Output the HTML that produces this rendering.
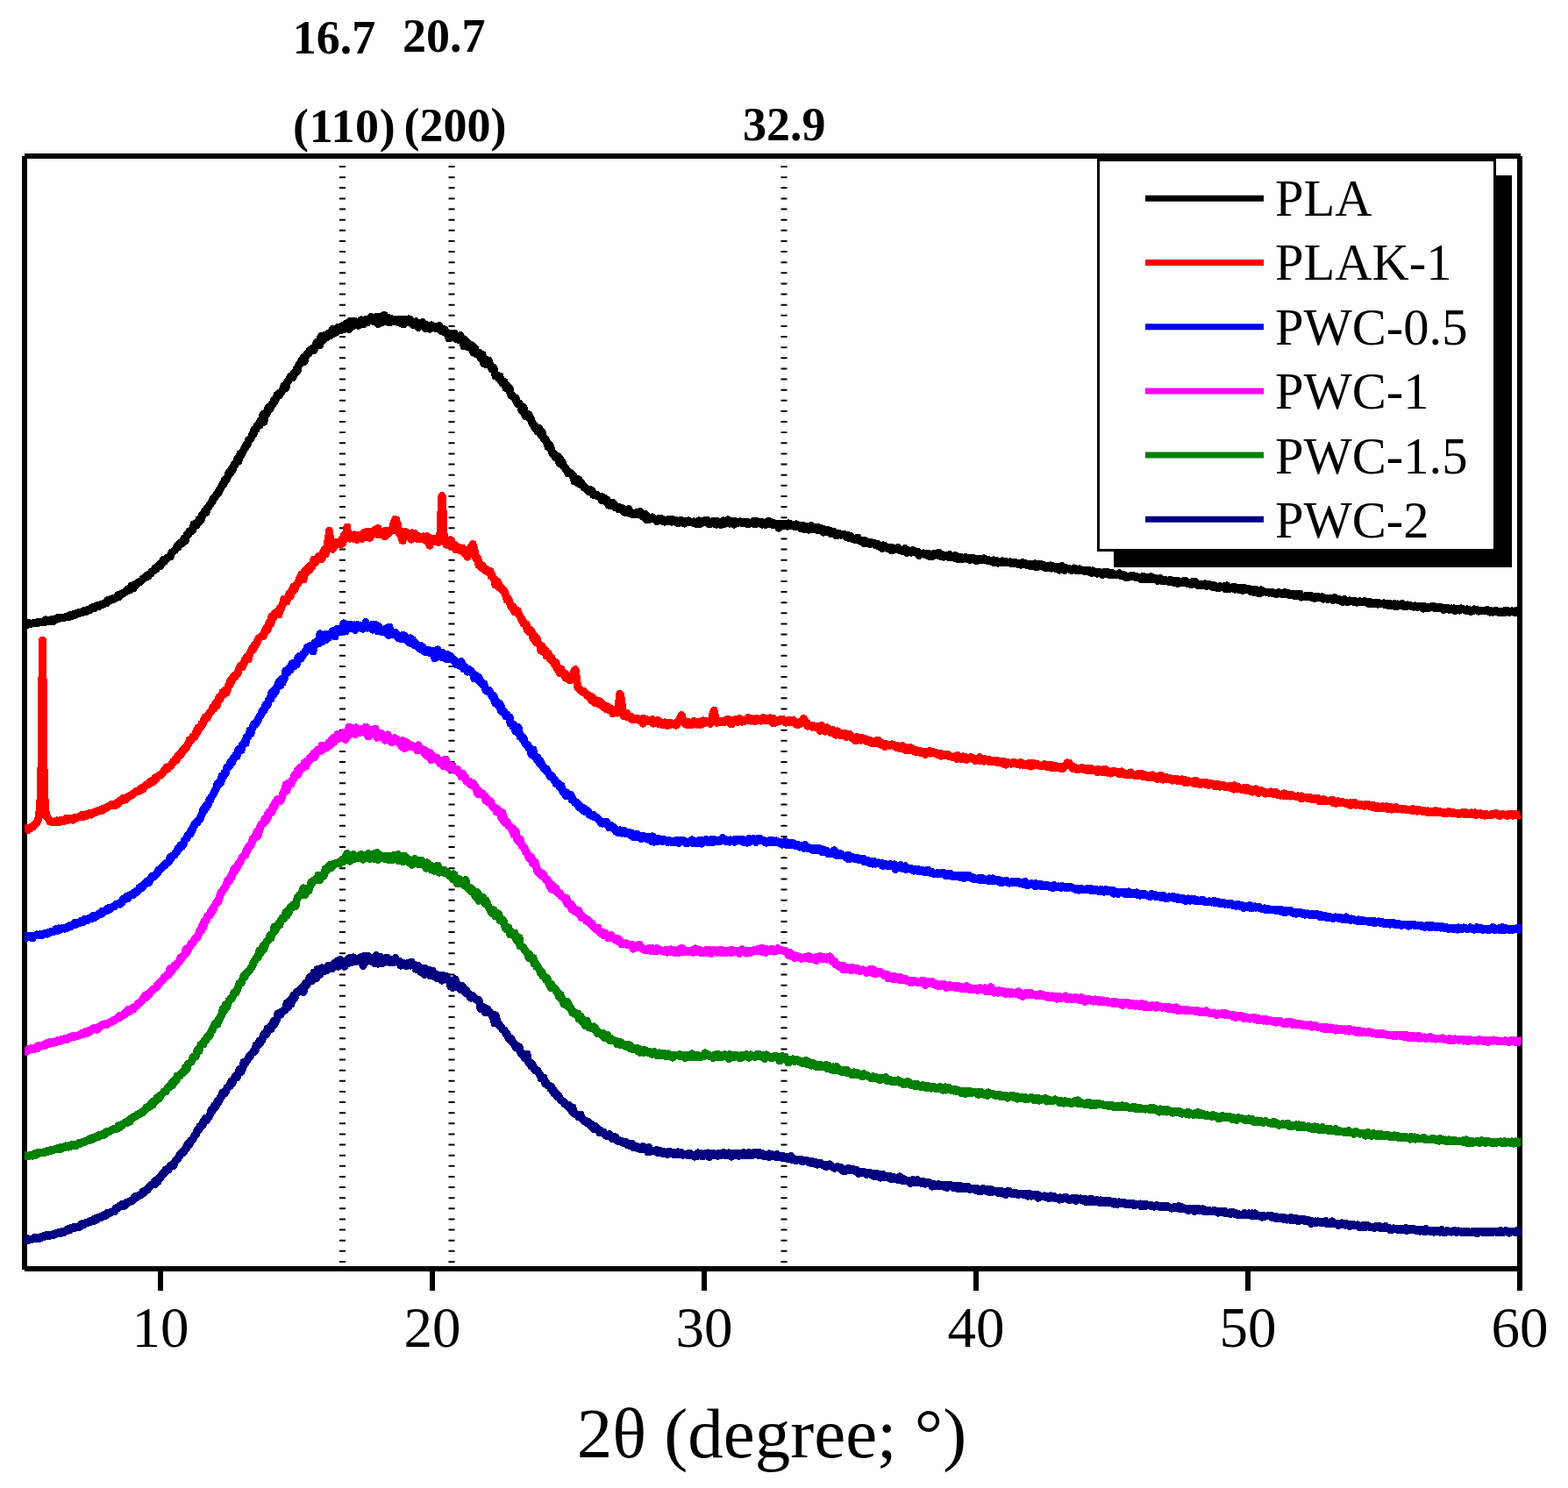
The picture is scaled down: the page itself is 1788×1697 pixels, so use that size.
<!DOCTYPE html>
<html><head><meta charset="utf-8"><title>XRD</title>
<style>
html,body{margin:0;padding:0;background:#fff;}
body{width:1788px;height:1697px;overflow:hidden;}
svg{display:block;}
.lg{font-family:'Liberation Serif','Times New Roman',serif;font-size:58.5px;fill:#000;}
.tk{font-family:'Liberation Serif','Times New Roman',serif;font-size:65px;fill:#000;}
.bd{font-family:'Liberation Serif','Times New Roman',serif;font-size:54px;font-weight:bold;fill:#000;}
.ax{font-family:'Liberation Serif','Times New Roman',serif;font-size:81px;fill:#000;}
</style></head>
<body>
<svg width="1788" height="1697" viewBox="0 0 1788 1697">
<rect x="0" y="0" width="1788" height="1697" fill="#fff"/>
<g><line x1="390.5" y1="189" x2="390.5" y2="1440" stroke="#000" stroke-width="7" stroke-dasharray="2 10.125"/><line x1="515.0" y1="189" x2="515.0" y2="1440" stroke="#000" stroke-width="7" stroke-dasharray="2 10.125"/><line x1="894.0" y1="189" x2="894.0" y2="1440" stroke="#000" stroke-width="7" stroke-dasharray="2 10.125"/></g>
<g fill="#000" shape-rendering="crispEdges">
<rect x="28" y="175" width="1706" height="6"/>
<rect x="25" y="178" width="6" height="1270"/>
<rect x="28" y="1444" width="1705" height="6"/>
<rect x="1730" y="178" width="6" height="1294"/>
<rect x="180.0" y="1448" width="6" height="24"/><text x="183.0" y="1536" class="tk" text-anchor="middle">10</text><rect x="490.0" y="1448" width="6" height="24"/><text x="493.0" y="1536" class="tk" text-anchor="middle">20</text><rect x="800.0" y="1448" width="6" height="24"/><text x="803.0" y="1536" class="tk" text-anchor="middle">30</text><rect x="1110.0" y="1448" width="6" height="24"/><text x="1113.0" y="1536" class="tk" text-anchor="middle">40</text><rect x="1420.0" y="1448" width="6" height="24"/><text x="1423.0" y="1536" class="tk" text-anchor="middle">50</text><text x="1733.0" y="1536" class="tk" text-anchor="middle">60</text>
</g>
<defs><clipPath id="pc"><rect x="28" y="0" width="1706.6" height="1697"/></clipPath></defs>
<g fill="none" stroke-width="9" stroke-linejoin="round" stroke-linecap="butt" shape-rendering="crispEdges" clip-path="url(#pc)">
<path d="M28.0 712.2L29.0 712.4L30.0 711.9L31.0 710.7L32.0 712.1L33.0 711.6L34.0 710.9L35.0 711.5L36.0 711.2L37.0 711.0L38.0 710.7L39.0 710.9L40.0 710.0L41.0 710.2L42.0 709.8L43.0 710.4L44.0 709.9L45.0 709.5L46.0 709.1L47.0 709.2L48.0 709.3L49.0 708.9L50.0 709.8L51.0 709.4L52.0 706.8L53.0 707.2L54.0 708.1L55.0 707.8L56.0 708.0L57.0 707.8L58.0 708.9L59.0 706.6L60.0 706.9L61.0 708.3L62.0 707.1L63.0 706.9L64.0 705.9L65.0 704.9L66.0 706.0L67.0 705.7L68.0 704.6L69.0 704.7L70.0 704.9L71.0 704.1L72.0 704.4L73.0 704.3L74.0 704.0L75.0 703.4L76.0 703.9L77.0 703.8L78.0 703.1L79.0 702.1L80.0 702.9L81.0 701.8L82.0 702.4L83.0 700.8L84.0 701.9L85.0 700.9L86.0 699.8L87.0 700.1L88.0 700.1L89.0 699.9L90.0 698.7L91.0 698.3L92.0 698.9L93.0 698.1L94.0 698.2L95.0 698.3L96.0 696.2L97.0 697.2L98.0 697.6L99.0 696.1L100.0 695.4L101.0 696.1L102.0 695.4L103.0 695.5L104.0 694.2L105.0 692.9L106.0 693.6L107.0 692.9L108.0 693.4L109.0 692.5L110.0 690.8L111.0 690.7L112.0 691.8L113.0 691.2L114.0 689.8L115.0 689.8L116.0 689.7L117.0 689.2L118.0 689.1L119.0 688.1L120.0 687.4L121.0 686.8L122.0 687.3L123.0 684.2L124.0 685.4L125.0 685.0L126.0 683.4L127.0 684.2L128.0 682.9L129.0 683.6L130.0 682.3L131.0 682.3L132.0 682.2L133.0 681.0L134.0 679.4L135.0 678.3L136.0 680.4L137.0 678.3L138.0 677.2L139.0 677.3L140.0 676.5L141.0 676.7L142.0 675.4L143.0 674.8L144.0 673.5L145.0 673.9L146.0 672.0L147.0 672.8L148.0 672.8L149.0 669.6L150.0 668.1L151.0 670.0L152.0 671.0L153.0 667.3L154.0 666.3L155.0 667.2L156.0 665.3L157.0 664.8L158.0 664.2L159.0 664.3L160.0 662.7L161.0 662.5L162.0 661.4L163.0 660.0L164.0 659.7L165.0 658.3L166.0 658.4L167.0 656.6L168.0 655.8L169.0 657.3L170.0 655.1L171.0 654.3L172.0 654.0L173.0 652.2L174.0 651.5L175.0 651.3L176.0 650.3L177.0 648.0L178.0 649.1L179.0 646.8L180.0 645.4L181.0 644.6L182.0 644.2L183.0 645.3L184.0 641.6L185.0 641.9L186.0 638.7L187.0 639.9L188.0 639.8L189.0 637.7L190.0 636.3L191.0 636.1L192.0 635.6L193.0 634.6L194.0 634.9L195.0 632.0L196.0 630.1L197.0 629.6L198.0 628.6L199.0 627.7L200.0 626.4L201.0 625.6L202.0 622.5L203.0 624.1L204.0 621.4L205.0 619.6L206.0 620.5L207.0 620.1L208.0 618.0L209.0 616.5L210.0 614.1L211.0 617.2L212.0 613.7L213.0 610.2L214.0 609.4L215.0 609.2L216.0 606.0L217.0 606.8L218.0 604.8L219.0 605.5L220.0 603.9L221.0 598.2L222.0 600.3L223.0 596.9L224.0 598.9L225.0 596.5L226.0 595.6L227.0 592.2L228.0 594.5L229.0 593.4L230.0 588.1L231.0 588.5L232.0 585.8L233.0 585.2L234.0 582.2L235.0 584.8L236.0 579.7L237.0 579.1L238.0 578.7L239.0 575.7L240.0 574.8L241.0 572.8L242.0 571.9L243.0 569.0L244.0 568.4L245.0 567.2L246.0 565.5L247.0 564.4L248.0 562.4L249.0 562.3L250.0 559.2L251.0 557.8L252.0 555.5L253.0 554.0L254.0 551.4L255.0 552.3L256.0 548.2L257.0 547.2L258.0 547.2L259.0 545.6L260.0 542.7L261.0 538.6L262.0 540.6L263.0 538.7L264.0 534.5L265.0 536.2L266.0 532.2L267.0 529.8L268.0 530.1L269.0 527.9L270.0 526.9L271.0 522.3L272.0 526.1L273.0 520.5L274.0 517.3L275.0 519.1L276.0 515.8L277.0 515.2L278.0 512.4L279.0 511.2L280.0 510.0L281.0 506.7L282.0 507.4L283.0 503.8L284.0 501.4L285.0 501.4L286.0 500.4L287.0 497.5L288.0 494.8L289.0 495.7L290.0 489.9L291.0 489.5L292.0 489.8L293.0 485.7L294.0 486.5L295.0 484.8L296.0 484.9L297.0 480.0L298.0 479.0L299.0 479.1L300.0 472.4L301.0 481.1L302.0 472.6L303.0 471.0L304.0 472.4L305.0 469.2L306.0 464.4L307.0 467.4L308.0 466.4L309.0 462.4L310.0 461.3L311.0 461.3L312.0 457.1L313.0 458.2L314.0 456.3L315.0 453.2L316.0 450.3L317.0 451.2L318.0 448.4L319.0 450.7L320.0 447.6L321.0 447.4L322.0 444.7L323.0 443.5L324.0 440.0L325.0 441.5L326.0 442.4L327.0 436.7L328.0 434.7L329.0 434.2L330.0 432.1L331.0 430.2L332.0 430.5L333.0 428.2L334.0 430.4L335.0 426.0L336.0 425.3L337.0 425.2L338.0 421.2L339.0 423.4L340.0 417.7L341.0 415.9L342.0 415.5L343.0 414.7L344.0 410.6L345.0 412.2L346.0 407.3L347.0 412.7L348.0 408.2L349.0 405.7L350.0 403.9L351.0 403.8L352.0 402.9L353.0 399.9L354.0 399.0L355.0 399.5L356.0 397.6L357.0 399.8L358.0 399.2L359.0 395.6L360.0 395.6L361.0 390.5L362.0 394.0L363.0 391.5L364.0 391.8L365.0 393.4L366.0 383.7L367.0 388.6L368.0 384.7L369.0 387.7L370.0 382.6L371.0 383.7L372.0 384.5L373.0 384.7L374.0 382.8L375.0 380.1L376.0 379.9L377.0 382.6L378.0 379.9L379.0 375.4L380.0 380.7L381.0 379.1L382.0 379.6L383.0 376.2L384.0 378.4L385.0 373.5L386.0 376.8L387.0 373.8L388.0 376.1L389.0 376.4L390.0 371.9L391.0 373.1L392.0 372.9L393.0 375.2L394.0 373.7L395.0 368.8L396.0 372.4L397.0 372.7L398.0 375.6L399.0 366.3L400.0 368.7L401.0 372.9L402.0 366.2L403.0 366.3L404.0 370.1L405.0 371.0L406.0 366.8L407.0 369.4L408.0 368.2L409.0 371.3L410.0 367.5L411.0 369.6L412.0 364.9L413.0 366.5L414.0 366.5L415.0 369.3L416.0 367.8L417.0 364.4L418.0 367.7L419.0 367.8L420.0 365.6L421.0 365.1L422.0 365.1L423.0 361.4L424.0 365.9L425.0 365.9L426.0 363.2L427.0 366.9L428.0 361.8L429.0 363.7L430.0 363.8L431.0 369.7L432.0 361.0L433.0 366.2L434.0 367.1L435.0 365.7L436.0 367.6L437.0 362.4L438.0 359.3L439.0 366.6L440.0 361.9L441.0 364.0L442.0 362.0L443.0 367.3L444.0 366.9L445.0 363.1L446.0 367.1L447.0 365.2L448.0 364.7L449.0 365.2L450.0 364.6L451.0 366.6L452.0 366.0L453.0 364.4L454.0 367.8L455.0 364.0L456.0 366.2L457.0 366.6L458.0 369.2L459.0 364.6L460.0 370.0L461.0 366.4L462.0 365.6L463.0 364.6L464.0 367.7L465.0 366.5L466.0 363.9L467.0 364.0L468.0 365.5L469.0 365.3L470.0 369.7L471.0 370.5L472.0 369.5L473.0 368.4L474.0 366.7L475.0 368.0L476.0 370.2L477.0 373.3L478.0 370.6L479.0 368.0L480.0 369.0L481.0 367.9L482.0 367.4L483.0 369.1L484.0 370.2L485.0 374.4L486.0 370.4L487.0 373.7L488.0 375.0L489.0 371.2L490.0 375.1L491.0 373.3L492.0 370.9L493.0 372.9L494.0 372.6L495.0 372.3L496.0 372.7L497.0 373.9L498.0 374.9L499.0 372.2L500.0 374.6L501.0 371.4L502.0 376.0L503.0 377.2L504.0 376.6L505.0 377.3L506.0 378.4L507.0 375.9L508.0 377.4L509.0 379.6L510.0 381.2L511.0 380.2L512.0 385.8L513.0 380.1L514.0 383.2L515.0 384.3L516.0 381.6L517.0 380.5L518.0 380.3L519.0 383.9L520.0 386.7L521.0 385.4L522.0 385.8L523.0 385.1L524.0 387.9L525.0 382.4L526.0 388.4L527.0 388.6L528.0 386.1L529.0 394.9L530.0 387.5L531.0 388.9L532.0 389.4L533.0 395.4L534.0 391.6L535.0 395.9L536.0 396.5L537.0 396.6L538.0 393.9L539.0 396.3L540.0 402.2L541.0 396.5L542.0 398.4L543.0 400.8L544.0 403.8L545.0 403.5L546.0 405.5L547.0 402.5L548.0 407.9L549.0 408.0L550.0 404.3L551.0 412.2L552.0 414.8L553.0 409.2L554.0 412.1L555.0 416.0L556.0 410.9L557.0 411.0L558.0 413.6L559.0 416.3L560.0 417.4L561.0 421.1L562.0 421.6L563.0 419.6L564.0 424.6L565.0 428.6L566.0 428.4L567.0 429.2L568.0 428.5L569.0 431.7L570.0 429.0L571.0 433.8L572.0 433.4L573.0 437.2L574.0 437.2L575.0 435.3L576.0 439.1L577.0 442.7L578.0 439.3L579.0 441.8L580.0 442.8L581.0 442.7L582.0 448.9L583.0 451.0L584.0 451.4L585.0 451.6L586.0 452.5L587.0 454.4L588.0 453.9L589.0 458.5L590.0 460.1L591.0 461.3L592.0 459.9L593.0 462.5L594.0 463.4L595.0 468.5L596.0 466.9L597.0 464.4L598.0 470.1L599.0 474.3L600.0 473.4L601.0 475.2L602.0 475.0L603.0 472.8L604.0 474.5L605.0 476.9L606.0 480.4L607.0 482.6L608.0 484.7L609.0 484.3L610.0 488.0L611.0 487.2L612.0 487.9L613.0 492.0L614.0 490.3L615.0 488.6L616.0 492.9L617.0 496.4L618.0 492.3L619.0 498.4L620.0 499.9L621.0 499.4L622.0 500.7L623.0 503.9L624.0 505.2L625.0 509.6L626.0 509.5L627.0 507.6L628.0 510.2L629.0 514.2L630.0 517.5L631.0 516.4L632.0 517.6L633.0 521.5L634.0 519.8L635.0 520.6L636.0 520.2L637.0 523.0L638.0 528.5L639.0 524.1L640.0 527.6L641.0 526.7L642.0 530.3L643.0 532.7L644.0 532.2L645.0 534.9L646.0 536.0L647.0 536.8L648.0 539.9L649.0 539.6L650.0 539.0L651.0 539.5L652.0 540.4L653.0 543.4L654.0 543.3L655.0 548.8L656.0 548.5L657.0 546.4L658.0 547.2L659.0 551.2L660.0 546.9L661.0 549.9L662.0 552.8L663.0 551.0L664.0 552.5L665.0 553.6L666.0 555.9L667.0 556.0L668.0 557.2L669.0 558.2L670.0 558.2L671.0 560.5L672.0 558.7L673.0 558.5L674.0 558.7L675.0 559.7L676.0 561.9L677.0 564.8L678.0 564.3L679.0 563.9L680.0 563.9L681.0 565.4L682.0 566.2L683.0 566.6L684.0 566.0L685.0 568.0L686.0 570.6L687.0 566.9L688.0 570.1L689.0 568.1L690.0 571.8L691.0 571.1L692.0 569.9L693.0 573.4L694.0 576.2L695.0 574.5L696.0 576.4L697.0 575.3L698.0 573.0L699.0 577.0L700.0 576.3L701.0 575.4L702.0 578.8L703.0 578.6L704.0 578.0L705.0 580.3L706.0 578.5L707.0 580.9L708.0 579.2L709.0 581.6L710.0 579.9L711.0 583.6L712.0 582.4L713.0 584.3L714.0 581.8L715.0 582.6L716.0 584.7L717.0 580.4L718.0 582.9L719.0 586.0L720.0 585.6L721.0 586.6L722.0 585.3L723.0 586.7L724.0 585.4L725.0 584.8L726.0 584.7L727.0 586.5L728.0 586.8L729.0 587.0L730.0 583.5L731.0 585.8L732.0 587.9L733.0 589.2L734.0 588.3L735.0 588.2L736.0 586.6L737.0 592.4L738.0 588.6L739.0 592.4L740.0 592.4L741.0 591.0L742.0 590.2L743.0 591.3L744.0 589.8L745.0 591.8L746.0 591.7L747.0 592.5L748.0 593.2L749.0 594.4L750.0 591.9L751.0 593.8L752.0 591.7L753.0 591.7L754.0 592.2L755.0 591.9L756.0 594.5L757.0 594.5L758.0 595.1L759.0 593.6L760.0 594.1L761.0 593.2L762.0 592.6L763.0 594.7L764.0 594.6L765.0 592.9L766.0 595.1L767.0 592.4L768.0 594.4L769.0 593.9L770.0 594.1L771.0 593.5L772.0 596.1L773.0 595.7L774.0 596.6L775.0 595.3L776.0 593.6L777.0 594.8L778.0 593.9L779.0 596.0L780.0 596.9L781.0 595.9L782.0 594.8L783.0 595.1L784.0 595.9L785.0 593.9L786.0 595.9L787.0 596.0L788.0 595.1L789.0 595.3L790.0 596.1L791.0 594.9L792.0 594.9L793.0 596.9L794.0 596.2L795.0 598.0L796.0 594.8L797.0 593.8L798.0 597.2L799.0 597.2L800.0 595.1L801.0 594.2L802.0 596.0L803.0 593.9L804.0 595.6L805.0 593.4L806.0 595.8L807.0 593.5L808.0 595.8L809.0 598.0L810.0 595.8L811.0 597.0L812.0 595.3L813.0 595.0L814.0 594.2L815.0 597.4L816.0 596.0L817.0 598.1L818.0 594.6L819.0 595.8L820.0 596.2L821.0 597.8L822.0 598.3L823.0 595.3L824.0 594.7L825.0 593.9L826.0 597.7L827.0 595.9L828.0 595.3L829.0 596.0L830.0 592.9L831.0 593.9L832.0 597.2L833.0 596.5L834.0 596.2L835.0 594.8L836.0 596.8L837.0 598.2L838.0 594.5L839.0 596.1L840.0 595.5L841.0 596.5L842.0 596.1L843.0 595.9L844.0 595.0L845.0 596.0L846.0 595.3L847.0 595.9L848.0 596.0L849.0 596.9L850.0 595.4L851.0 595.7L852.0 597.4L853.0 595.9L854.0 595.8L855.0 597.2L856.0 596.5L857.0 596.3L858.0 596.5L859.0 594.7L860.0 596.8L861.0 597.9L862.0 597.0L863.0 594.4L864.0 596.7L865.0 595.3L866.0 596.1L867.0 596.6L868.0 595.0L869.0 598.2L870.0 596.5L871.0 597.6L872.0 597.4L873.0 598.3L874.0 598.2L875.0 594.9L876.0 596.9L877.0 594.2L878.0 596.4L879.0 597.8L880.0 598.1L881.0 598.6L882.0 596.7L883.0 597.6L884.0 597.4L885.0 598.9L886.0 599.3L887.0 597.0L888.0 602.2L889.0 597.6L890.0 597.2L891.0 598.5L892.0 598.7L893.0 598.6L894.0 597.2L895.0 599.9L896.0 598.2L897.0 600.1L898.0 600.1L899.0 596.9L900.0 597.4L901.0 597.4L902.0 599.1L903.0 598.9L904.0 599.3L905.0 598.1L906.0 599.7L907.0 601.0L908.0 597.8L909.0 599.3L910.0 600.0L911.0 599.7L912.0 599.7L913.0 602.3L914.0 601.8L915.0 601.4L916.0 599.6L917.0 603.4L918.0 601.3L919.0 600.3L920.0 600.8L921.0 600.8L922.0 604.1L923.0 601.9L924.0 601.9L925.0 599.5L926.0 603.1L927.0 601.1L928.0 601.2L929.0 603.5L930.0 602.0L931.0 604.2L932.0 604.7L933.0 601.5L934.0 603.7L935.0 602.2L936.0 604.2L937.0 605.6L938.0 603.1L939.0 607.1L940.0 604.8L941.0 604.0L942.0 605.5L943.0 606.8L944.0 604.5L945.0 606.4L946.0 605.0L947.0 608.3L948.0 607.3L949.0 606.9L950.0 608.9L951.0 606.4L952.0 607.7L953.0 610.6L954.0 608.6L955.0 610.6L956.0 609.5L957.0 608.7L958.0 609.5L959.0 610.2L960.0 609.9L961.0 609.7L962.0 610.0L963.0 609.5L964.0 611.6L965.0 612.2L966.0 612.9L967.0 610.2L968.0 613.5L969.0 612.9L970.0 611.5L971.0 613.6L972.0 614.7L973.0 614.6L974.0 615.1L975.0 615.7L976.0 615.9L977.0 615.1L978.0 613.1L979.0 614.9L980.0 616.4L981.0 615.8L982.0 617.4L983.0 617.8L984.0 617.2L985.0 619.6L986.0 616.6L987.0 619.1L988.0 617.8L989.0 617.7L990.0 619.5L991.0 618.4L992.0 620.3L993.0 618.4L994.0 620.0L995.0 619.3L996.0 620.2L997.0 620.3L998.0 619.7L999.0 622.0L1000.0 620.1L1001.0 620.7L1002.0 623.0L1003.0 623.3L1004.0 623.2L1005.0 623.1L1006.0 625.5L1007.0 621.9L1008.0 622.7L1009.0 622.6L1010.0 624.9L1011.0 624.5L1012.0 625.6L1013.0 625.7L1014.0 624.6L1015.0 624.2L1016.0 624.2L1017.0 627.9L1018.0 626.7L1019.0 626.5L1020.0 625.7L1021.0 626.1L1022.0 626.1L1023.0 626.3L1024.0 624.3L1025.0 627.0L1026.0 626.8L1027.0 627.7L1028.0 627.8L1029.0 628.7L1030.0 627.9L1031.0 629.0L1032.0 625.6L1033.0 627.3L1034.0 630.5L1035.0 627.5L1036.0 628.7L1037.0 629.9L1038.0 628.4L1039.0 630.2L1040.0 628.1L1041.0 627.7L1042.0 628.5L1043.0 628.3L1044.0 630.2L1045.0 630.0L1046.0 630.9L1047.0 629.6L1048.0 633.5L1049.0 630.8L1050.0 631.0L1051.0 631.7L1052.0 631.1L1053.0 630.8L1054.0 631.7L1055.0 632.7L1056.0 632.6L1057.0 633.0L1058.0 631.5L1059.0 631.4L1060.0 634.5L1061.0 632.2L1062.0 633.1L1063.0 633.5L1064.0 634.3L1065.0 631.5L1066.0 632.6L1067.0 632.7L1068.0 633.0L1069.0 630.9L1070.0 633.4L1071.0 630.6L1072.0 634.1L1073.0 634.4L1074.0 634.6L1075.0 632.8L1076.0 635.2L1077.0 633.4L1078.0 633.1L1079.0 633.5L1080.0 633.7L1081.0 634.9L1082.0 635.6L1083.0 632.7L1084.0 634.4L1085.0 636.0L1086.0 635.4L1087.0 635.8L1088.0 633.8L1089.0 636.5L1090.0 633.9L1091.0 635.9L1092.0 637.2L1093.0 637.8L1094.0 636.5L1095.0 637.0L1096.0 635.5L1097.0 635.7L1098.0 637.5L1099.0 636.4L1100.0 636.4L1101.0 635.2L1102.0 636.9L1103.0 637.5L1104.0 636.1L1105.0 636.5L1106.0 638.7L1107.0 637.4L1108.0 637.0L1109.0 636.2L1110.0 636.8L1111.0 637.3L1112.0 639.1L1113.0 637.1L1114.0 639.7L1115.0 637.0L1116.0 637.7L1117.0 639.0L1118.0 638.0L1119.0 637.5L1120.0 638.3L1121.0 639.0L1122.0 636.9L1123.0 638.5L1124.0 638.7L1125.0 638.5L1126.0 639.8L1127.0 638.5L1128.0 638.8L1129.0 639.3L1130.0 640.1L1131.0 639.3L1132.0 641.1L1133.0 638.8L1134.0 641.1L1135.0 639.0L1136.0 639.8L1137.0 640.5L1138.0 642.3L1139.0 641.2L1140.0 640.0L1141.0 641.8L1142.0 640.4L1143.0 639.9L1144.0 641.3L1145.0 641.0L1146.0 642.0L1147.0 640.6L1148.0 641.6L1149.0 642.0L1150.0 641.7L1151.0 641.5L1152.0 640.9L1153.0 642.6L1154.0 642.0L1155.0 642.4L1156.0 641.7L1157.0 642.2L1158.0 641.2L1159.0 642.4L1160.0 643.2L1161.0 642.7L1162.0 643.5L1163.0 643.1L1164.0 644.2L1165.0 642.8L1166.0 641.5L1167.0 643.6L1168.0 643.1L1169.0 642.4L1170.0 644.2L1171.0 643.9L1172.0 644.2L1173.0 643.5L1174.0 644.1L1175.0 644.3L1176.0 645.9L1177.0 643.6L1178.0 644.4L1179.0 644.8L1180.0 642.9L1181.0 643.1L1182.0 647.0L1183.0 643.2L1184.0 645.6L1185.0 644.3L1186.0 644.5L1187.0 643.4L1188.0 644.6L1189.0 646.3L1190.0 644.3L1191.0 646.4L1192.0 646.2L1193.0 648.0L1194.0 645.7L1195.0 647.5L1196.0 647.2L1197.0 646.2L1198.0 644.9L1199.0 648.1L1200.0 645.4L1201.0 646.4L1202.0 647.9L1203.0 648.2L1204.0 646.4L1205.0 647.3L1206.0 647.2L1207.0 648.7L1208.0 650.1L1209.0 646.0L1210.0 648.8L1211.0 645.2L1212.0 648.1L1213.0 647.2L1214.0 650.3L1215.0 648.6L1216.0 647.9L1217.0 648.2L1218.0 648.2L1219.0 649.1L1220.0 648.9L1221.0 649.8L1222.0 650.7L1223.0 650.0L1224.0 648.3L1225.0 648.0L1226.0 649.0L1227.0 650.8L1228.0 649.6L1229.0 649.4L1230.0 650.3L1231.0 648.9L1232.0 649.3L1233.0 651.0L1234.0 650.3L1235.0 650.3L1236.0 651.1L1237.0 650.4L1238.0 650.4L1239.0 650.8L1240.0 651.9L1241.0 651.5L1242.0 650.4L1243.0 651.4L1244.0 652.4L1245.0 653.7L1246.0 650.9L1247.0 652.4L1248.0 652.0L1249.0 653.1L1250.0 652.9L1251.0 654.0L1252.0 653.2L1253.0 652.3L1254.0 652.4L1255.0 653.4L1256.0 653.5L1257.0 655.5L1258.0 655.0L1259.0 652.4L1260.0 654.0L1261.0 652.5L1262.0 652.3L1263.0 654.7L1264.0 654.6L1265.0 653.2L1266.0 655.9L1267.0 653.5L1268.0 653.5L1269.0 655.3L1270.0 655.0L1271.0 654.8L1272.0 655.0L1273.0 655.4L1274.0 655.1L1275.0 655.2L1276.0 653.7L1277.0 654.4L1278.0 656.3L1279.0 655.2L1280.0 656.5L1281.0 657.2L1282.0 655.9L1283.0 656.6L1284.0 658.4L1285.0 657.2L1286.0 658.4L1287.0 658.2L1288.0 657.6L1289.0 656.9L1290.0 656.4L1291.0 656.2L1292.0 657.8L1293.0 657.9L1294.0 657.5L1295.0 658.5L1296.0 657.3L1297.0 659.0L1298.0 658.1L1299.0 658.2L1300.0 658.3L1301.0 658.4L1302.0 660.9L1303.0 657.2L1304.0 659.0L1305.0 660.1L1306.0 659.7L1307.0 658.9L1308.0 660.9L1309.0 658.4L1310.0 658.3L1311.0 660.2L1312.0 658.4L1313.0 657.7L1314.0 660.8L1315.0 660.8L1316.0 660.9L1317.0 659.9L1318.0 660.6L1319.0 659.7L1320.0 662.3L1321.0 661.5L1322.0 661.6L1323.0 659.3L1324.0 661.9L1325.0 662.7L1326.0 662.5L1327.0 662.3L1328.0 661.7L1329.0 661.5L1330.0 662.4L1331.0 662.4L1332.0 662.3L1333.0 662.0L1334.0 663.9L1335.0 661.4L1336.0 662.6L1337.0 662.2L1338.0 663.8L1339.0 664.3L1340.0 664.2L1341.0 663.9L1342.0 662.1L1343.0 665.3L1344.0 664.0L1345.0 663.6L1346.0 663.8L1347.0 663.6L1348.0 664.4L1349.0 664.4L1350.0 664.0L1351.0 662.1L1352.0 664.5L1353.0 665.1L1354.0 665.2L1355.0 664.7L1356.0 665.4L1357.0 666.0L1358.0 664.8L1359.0 666.6L1360.0 663.7L1361.0 664.5L1362.0 664.9L1363.0 663.7L1364.0 665.1L1365.0 667.2L1366.0 667.3L1367.0 666.4L1368.0 667.9L1369.0 666.7L1370.0 666.2L1371.0 667.0L1372.0 666.8L1373.0 667.6L1374.0 665.8L1375.0 668.1L1376.0 666.9L1377.0 668.2L1378.0 666.2L1379.0 667.3L1380.0 667.9L1381.0 668.7L1382.0 667.0L1383.0 669.6L1384.0 668.7L1385.0 667.9L1386.0 669.6L1387.0 668.7L1388.0 669.8L1389.0 670.9L1390.0 669.7L1391.0 668.6L1392.0 668.9L1393.0 669.8L1394.0 669.7L1395.0 668.9L1396.0 669.1L1397.0 670.4L1398.0 671.9L1399.0 667.8L1400.0 670.8L1401.0 670.1L1402.0 671.1L1403.0 671.2L1404.0 670.7L1405.0 669.9L1406.0 669.7L1407.0 669.4L1408.0 672.1L1409.0 671.0L1410.0 670.8L1411.0 671.2L1412.0 670.4L1413.0 671.9L1414.0 672.9L1415.0 672.9L1416.0 670.7L1417.0 673.3L1418.0 671.6L1419.0 670.7L1420.0 671.4L1421.0 671.8L1422.0 672.7L1423.0 671.9L1424.0 671.6L1425.0 672.8L1426.0 674.8L1427.0 672.7L1428.0 673.8L1429.0 673.6L1430.0 675.8L1431.0 672.1L1432.0 674.7L1433.0 672.9L1434.0 673.6L1435.0 674.1L1436.0 677.0L1437.0 673.8L1438.0 672.9L1439.0 675.7L1440.0 674.0L1441.0 674.6L1442.0 674.9L1443.0 675.1L1444.0 675.0L1445.0 675.5L1446.0 675.7L1447.0 676.2L1448.0 675.3L1449.0 675.1L1450.0 675.0L1451.0 676.4L1452.0 676.0L1453.0 676.6L1454.0 676.7L1455.0 677.8L1456.0 676.7L1457.0 677.2L1458.0 675.7L1459.0 675.9L1460.0 676.7L1461.0 676.1L1462.0 677.7L1463.0 676.2L1464.0 677.4L1465.0 675.5L1466.0 676.7L1467.0 677.4L1468.0 677.6L1469.0 676.5L1470.0 678.1L1471.0 678.9L1472.0 678.8L1473.0 677.8L1474.0 678.0L1475.0 677.6L1476.0 679.2L1477.0 680.0L1478.0 678.5L1479.0 677.6L1480.0 679.3L1481.0 679.8L1482.0 677.1L1483.0 679.5L1484.0 681.3L1485.0 680.3L1486.0 680.2L1487.0 680.2L1488.0 680.8L1489.0 679.3L1490.0 679.5L1491.0 680.6L1492.0 679.8L1493.0 680.7L1494.0 679.0L1495.0 681.3L1496.0 681.5L1497.0 680.9L1498.0 681.1L1499.0 682.4L1500.0 680.3L1501.0 680.6L1502.0 680.5L1503.0 681.2L1504.0 680.8L1505.0 681.8L1506.0 681.3L1507.0 680.8L1508.0 680.8L1509.0 683.1L1510.0 682.2L1511.0 682.2L1512.0 682.5L1513.0 682.5L1514.0 683.3L1515.0 683.2L1516.0 682.4L1517.0 682.3L1518.0 682.2L1519.0 682.2L1520.0 684.4L1521.0 682.6L1522.0 681.8L1523.0 682.9L1524.0 683.0L1525.0 684.0L1526.0 683.1L1527.0 684.4L1528.0 684.3L1529.0 685.1L1530.0 685.9L1531.0 686.6L1532.0 685.5L1533.0 683.6L1534.0 684.3L1535.0 684.9L1536.0 686.4L1537.0 685.4L1538.0 686.0L1539.0 685.0L1540.0 685.7L1541.0 685.9L1542.0 685.0L1543.0 686.1L1544.0 686.4L1545.0 685.6L1546.0 686.6L1547.0 687.2L1548.0 686.0L1549.0 686.1L1550.0 685.9L1551.0 685.8L1552.0 686.5L1553.0 686.1L1554.0 686.3L1555.0 686.0L1556.0 685.5L1557.0 686.1L1558.0 687.1L1559.0 686.1L1560.0 686.6L1561.0 688.4L1562.0 688.1L1563.0 686.8L1564.0 687.9L1565.0 687.0L1566.0 688.9L1567.0 687.2L1568.0 687.9L1569.0 688.9L1570.0 687.3L1571.0 689.1L1572.0 687.5L1573.0 688.4L1574.0 688.1L1575.0 688.3L1576.0 688.6L1577.0 688.5L1578.0 687.9L1579.0 689.4L1580.0 689.4L1581.0 689.9L1582.0 690.1L1583.0 688.1L1584.0 690.2L1585.0 690.3L1586.0 688.9L1587.0 690.2L1588.0 690.6L1589.0 689.2L1590.0 688.6L1591.0 689.5L1592.0 692.0L1593.0 690.1L1594.0 689.1L1595.0 689.9L1596.0 689.4L1597.0 690.0L1598.0 690.4L1599.0 688.5L1600.0 690.8L1601.0 691.7L1602.0 690.5L1603.0 690.5L1604.0 691.7L1605.0 689.9L1606.0 690.0L1607.0 690.0L1608.0 691.0L1609.0 691.5L1610.0 691.2L1611.0 691.8L1612.0 692.1L1613.0 691.9L1614.0 691.0L1615.0 691.5L1616.0 692.7L1617.0 691.0L1618.0 691.7L1619.0 691.7L1620.0 691.9L1621.0 691.3L1622.0 691.2L1623.0 694.2L1624.0 693.1L1625.0 691.9L1626.0 692.5L1627.0 693.1L1628.0 692.4L1629.0 693.2L1630.0 692.3L1631.0 692.6L1632.0 692.9L1633.0 692.7L1634.0 691.2L1635.0 693.2L1636.0 693.4L1637.0 693.6L1638.0 692.6L1639.0 693.7L1640.0 693.7L1641.0 692.2L1642.0 692.0L1643.0 694.0L1644.0 693.1L1645.0 694.6L1646.0 695.5L1647.0 693.5L1648.0 693.5L1649.0 694.1L1650.0 694.7L1651.0 693.4L1652.0 695.2L1653.0 695.1L1654.0 694.9L1655.0 694.1L1656.0 695.2L1657.0 695.2L1658.0 693.8L1659.0 696.3L1660.0 694.6L1661.0 695.1L1662.0 694.5L1663.0 695.3L1664.0 695.9L1665.0 694.5L1666.0 693.9L1667.0 694.9L1668.0 694.3L1669.0 694.8L1670.0 695.3L1671.0 695.4L1672.0 696.5L1673.0 694.8L1674.0 695.9L1675.0 695.3L1676.0 696.7L1677.0 697.6L1678.0 696.1L1679.0 697.1L1680.0 695.6L1681.0 694.8L1682.0 695.1L1683.0 695.0L1684.0 695.5L1685.0 696.1L1686.0 697.1L1687.0 696.8L1688.0 696.7L1689.0 696.1L1690.0 696.0L1691.0 696.6L1692.0 696.7L1693.0 696.8L1694.0 697.0L1695.0 696.7L1696.0 695.4L1697.0 696.0L1698.0 696.3L1699.0 698.2L1700.0 696.7L1701.0 697.5L1702.0 698.1L1703.0 697.4L1704.0 696.9L1705.0 697.0L1706.0 696.5L1707.0 697.5L1708.0 698.2L1709.0 697.8L1710.0 698.0L1711.0 698.0L1712.0 699.0L1713.0 697.1L1714.0 697.7L1715.0 698.2L1716.0 698.6L1717.0 696.0L1718.0 697.4L1719.0 697.7L1720.0 697.1L1721.0 698.5L1722.0 698.1L1723.0 697.7L1724.0 696.8L1725.0 697.1L1726.0 697.4L1727.0 698.4L1728.0 697.3L1729.0 696.7L1730.0 697.2L1731.0 697.8L1732.0 699.5L1733.0 700.1L1734.0 698.0" stroke="#000000"/>
<path d="M28.0 946.9L29.0 946.1L30.0 945.7L31.0 944.0L32.0 946.3L33.0 945.5L34.0 944.0L35.0 944.3L36.0 943.5L37.0 942.4L38.0 942.8L39.0 941.2L40.0 940.3L41.0 938.9L42.0 938.3L43.0 935.8L44.0 932.8L45.0 925.7L46.0 912.8L47.0 876.0L48.0 773.1L48.5 730.3L49.0 772.5L50.0 876.2L51.0 910.8L52.0 924.9L53.0 931.6L54.0 932.0L55.0 933.6L56.0 934.7L57.0 936.9L58.0 936.7L59.0 937.6L60.0 937.4L61.0 937.1L62.0 937.1L63.0 936.7L64.0 937.4L65.0 935.9L66.0 936.2L67.0 936.6L68.0 937.5L69.0 935.6L70.0 935.2L71.0 935.4L72.0 936.3L73.0 935.2L74.0 936.2L75.0 933.7L76.0 935.6L77.0 935.4L78.0 933.4L79.0 934.3L80.0 934.9L81.0 933.9L82.0 934.3L83.0 935.1L84.0 933.4L85.0 932.7L86.0 932.2L87.0 933.0L88.0 932.1L89.0 931.9L90.0 931.7L91.0 932.0L92.0 930.5L93.0 929.9L94.0 929.0L95.0 931.4L96.0 930.3L97.0 931.0L98.0 929.6L99.0 928.8L100.0 929.4L101.0 928.7L102.0 927.5L103.0 927.5L104.0 929.1L105.0 927.8L106.0 927.5L107.0 926.6L108.0 926.0L109.0 926.8L110.0 925.7L111.0 924.8L112.0 924.9L113.0 924.0L114.0 924.4L115.0 924.8L116.0 922.9L117.0 924.2L118.0 922.2L119.0 922.4L120.0 921.2L121.0 921.3L122.0 921.1L123.0 920.2L124.0 919.6L125.0 919.2L126.0 918.6L127.0 917.5L128.0 918.1L129.0 918.2L130.0 918.1L131.0 917.4L132.0 918.4L133.0 916.1L134.0 915.0L135.0 916.4L136.0 913.5L137.0 914.6L138.0 912.5L139.0 913.1L140.0 910.6L141.0 912.5L142.0 911.0L143.0 909.8L144.0 911.5L145.0 910.1L146.0 908.9L147.0 907.7L148.0 907.7L149.0 907.0L150.0 907.2L151.0 906.7L152.0 904.8L153.0 904.3L154.0 903.7L155.0 902.3L156.0 902.4L157.0 902.2L158.0 902.2L159.0 902.1L160.0 899.6L161.0 900.1L162.0 898.6L163.0 900.2L164.0 897.6L165.0 897.4L166.0 895.4L167.0 894.8L168.0 895.1L169.0 893.8L170.0 893.8L171.0 891.3L172.0 892.7L173.0 890.5L174.0 892.2L175.0 889.5L176.0 890.1L177.0 887.0L178.0 887.9L179.0 885.9L180.0 885.5L181.0 885.1L182.0 884.0L183.0 883.7L184.0 883.3L185.0 882.4L186.0 880.8L187.0 878.6L188.0 878.3L189.0 878.0L190.0 875.1L191.0 877.0L192.0 875.1L193.0 874.1L194.0 874.3L195.0 873.0L196.0 871.5L197.0 869.2L198.0 869.5L199.0 868.5L200.0 866.0L201.0 867.0L202.0 865.3L203.0 861.4L204.0 862.5L205.0 859.8L206.0 861.2L207.0 859.5L208.0 856.1L209.0 855.1L210.0 854.9L211.0 853.2L212.0 853.8L213.0 851.6L214.0 849.0L215.0 848.6L216.0 844.2L217.0 845.5L218.0 844.7L219.0 842.1L220.0 840.0L221.0 840.1L222.0 840.3L223.0 836.7L224.0 833.7L225.0 835.4L226.0 829.8L227.0 831.3L228.0 828.4L229.0 828.9L230.0 825.2L231.0 826.5L232.0 823.7L233.0 819.7L234.0 817.9L235.0 818.6L236.0 819.3L237.0 816.3L238.0 814.8L239.0 813.0L240.0 812.8L241.0 810.9L242.0 809.4L243.0 806.2L244.0 807.8L245.0 806.6L246.0 801.5L247.0 805.1L248.0 801.5L249.0 798.3L250.0 794.9L251.0 797.1L252.0 795.5L253.0 792.4L254.0 789.3L255.0 792.1L256.0 788.1L257.0 786.9L258.0 790.3L259.0 787.8L260.0 784.7L261.0 781.1L262.0 781.3L263.0 775.4L264.0 777.5L265.0 774.7L266.0 772.5L267.0 770.5L268.0 772.3L269.0 770.1L270.0 768.8L271.0 768.3L272.0 764.2L273.0 762.1L274.0 759.7L275.0 760.5L276.0 760.8L277.0 757.8L278.0 757.6L279.0 753.1L280.0 752.7L281.0 750.7L282.0 748.4L283.0 752.0L284.0 748.9L285.0 744.6L286.0 743.1L287.0 742.8L288.0 738.9L289.0 740.6L290.0 736.0L291.0 736.1L292.0 733.4L293.0 732.9L294.0 729.8L295.0 727.9L296.0 727.4L297.0 726.4L298.0 725.6L299.0 724.7L300.0 725.8L301.0 723.0L302.0 719.5L303.0 719.8L304.0 715.7L305.0 718.1L306.0 714.9L307.0 709.9L308.0 712.3L309.0 710.9L310.0 702.8L311.0 704.9L312.0 703.9L313.0 699.6L314.0 699.8L315.0 698.5L316.0 699.8L317.0 697.9L318.0 701.0L319.0 693.6L320.0 695.1L321.0 691.5L322.0 690.4L323.0 686.1L324.0 683.1L325.0 683.9L326.0 685.5L327.0 685.7L328.0 682.3L329.0 680.7L330.0 676.5L331.0 679.9L332.0 678.1L333.0 672.8L334.0 672.4L335.0 669.0L336.0 672.7L337.0 669.1L338.0 666.7L339.0 666.4L340.0 665.1L341.0 662.0L342.0 658.9L343.0 657.4L344.0 655.1L345.0 658.5L346.0 661.0L347.0 651.3L348.0 654.0L349.0 653.4L350.0 649.1L351.0 650.5L352.0 646.4L353.0 650.3L354.0 645.2L355.0 645.6L356.0 645.7L357.0 642.2L358.0 638.0L359.0 639.8L360.0 641.6L361.0 638.7L362.0 638.4L363.0 634.4L364.0 636.2L365.0 636.6L366.0 634.1L367.0 637.4L368.0 631.7L369.0 628.9L370.0 626.7L371.0 632.2L372.0 627.9L373.0 626.2L374.0 616.2L374.8 611.8L375.0 610.0L375.3 605.4L375.8 608.0L376.0 611.0L377.0 613.7L378.0 625.5L379.0 626.2L380.0 625.3L381.0 622.0L382.0 622.5L383.0 618.6L384.0 620.8L385.0 618.7L386.0 619.8L387.0 617.9L388.0 619.2L389.0 620.8L390.0 614.5L391.0 619.2L392.0 611.5L393.0 609.3L394.0 610.6L395.0 606.7L395.3 606.8L395.8 601.1L396.0 604.9L396.3 605.7L397.0 610.3L398.0 610.6L399.0 614.1L400.0 611.0L401.0 612.7L402.0 611.8L403.0 614.2L404.0 609.9L405.0 610.0L406.0 613.1L407.0 615.7L408.0 612.1L409.0 611.7L410.0 610.0L411.0 613.2L412.0 611.7L413.0 614.3L414.0 610.8L415.0 607.6L416.0 608.3L417.0 607.2L418.0 606.4L419.0 612.3L420.0 611.1L421.0 606.1L422.0 613.3L423.0 609.5L424.0 606.5L425.0 609.7L426.0 608.5L427.0 606.8L428.0 603.9L429.0 608.6L430.0 609.2L431.0 602.3L432.0 609.8L433.0 610.0L434.0 607.4L435.0 608.8L436.0 607.8L437.0 606.5L438.0 607.7L439.0 611.8L440.0 605.2L441.0 609.3L442.0 609.2L443.0 607.0L444.0 607.5L445.0 604.8L446.0 605.0L447.0 605.0L448.0 602.5L449.0 595.9L450.0 602.2L450.6 592.4L451.0 593.8L451.1 592.9L451.6 592.9L452.0 597.7L453.0 596.5L454.0 604.8L455.0 607.9L456.0 605.2L457.0 611.6L458.0 608.3L459.0 616.8L460.0 609.5L461.0 608.4L462.0 606.2L463.0 607.8L464.0 609.6L465.0 608.8L466.0 608.4L467.0 609.8L468.0 611.1L469.0 615.2L470.0 607.8L471.0 610.7L472.0 609.9L473.0 608.7L474.0 609.4L475.0 610.4L476.0 614.5L477.0 612.4L478.0 611.8L479.0 614.6L480.0 614.0L481.0 613.0L482.0 614.6L483.0 611.8L484.0 615.5L485.0 615.2L486.0 613.3L487.0 611.6L488.0 618.2L489.0 615.0L490.0 622.2L491.0 613.7L492.0 617.4L493.0 614.6L494.0 616.4L495.0 618.0L496.0 614.3L497.0 616.2L498.0 617.0L499.0 617.2L500.0 618.3L501.0 617.6L502.0 607.1L503.0 583.2L503.5 571.4L504.0 565.5L504.5 570.7L505.0 581.9L506.0 607.9L507.0 616.0L508.0 616.2L509.0 621.1L510.0 618.1L511.0 618.5L512.0 620.1L513.0 622.1L514.0 615.7L515.0 619.1L516.0 622.5L517.0 621.7L518.0 620.9L519.0 622.1L520.0 627.0L521.0 623.2L522.0 626.4L523.0 627.1L524.0 624.7L525.0 627.3L526.0 625.7L527.0 625.9L528.0 625.3L529.0 630.5L530.0 628.2L531.0 628.4L532.0 627.8L533.0 635.1L534.0 633.0L535.0 630.8L536.0 628.2L537.0 623.9L538.0 625.3L538.7 624.3L539.0 620.4L539.2 626.3L539.7 626.2L540.0 623.0L541.0 627.9L542.0 632.5L543.0 637.2L544.0 638.7L545.0 636.8L546.0 644.8L547.0 643.2L548.0 646.3L549.0 647.3L550.0 645.1L551.0 647.3L552.0 649.2L553.0 650.4L554.0 649.4L555.0 649.5L556.0 652.1L557.0 651.4L558.0 653.1L559.0 651.2L560.0 656.9L561.0 655.8L562.0 658.0L563.0 660.4L564.0 662.4L565.0 667.1L566.0 664.8L567.0 662.8L568.0 667.4L569.0 667.2L570.0 670.7L571.0 669.8L572.0 671.2L573.0 673.1L574.0 674.3L575.0 673.3L576.0 677.1L577.0 679.9L578.0 683.9L579.0 682.3L580.0 683.7L581.0 687.1L582.0 688.5L583.0 692.1L584.0 691.6L585.0 691.9L586.0 696.1L587.0 698.0L588.0 695.6L589.0 698.3L590.0 696.2L591.0 700.3L592.0 700.8L593.0 703.6L594.0 704.5L595.0 706.6L596.0 708.2L597.0 710.8L598.0 711.8L599.0 711.7L600.0 711.8L601.0 717.9L602.0 719.7L603.0 717.7L604.0 720.9L605.0 718.6L606.0 719.9L607.0 723.6L608.0 728.1L609.0 725.0L610.0 726.7L611.0 732.4L612.0 727.6L613.0 733.4L614.0 734.5L615.0 734.6L616.0 736.6L617.0 742.1L618.0 736.9L619.0 739.6L620.0 741.0L621.0 741.5L622.0 741.7L623.0 747.9L624.0 746.8L625.0 744.8L626.0 747.8L627.0 750.8L628.0 752.0L629.0 750.2L630.0 753.6L631.0 755.4L632.0 756.8L633.0 757.9L634.0 755.5L635.0 762.6L636.0 761.1L637.0 764.7L638.0 767.5L639.0 763.8L640.0 763.2L641.0 767.6L642.0 767.0L643.0 767.7L644.0 767.8L645.0 773.1L646.0 770.8L647.0 770.3L648.0 772.8L649.0 772.7L650.0 775.7L651.0 775.6L652.0 774.7L653.0 774.8L654.0 767.5L655.0 764.4L655.5 764.7L656.0 763.6L657.0 770.2L658.0 778.8L659.0 784.1L660.0 784.6L661.0 785.8L662.0 786.5L663.0 787.8L664.0 789.1L665.0 788.0L666.0 789.1L667.0 790.7L668.0 790.4L669.0 792.4L670.0 793.7L671.0 793.6L672.0 793.5L673.0 794.0L674.0 798.4L675.0 797.8L676.0 795.7L677.0 796.7L678.0 801.3L679.0 801.4L680.0 800.1L681.0 802.2L682.0 799.1L683.0 801.8L684.0 803.5L685.0 800.5L686.0 802.6L687.0 805.3L688.0 806.4L689.0 804.6L690.0 806.3L691.0 808.7L692.0 806.5L693.0 805.7L694.0 808.0L695.0 808.0L696.0 810.8L697.0 809.8L698.0 808.9L699.0 813.8L700.0 810.3L701.0 812.1L702.0 812.7L703.0 813.0L704.0 811.0L705.0 807.1L706.0 798.4L706.8 791.2L707.0 792.1L707.3 791.8L707.8 793.2L708.0 794.8L709.0 802.3L710.0 812.5L711.0 816.5L712.0 812.8L713.0 816.2L714.0 815.6L715.0 813.4L716.0 817.8L717.0 816.7L718.0 817.4L719.0 817.3L720.0 819.9L721.0 820.4L722.0 819.4L723.0 820.2L724.0 819.4L725.0 820.0L726.0 819.1L727.0 820.4L728.0 819.7L729.0 821.3L730.0 822.1L731.0 821.7L732.0 823.0L733.0 825.2L734.0 819.2L735.0 822.1L736.0 821.5L737.0 821.9L738.0 820.9L739.0 822.9L740.0 822.6L741.0 822.3L742.0 823.0L743.0 822.7L744.0 820.6L745.0 825.1L746.0 823.5L747.0 822.7L748.0 824.5L749.0 823.4L750.0 821.5L751.0 825.6L752.0 822.4L753.0 824.3L754.0 824.9L755.0 826.5L756.0 826.4L757.0 825.1L758.0 824.0L759.0 824.5L760.0 826.5L761.0 827.5L762.0 825.9L763.0 824.5L764.0 826.6L765.0 824.9L766.0 824.9L767.0 825.1L768.0 826.2L769.0 825.8L770.0 826.8L771.0 827.2L772.0 826.1L773.0 822.3L774.0 822.0L775.0 821.6L776.0 817.4L776.5 818.8L777.0 815.5L777.5 815.9L778.0 818.7L779.0 822.8L780.0 823.8L781.0 825.8L782.0 824.0L783.0 824.2L784.0 827.0L785.0 823.6L786.0 826.5L787.0 826.2L788.0 826.2L789.0 826.4L790.0 825.9L791.0 822.4L792.0 823.8L793.0 824.3L794.0 826.2L795.0 823.5L796.0 824.0L797.0 824.4L798.0 826.5L799.0 822.9L800.0 822.9L801.0 825.4L802.0 821.8L803.0 824.9L804.0 823.8L805.0 822.3L806.0 823.7L807.0 822.9L808.0 824.3L809.0 824.4L810.0 825.4L811.0 821.9L812.0 818.6L813.0 813.4L813.3 813.3L813.8 814.0L814.0 810.3L814.3 814.1L815.0 814.9L816.0 819.8L817.0 822.7L818.0 824.2L819.0 823.6L820.0 822.7L821.0 823.5L822.0 823.1L823.0 822.7L824.0 823.1L825.0 823.9L826.0 822.9L827.0 822.9L828.0 820.9L829.0 822.3L830.0 820.0L831.0 823.3L832.0 821.1L833.0 823.9L834.0 826.0L835.0 821.5L836.0 823.7L837.0 822.4L838.0 821.1L839.0 820.7L840.0 822.5L841.0 823.5L842.0 822.1L843.0 819.6L844.0 820.1L845.0 821.1L846.0 823.1L847.0 821.7L848.0 821.7L849.0 822.8L850.0 820.9L851.0 821.0L852.0 820.8L853.0 818.7L854.0 821.6L855.0 821.5L856.0 822.2L857.0 819.4L858.0 819.8L859.0 822.1L860.0 821.3L861.0 822.6L862.0 819.7L863.0 821.0L864.0 819.9L865.0 821.2L866.0 820.1L867.0 821.5L868.0 822.2L869.0 821.7L870.0 818.4L871.0 822.0L872.0 821.4L873.0 819.5L874.0 819.7L875.0 820.9L876.0 821.7L877.0 820.4L878.0 818.9L879.0 821.4L880.0 821.3L881.0 824.3L882.0 819.5L883.0 824.6L884.0 823.6L885.0 821.8L886.0 823.7L887.0 821.7L888.0 822.9L889.0 820.8L890.0 822.0L891.0 820.6L892.0 820.0L893.0 821.8L894.0 821.4L895.0 823.2L896.0 824.2L897.0 822.5L898.0 822.9L899.0 823.2L900.0 821.0L901.0 823.6L902.0 823.5L903.0 823.5L904.0 822.4L905.0 821.4L906.0 823.8L907.0 824.7L908.0 826.2L909.0 826.0L910.0 826.5L911.0 825.0L912.0 825.5L913.0 823.0L914.0 823.1L915.0 822.6L915.7 824.6L916.0 821.4L916.2 819.5L916.7 823.1L917.0 820.5L918.0 822.6L919.0 823.7L920.0 824.2L921.0 828.1L922.0 827.9L923.0 826.8L924.0 828.0L925.0 827.6L926.0 829.2L927.0 828.1L928.0 827.9L929.0 828.3L930.0 828.8L931.0 830.0L932.0 828.7L933.0 830.0L934.0 830.9L935.0 833.6L936.0 832.0L937.0 827.4L938.0 830.8L939.0 831.2L940.0 832.3L941.0 834.2L942.0 833.4L943.0 829.9L944.0 833.4L945.0 833.4L946.0 834.0L947.0 835.5L948.0 832.7L949.0 835.7L950.0 832.6L951.0 834.9L952.0 835.6L953.0 838.2L954.0 834.8L955.0 833.9L956.0 837.0L957.0 835.6L958.0 838.6L959.0 836.1L960.0 836.2L961.0 839.0L962.0 837.9L963.0 839.2L964.0 836.5L965.0 840.5L966.0 838.1L967.0 840.0L968.0 838.1L969.0 837.7L970.0 839.5L971.0 840.3L972.0 842.2L973.0 841.0L974.0 841.7L975.0 841.9L976.0 845.0L977.0 840.6L978.0 843.3L979.0 841.9L980.0 842.6L981.0 841.9L982.0 844.2L983.0 841.5L984.0 841.7L985.0 843.3L986.0 842.4L987.0 844.8L988.0 845.3L989.0 843.6L990.0 845.6L991.0 844.2L992.0 845.1L993.0 845.4L994.0 847.8L995.0 845.9L996.0 845.0L997.0 845.2L998.0 848.0L999.0 844.8L1000.0 846.5L1001.0 846.8L1002.0 844.6L1003.0 847.1L1004.0 849.1L1005.0 848.4L1006.0 847.3L1007.0 849.4L1008.0 849.4L1009.0 851.3L1010.0 848.3L1011.0 849.0L1012.0 849.7L1013.0 849.7L1014.0 850.2L1015.0 850.1L1016.0 849.7L1017.0 848.8L1018.0 850.2L1019.0 849.5L1020.0 850.1L1021.0 850.9L1022.0 852.3L1023.0 852.9L1024.0 850.9L1025.0 852.6L1026.0 853.4L1027.0 852.6L1028.0 851.0L1029.0 850.6L1030.0 854.2L1031.0 854.5L1032.0 854.0L1033.0 852.7L1034.0 855.7L1035.0 855.6L1036.0 854.4L1037.0 854.4L1038.0 852.6L1039.0 855.8L1040.0 853.3L1041.0 856.1L1042.0 856.3L1043.0 855.8L1044.0 857.7L1045.0 855.7L1046.0 856.9L1047.0 857.3L1048.0 856.9L1049.0 856.3L1050.0 858.3L1051.0 857.6L1052.0 857.1L1053.0 857.3L1054.0 857.8L1055.0 860.4L1056.0 858.1L1057.0 857.9L1058.0 857.1L1059.0 857.1L1060.0 856.6L1061.0 859.1L1062.0 859.0L1063.0 858.0L1064.0 857.7L1065.0 859.1L1066.0 859.1L1067.0 858.3L1068.0 860.3L1069.0 860.3L1070.0 860.2L1071.0 861.3L1072.0 859.9L1073.0 862.2L1074.0 859.8L1075.0 861.6L1076.0 861.9L1077.0 861.1L1078.0 861.9L1079.0 860.2L1080.0 860.1L1081.0 861.7L1082.0 861.3L1083.0 862.9L1084.0 862.4L1085.0 863.2L1086.0 863.0L1087.0 863.0L1088.0 863.0L1089.0 862.7L1090.0 862.7L1091.0 865.6L1092.0 861.6L1093.0 863.4L1094.0 864.9L1095.0 864.4L1096.0 865.6L1097.0 864.8L1098.0 862.9L1099.0 864.1L1100.0 863.1L1101.0 865.8L1102.0 866.4L1103.0 864.5L1104.0 865.7L1105.0 864.8L1106.0 863.8L1107.0 865.0L1108.0 863.9L1109.0 865.1L1110.0 866.1L1111.0 866.7L1112.0 867.5L1113.0 865.8L1114.0 866.6L1115.0 866.9L1116.0 867.1L1117.0 863.6L1118.0 866.0L1119.0 867.8L1120.0 865.8L1121.0 867.4L1122.0 868.1L1123.0 865.3L1124.0 867.3L1125.0 867.8L1126.0 867.7L1127.0 866.2L1128.0 868.3L1129.0 867.4L1130.0 869.0L1131.0 868.7L1132.0 867.8L1133.0 868.6L1134.0 867.8L1135.0 867.9L1136.0 867.1L1137.0 868.6L1138.0 869.8L1139.0 869.2L1140.0 869.1L1141.0 868.6L1142.0 868.8L1143.0 870.2L1144.0 868.0L1145.0 871.8L1146.0 869.7L1147.0 872.1L1148.0 871.1L1149.0 869.6L1150.0 870.9L1151.0 870.5L1152.0 870.8L1153.0 871.2L1154.0 869.9L1155.0 869.9L1156.0 870.2L1157.0 869.3L1158.0 870.5L1159.0 871.1L1160.0 871.3L1161.0 871.3L1162.0 870.8L1163.0 872.1L1164.0 869.2L1165.0 871.0L1166.0 871.2L1167.0 872.5L1168.0 872.4L1169.0 872.6L1170.0 871.9L1171.0 872.9L1172.0 871.0L1173.0 872.2L1174.0 870.0L1175.0 874.0L1176.0 874.0L1177.0 871.8L1178.0 871.6L1179.0 870.4L1180.0 871.1L1181.0 872.9L1182.0 872.7L1183.0 871.4L1184.0 872.5L1185.0 872.4L1186.0 873.7L1187.0 874.0L1188.0 873.1L1189.0 873.5L1190.0 873.5L1191.0 871.4L1192.0 873.8L1193.0 873.7L1194.0 874.6L1195.0 872.0L1196.0 874.8L1197.0 873.4L1198.0 874.4L1199.0 875.5L1200.0 872.8L1201.0 873.0L1202.0 875.5L1203.0 873.4L1204.0 873.6L1205.0 875.3L1206.0 874.6L1207.0 875.7L1208.0 875.2L1209.0 874.9L1210.0 875.9L1211.0 877.0L1212.0 874.4L1213.0 875.4L1214.0 874.3L1215.0 872.3L1216.0 871.8L1217.0 869.9L1217.2 870.2L1217.7 871.0L1218.0 870.8L1218.2 872.2L1219.0 870.0L1220.0 871.9L1221.0 872.6L1222.0 874.2L1223.0 876.3L1224.0 874.5L1225.0 877.0L1226.0 875.7L1227.0 876.2L1228.0 877.6L1229.0 876.4L1230.0 877.5L1231.0 877.0L1232.0 876.8L1233.0 876.7L1234.0 875.4L1235.0 876.5L1236.0 877.5L1237.0 877.6L1238.0 876.0L1239.0 878.6L1240.0 878.2L1241.0 876.4L1242.0 876.8L1243.0 878.5L1244.0 876.3L1245.0 877.4L1246.0 878.2L1247.0 878.2L1248.0 878.4L1249.0 878.9L1250.0 877.8L1251.0 878.2L1252.0 880.9L1253.0 877.5L1254.0 878.5L1255.0 879.2L1256.0 878.5L1257.0 880.5L1258.0 879.5L1259.0 880.2L1260.0 877.0L1261.0 880.9L1262.0 880.9L1263.0 879.1L1264.0 881.3L1265.0 880.4L1266.0 881.1L1267.0 882.1L1268.0 880.5L1269.0 879.5L1270.0 880.6L1271.0 879.5L1272.0 880.0L1273.0 880.2L1274.0 880.3L1275.0 882.3L1276.0 882.1L1277.0 880.5L1278.0 882.6L1279.0 879.9L1280.0 881.1L1281.0 881.7L1282.0 883.1L1283.0 882.8L1284.0 882.6L1285.0 883.5L1286.0 883.1L1287.0 883.8L1288.0 881.8L1289.0 881.1L1290.0 882.4L1291.0 883.8L1292.0 883.3L1293.0 884.1L1294.0 884.0L1295.0 883.9L1296.0 884.3L1297.0 882.9L1298.0 884.8L1299.0 882.9L1300.0 883.9L1301.0 882.7L1302.0 884.7L1303.0 882.8L1304.0 885.9L1305.0 883.3L1306.0 885.0L1307.0 884.7L1308.0 884.1L1309.0 886.3L1310.0 884.8L1311.0 886.8L1312.0 884.5L1313.0 884.8L1314.0 883.8L1315.0 886.4L1316.0 886.8L1317.0 886.3L1318.0 886.0L1319.0 885.4L1320.0 888.7L1321.0 887.3L1322.0 884.9L1323.0 886.5L1324.0 884.4L1325.0 888.6L1326.0 889.1L1327.0 888.7L1328.0 887.4L1329.0 887.0L1330.0 886.4L1331.0 888.4L1332.0 887.3L1333.0 887.8L1334.0 887.6L1335.0 888.1L1336.0 889.4L1337.0 890.2L1338.0 888.9L1339.0 888.9L1340.0 888.0L1341.0 888.0L1342.0 888.3L1343.0 890.3L1344.0 889.8L1345.0 890.6L1346.0 890.2L1347.0 889.6L1348.0 888.9L1349.0 889.9L1350.0 889.0L1351.0 892.4L1352.0 890.9L1353.0 890.4L1354.0 892.8L1355.0 890.7L1356.0 891.7L1357.0 891.2L1358.0 891.8L1359.0 891.2L1360.0 892.2L1361.0 893.2L1362.0 890.8L1363.0 890.0L1364.0 893.5L1365.0 892.6L1366.0 893.4L1367.0 892.4L1368.0 894.3L1369.0 894.7L1370.0 892.0L1371.0 893.9L1372.0 892.8L1373.0 892.0L1374.0 893.4L1375.0 894.3L1376.0 892.6L1377.0 892.9L1378.0 895.3L1379.0 894.4L1380.0 894.8L1381.0 893.5L1382.0 894.1L1383.0 895.0L1384.0 895.2L1385.0 895.3L1386.0 896.8L1387.0 895.6L1388.0 894.1L1389.0 894.9L1390.0 895.8L1391.0 897.2L1392.0 895.5L1393.0 895.9L1394.0 896.4L1395.0 895.9L1396.0 895.9L1397.0 896.6L1398.0 897.9L1399.0 897.5L1400.0 897.0L1401.0 897.7L1402.0 896.3L1403.0 898.6L1404.0 898.5L1405.0 898.2L1406.0 896.6L1407.0 900.1L1408.0 895.7L1409.0 897.6L1410.0 897.8L1411.0 899.4L1412.0 897.6L1413.0 899.3L1414.0 899.1L1415.0 899.1L1416.0 900.3L1417.0 900.9L1418.0 900.1L1419.0 899.7L1420.0 898.0L1421.0 901.5L1422.0 900.1L1423.0 898.8L1424.0 900.8L1425.0 902.1L1426.0 900.8L1427.0 900.0L1428.0 903.2L1429.0 901.9L1430.0 901.8L1431.0 902.6L1432.0 899.9L1433.0 901.9L1434.0 901.9L1435.0 904.3L1436.0 901.9L1437.0 902.0L1438.0 901.4L1439.0 902.1L1440.0 902.8L1441.0 903.3L1442.0 903.1L1443.0 905.2L1444.0 904.0L1445.0 904.2L1446.0 905.0L1447.0 904.5L1448.0 903.6L1449.0 902.9L1450.0 904.7L1451.0 903.8L1452.0 905.8L1453.0 904.1L1454.0 903.0L1455.0 905.1L1456.0 906.2L1457.0 905.2L1458.0 905.7L1459.0 905.8L1460.0 907.3L1461.0 906.2L1462.0 906.0L1463.0 905.7L1464.0 904.9L1465.0 907.7L1466.0 907.6L1467.0 905.9L1468.0 907.4L1469.0 907.3L1470.0 906.9L1471.0 907.1L1472.0 908.1L1473.0 906.6L1474.0 907.3L1475.0 907.8L1476.0 908.0L1477.0 908.0L1478.0 908.5L1479.0 908.9L1480.0 907.8L1481.0 908.8L1482.0 908.4L1483.0 910.3L1484.0 907.9L1485.0 909.1L1486.0 910.0L1487.0 909.3L1488.0 909.4L1489.0 909.3L1490.0 910.2L1491.0 909.1L1492.0 910.1L1493.0 910.3L1494.0 909.2L1495.0 910.9L1496.0 910.4L1497.0 911.2L1498.0 911.8L1499.0 911.5L1500.0 910.3L1501.0 911.7L1502.0 910.2L1503.0 911.1L1504.0 913.3L1505.0 912.0L1506.0 913.4L1507.0 912.1L1508.0 912.4L1509.0 911.6L1510.0 913.4L1511.0 912.6L1512.0 913.4L1513.0 913.4L1514.0 913.6L1515.0 913.6L1516.0 913.4L1517.0 913.6L1518.0 913.1L1519.0 912.1L1520.0 914.4L1521.0 915.8L1522.0 915.1L1523.0 916.3L1524.0 914.9L1525.0 913.8L1526.0 913.9L1527.0 915.5L1528.0 915.3L1529.0 915.0L1530.0 915.9L1531.0 914.6L1532.0 915.9L1533.0 915.4L1534.0 915.9L1535.0 916.8L1536.0 915.9L1537.0 917.3L1538.0 917.3L1539.0 915.7L1540.0 918.4L1541.0 915.6L1542.0 916.7L1543.0 917.5L1544.0 915.1L1545.0 917.9L1546.0 918.1L1547.0 917.2L1548.0 917.7L1549.0 917.7L1550.0 917.5L1551.0 918.7L1552.0 917.6L1553.0 918.0L1554.0 918.5L1555.0 919.0L1556.0 919.3L1557.0 917.3L1558.0 917.0L1559.0 918.6L1560.0 918.8L1561.0 918.1L1562.0 919.3L1563.0 919.7L1564.0 919.6L1565.0 920.7L1566.0 918.7L1567.0 919.6L1568.0 921.3L1569.0 920.4L1570.0 919.1L1571.0 920.2L1572.0 921.1L1573.0 921.9L1574.0 920.9L1575.0 921.4L1576.0 919.7L1577.0 920.5L1578.0 921.8L1579.0 920.1L1580.0 921.0L1581.0 919.6L1582.0 922.4L1583.0 921.2L1584.0 921.9L1585.0 920.3L1586.0 920.6L1587.0 923.2L1588.0 921.6L1589.0 921.5L1590.0 922.4L1591.0 922.6L1592.0 920.7L1593.0 921.5L1594.0 922.5L1595.0 922.5L1596.0 922.9L1597.0 922.4L1598.0 922.6L1599.0 923.1L1600.0 922.4L1601.0 922.4L1602.0 922.7L1603.0 923.3L1604.0 923.2L1605.0 923.1L1606.0 923.3L1607.0 923.6L1608.0 924.0L1609.0 924.1L1610.0 922.9L1611.0 924.7L1612.0 922.8L1613.0 924.6L1614.0 923.7L1615.0 924.8L1616.0 925.2L1617.0 923.0L1618.0 925.0L1619.0 924.9L1620.0 924.4L1621.0 925.1L1622.0 924.5L1623.0 925.1L1624.0 924.2L1625.0 925.7L1626.0 925.7L1627.0 925.9L1628.0 924.9L1629.0 926.9L1630.0 927.0L1631.0 925.5L1632.0 925.3L1633.0 925.4L1634.0 926.3L1635.0 926.7L1636.0 925.4L1637.0 924.5L1638.0 926.4L1639.0 926.1L1640.0 926.4L1641.0 926.7L1642.0 925.5L1643.0 926.5L1644.0 926.3L1645.0 926.8L1646.0 927.6L1647.0 926.7L1648.0 926.1L1649.0 927.8L1650.0 927.4L1651.0 926.8L1652.0 925.6L1653.0 926.4L1654.0 927.2L1655.0 927.6L1656.0 926.8L1657.0 927.6L1658.0 926.8L1659.0 927.1L1660.0 927.8L1661.0 927.3L1662.0 927.6L1663.0 928.3L1664.0 928.5L1665.0 927.2L1666.0 927.6L1667.0 926.8L1668.0 926.9L1669.0 928.1L1670.0 927.5L1671.0 926.6L1672.0 928.4L1673.0 927.4L1674.0 927.9L1675.0 928.5L1676.0 928.5L1677.0 928.2L1678.0 926.8L1679.0 928.7L1680.0 927.9L1681.0 927.3L1682.0 926.8L1683.0 929.5L1684.0 928.6L1685.0 928.6L1686.0 929.0L1687.0 928.5L1688.0 927.5L1689.0 929.2L1690.0 929.4L1691.0 929.1L1692.0 929.9L1693.0 930.2L1694.0 928.2L1695.0 928.5L1696.0 929.5L1697.0 929.0L1698.0 929.1L1699.0 929.6L1700.0 929.5L1701.0 928.6L1702.0 929.1L1703.0 928.5L1704.0 928.9L1705.0 928.2L1706.0 927.6L1707.0 928.7L1708.0 928.7L1709.0 929.8L1710.0 930.3L1711.0 929.2L1712.0 929.5L1713.0 928.7L1714.0 928.5L1715.0 929.0L1716.0 929.0L1717.0 929.4L1718.0 929.3L1719.0 930.4L1720.0 929.0L1721.0 928.0L1722.0 929.3L1723.0 928.7L1724.0 929.4L1725.0 930.1L1726.0 928.7L1727.0 929.2L1728.0 929.6L1729.0 928.5L1730.0 929.4L1731.0 929.6L1732.0 929.8L1733.0 930.0L1734.0 929.6" stroke="#ff0000"/>
<path d="M28.0 1070.8L29.0 1067.6L30.0 1069.4L31.0 1068.5L32.0 1068.4L33.0 1068.4L34.0 1067.0L35.0 1067.9L36.0 1067.3L37.0 1069.9L38.0 1067.6L39.0 1067.0L40.0 1066.9L41.0 1066.4L42.0 1065.9L43.0 1066.1L44.0 1066.5L45.0 1065.8L46.0 1066.3L47.0 1065.3L48.0 1065.3L49.0 1066.0L50.0 1065.1L51.0 1064.2L52.0 1064.2L53.0 1064.4L54.0 1065.1L55.0 1063.3L56.0 1063.1L57.0 1063.7L58.0 1062.2L59.0 1062.3L60.0 1062.8L61.0 1062.4L62.0 1061.7L63.0 1061.9L64.0 1059.2L65.0 1061.5L66.0 1059.9L67.0 1059.1L68.0 1060.2L69.0 1060.2L70.0 1059.1L71.0 1058.3L72.0 1058.8L73.0 1058.4L74.0 1059.1L75.0 1058.4L76.0 1057.6L77.0 1058.0L78.0 1056.7L79.0 1055.9L80.0 1056.6L81.0 1056.3L82.0 1055.3L83.0 1054.6L84.0 1055.0L85.0 1052.6L86.0 1054.6L87.0 1054.1L88.0 1052.1L89.0 1053.0L90.0 1051.9L91.0 1052.8L92.0 1050.3L93.0 1050.7L94.0 1051.5L95.0 1051.5L96.0 1048.6L97.0 1049.4L98.0 1049.6L99.0 1048.5L100.0 1049.7L101.0 1047.2L102.0 1047.9L103.0 1046.4L104.0 1047.9L105.0 1046.3L106.0 1045.6L107.0 1044.1L108.0 1046.3L109.0 1045.1L110.0 1044.6L111.0 1044.4L112.0 1043.3L113.0 1042.1L114.0 1041.4L115.0 1040.9L116.0 1042.1L117.0 1039.4L118.0 1039.6L119.0 1039.3L120.0 1039.2L121.0 1038.9L122.0 1036.9L123.0 1036.0L124.0 1036.8L125.0 1037.2L126.0 1036.3L127.0 1035.3L128.0 1034.3L129.0 1034.2L130.0 1033.2L131.0 1033.5L132.0 1031.5L133.0 1031.7L134.0 1030.9L135.0 1030.8L136.0 1029.9L137.0 1031.2L138.0 1029.7L139.0 1029.1L140.0 1025.4L141.0 1026.2L142.0 1025.3L143.0 1025.6L144.0 1022.5L145.0 1024.8L146.0 1024.0L147.0 1021.2L148.0 1020.8L149.0 1020.3L150.0 1020.3L151.0 1020.1L152.0 1020.6L153.0 1017.9L154.0 1018.0L155.0 1016.7L156.0 1017.4L157.0 1015.7L158.0 1015.5L159.0 1012.4L160.0 1012.4L161.0 1011.1L162.0 1012.4L163.0 1010.8L164.0 1009.0L165.0 1008.1L166.0 1008.1L167.0 1006.1L168.0 1005.0L169.0 1005.5L170.0 1006.5L171.0 1003.0L172.0 1001.8L173.0 1000.2L174.0 999.2L175.0 1000.1L176.0 999.4L177.0 997.6L178.0 997.0L179.0 995.8L180.0 994.8L181.0 992.1L182.0 992.2L183.0 991.7L184.0 989.8L185.0 989.0L186.0 987.6L187.0 987.1L188.0 987.2L189.0 984.8L190.0 983.9L191.0 983.9L192.0 982.6L193.0 982.6L194.0 977.3L195.0 979.3L196.0 976.7L197.0 976.2L198.0 975.7L199.0 974.8L200.0 973.5L201.0 971.3L202.0 971.7L203.0 968.2L204.0 967.1L205.0 966.9L206.0 964.0L207.0 965.8L208.0 963.2L209.0 963.2L210.0 959.2L211.0 957.4L212.0 956.6L213.0 955.9L214.0 952.9L215.0 952.6L216.0 950.7L217.0 951.2L218.0 946.9L219.0 947.5L220.0 943.9L221.0 941.9L222.0 940.7L223.0 938.5L224.0 938.6L225.0 938.2L226.0 935.4L227.0 934.4L228.0 934.1L229.0 930.6L230.0 928.8L231.0 926.5L232.0 923.0L233.0 924.5L234.0 919.3L235.0 920.9L236.0 918.2L237.0 918.1L238.0 914.7L239.0 911.8L240.0 911.8L241.0 908.7L242.0 907.4L243.0 906.0L244.0 904.0L245.0 902.1L246.0 899.4L247.0 898.5L248.0 893.8L249.0 895.0L250.0 891.7L251.0 893.4L252.0 891.9L253.0 885.2L254.0 886.7L255.0 884.5L256.0 881.3L257.0 882.1L258.0 878.8L259.0 875.0L260.0 875.7L261.0 874.2L262.0 872.9L263.0 869.1L264.0 870.5L265.0 869.0L266.0 864.3L267.0 863.5L268.0 862.9L269.0 860.5L270.0 862.8L271.0 858.6L272.0 855.0L273.0 853.8L274.0 853.4L275.0 855.9L276.0 850.0L277.0 849.0L278.0 848.0L279.0 845.4L280.0 847.8L281.0 841.2L282.0 841.8L283.0 839.1L284.0 838.2L285.0 833.2L286.0 836.8L287.0 831.6L288.0 830.2L289.0 826.7L290.0 825.3L291.0 825.9L292.0 825.0L293.0 822.8L294.0 822.0L295.0 819.3L296.0 816.3L297.0 816.1L298.0 814.0L299.0 810.9L300.0 810.8L301.0 810.2L302.0 806.5L303.0 803.7L304.0 804.2L305.0 804.8L306.0 799.0L307.0 797.6L308.0 795.9L309.0 797.1L310.0 789.3L311.0 792.2L312.0 792.3L313.0 786.7L314.0 789.8L315.0 786.4L316.0 782.6L317.0 782.7L318.0 777.6L319.0 778.2L320.0 781.7L321.0 774.6L322.0 778.9L323.0 773.5L324.0 774.4L325.0 771.0L326.0 764.8L327.0 767.0L328.0 767.3L329.0 763.2L330.0 761.5L331.0 763.9L332.0 760.5L333.0 756.9L334.0 757.9L335.0 760.1L336.0 756.0L337.0 757.9L338.0 758.1L339.0 753.7L340.0 750.0L341.0 748.5L342.0 750.3L343.0 751.2L344.0 748.8L345.0 748.4L346.0 745.2L347.0 745.8L348.0 743.1L349.0 742.5L350.0 739.3L351.0 737.8L352.0 739.3L353.0 737.0L354.0 736.5L355.0 739.3L356.0 736.7L357.0 742.8L358.0 737.4L359.0 733.0L360.0 735.5L361.0 733.8L362.0 730.6L363.0 734.0L364.0 728.9L365.0 722.9L366.0 731.2L367.0 727.2L368.0 731.5L369.0 725.9L370.0 724.0L371.0 729.8L372.0 723.0L373.0 725.5L374.0 727.8L375.0 724.1L376.0 723.2L377.0 723.1L378.0 724.3L379.0 719.9L380.0 722.8L381.0 722.3L382.0 726.0L383.0 719.3L384.0 717.5L385.0 721.0L386.0 717.9L387.0 719.2L388.0 718.5L389.0 720.6L390.0 715.9L391.0 717.0L392.0 710.8L393.0 714.5L394.0 720.0L395.0 714.5L396.0 714.2L397.0 712.7L398.0 716.8L399.0 715.6L400.0 712.2L401.0 716.5L402.0 715.3L403.0 716.4L404.0 712.9L405.0 718.5L406.0 715.2L407.0 713.9L408.0 712.8L409.0 713.4L410.0 716.0L411.0 713.3L412.0 716.5L413.0 715.3L414.0 717.2L415.0 715.9L416.0 713.8L417.0 709.5L418.0 714.8L419.0 716.1L420.0 714.7L421.0 715.7L422.0 713.3L423.0 713.7L424.0 712.5L425.0 718.1L426.0 715.4L427.0 714.0L428.0 712.2L429.0 715.2L430.0 719.3L431.0 717.2L432.0 714.6L433.0 719.9L434.0 720.2L435.0 719.4L436.0 719.2L437.0 720.4L438.0 719.2L439.0 720.1L440.0 716.8L441.0 722.5L442.0 719.9L443.0 724.5L444.0 715.2L445.0 722.1L446.0 723.2L447.0 720.4L448.0 722.7L449.0 723.9L450.0 723.9L451.0 721.7L452.0 723.2L453.0 726.4L454.0 727.4L455.0 725.2L456.0 725.6L457.0 726.4L458.0 728.9L459.0 724.5L460.0 724.4L461.0 728.3L462.0 726.0L463.0 727.8L464.0 729.9L465.0 731.3L466.0 728.3L467.0 733.2L468.0 727.8L469.0 733.7L470.0 729.3L471.0 730.6L472.0 735.5L473.0 733.6L474.0 733.3L475.0 734.6L476.0 737.3L477.0 736.6L478.0 737.2L479.0 740.2L480.0 736.6L481.0 737.7L482.0 738.1L483.0 742.4L484.0 742.5L485.0 743.6L486.0 741.1L487.0 741.2L488.0 743.9L489.0 741.5L490.0 744.7L491.0 744.9L492.0 742.1L493.0 743.8L494.0 744.1L495.0 748.6L496.0 750.9L497.0 745.2L498.0 745.7L499.0 740.9L500.0 746.8L501.0 746.7L502.0 744.6L503.0 749.1L504.0 744.1L505.0 747.5L506.0 748.6L507.0 745.8L508.0 750.8L509.0 751.6L510.0 746.5L511.0 746.8L512.0 751.7L513.0 750.6L514.0 748.4L515.0 750.9L516.0 751.7L517.0 752.0L518.0 754.6L519.0 754.1L520.0 757.7L521.0 757.3L522.0 756.3L523.0 757.8L524.0 758.9L525.0 758.1L526.0 754.5L527.0 759.8L528.0 758.7L529.0 762.8L530.0 760.2L531.0 762.0L532.0 762.3L533.0 766.1L534.0 763.6L535.0 763.5L536.0 765.7L537.0 765.0L538.0 767.2L539.0 767.8L540.0 769.4L541.0 773.9L542.0 769.9L543.0 771.9L544.0 772.5L545.0 775.4L546.0 772.6L547.0 774.7L548.0 777.2L549.0 779.6L550.0 779.5L551.0 779.7L552.0 780.1L553.0 784.2L554.0 787.3L555.0 786.2L556.0 787.2L557.0 789.0L558.0 787.4L559.0 790.0L560.0 791.4L561.0 793.8L562.0 794.5L563.0 793.5L564.0 799.5L565.0 801.9L566.0 799.4L567.0 802.1L568.0 803.2L569.0 805.6L570.0 802.5L571.0 809.9L572.0 807.3L573.0 812.0L574.0 811.1L575.0 811.7L576.0 813.5L577.0 816.9L578.0 815.0L579.0 817.4L580.0 818.6L581.0 817.7L582.0 824.8L583.0 824.9L584.0 825.2L585.0 828.8L586.0 826.3L587.0 829.4L588.0 834.1L589.0 834.1L590.0 829.7L591.0 829.2L592.0 834.7L593.0 839.9L594.0 838.6L595.0 840.4L596.0 843.3L597.0 842.1L598.0 845.4L599.0 847.8L600.0 848.6L601.0 849.9L602.0 849.6L603.0 852.9L604.0 852.6L605.0 856.9L606.0 860.5L607.0 856.2L608.0 855.1L609.0 859.4L610.0 862.1L611.0 864.6L612.0 866.0L613.0 864.2L614.0 865.5L615.0 870.2L616.0 867.7L617.0 872.5L618.0 871.7L619.0 874.6L620.0 875.8L621.0 877.2L622.0 878.5L623.0 876.9L624.0 880.2L625.0 881.0L626.0 882.7L627.0 885.3L628.0 884.2L629.0 884.7L630.0 885.9L631.0 887.7L632.0 890.6L633.0 889.3L634.0 893.5L635.0 893.3L636.0 893.7L637.0 893.2L638.0 896.7L639.0 898.5L640.0 895.9L641.0 901.4L642.0 903.1L643.0 902.3L644.0 903.6L645.0 907.4L646.0 906.7L647.0 904.6L648.0 906.9L649.0 907.7L650.0 908.7L651.0 906.5L652.0 912.0L653.0 910.9L654.0 913.0L655.0 913.5L656.0 915.8L657.0 915.1L658.0 915.3L659.0 918.0L660.0 920.1L661.0 918.6L662.0 921.8L663.0 921.1L664.0 920.8L665.0 924.4L666.0 922.0L667.0 925.3L668.0 924.0L669.0 926.1L670.0 924.5L671.0 925.8L672.0 929.1L673.0 928.7L674.0 929.2L675.0 929.3L676.0 931.1L677.0 929.4L678.0 930.4L679.0 932.3L680.0 932.1L681.0 932.9L682.0 934.4L683.0 934.9L684.0 935.4L685.0 938.5L686.0 938.2L687.0 939.1L688.0 938.0L689.0 938.0L690.0 937.3L691.0 939.3L692.0 937.6L693.0 940.1L694.0 942.3L695.0 943.9L696.0 943.6L697.0 941.7L698.0 943.9L699.0 942.8L700.0 945.3L701.0 944.6L702.0 946.2L703.0 948.8L704.0 947.2L705.0 949.4L706.0 947.1L707.0 946.9L708.0 949.3L709.0 950.2L710.0 947.8L711.0 948.9L712.0 947.4L713.0 949.3L714.0 951.0L715.0 950.1L716.0 949.9L717.0 949.2L718.0 951.7L719.0 952.5L720.0 952.6L721.0 952.5L722.0 950.9L723.0 954.9L724.0 953.0L725.0 953.1L726.0 954.5L727.0 951.2L728.0 954.0L729.0 954.2L730.0 955.0L731.0 956.4L732.0 955.6L733.0 953.0L734.0 955.1L735.0 955.9L736.0 956.1L737.0 954.5L738.0 954.3L739.0 957.1L740.0 957.1L741.0 956.8L742.0 954.9L743.0 959.3L744.0 953.8L745.0 957.0L746.0 960.1L747.0 957.6L748.0 958.2L749.0 956.6L750.0 959.8L751.0 956.7L752.0 958.7L753.0 958.7L754.0 957.4L755.0 959.8L756.0 957.1L757.0 958.1L758.0 959.0L759.0 958.6L760.0 959.7L761.0 960.4L762.0 959.0L763.0 958.8L764.0 958.8L765.0 959.1L766.0 960.5L767.0 959.4L768.0 960.2L769.0 959.6L770.0 958.8L771.0 960.8L772.0 958.6L773.0 959.9L774.0 961.7L775.0 958.6L776.0 959.9L777.0 958.1L778.0 959.4L779.0 958.3L780.0 959.6L781.0 959.4L782.0 960.2L783.0 961.9L784.0 960.4L785.0 960.8L786.0 960.0L787.0 959.8L788.0 959.1L789.0 957.9L790.0 960.1L791.0 962.0L792.0 960.6L793.0 959.4L794.0 961.9L795.0 959.4L796.0 959.2L797.0 958.5L798.0 958.7L799.0 959.6L800.0 962.2L801.0 959.6L802.0 958.5L803.0 959.0L804.0 959.4L805.0 957.6L806.0 959.8L807.0 960.4L808.0 960.0L809.0 960.3L810.0 958.0L811.0 957.4L812.0 961.0L813.0 960.7L814.0 957.5L815.0 959.6L816.0 959.3L817.0 959.9L818.0 959.5L819.0 958.6L820.0 959.4L821.0 959.3L822.0 959.0L823.0 956.8L824.0 955.4L825.0 958.0L826.0 957.0L827.0 959.2L828.0 959.7L829.0 959.1L830.0 958.3L831.0 958.8L832.0 960.1L833.0 957.8L834.0 959.8L835.0 959.5L836.0 958.9L837.0 960.3L838.0 957.7L839.0 959.7L840.0 957.4L841.0 957.6L842.0 957.2L843.0 959.0L844.0 957.4L845.0 958.5L846.0 957.1L847.0 959.7L848.0 960.7L849.0 958.7L850.0 960.4L851.0 959.1L852.0 961.1L853.0 958.6L854.0 956.6L855.0 960.3L856.0 958.4L857.0 957.3L858.0 957.8L859.0 956.6L860.0 958.4L861.0 957.4L862.0 960.5L863.0 959.5L864.0 956.8L865.0 957.0L866.0 958.2L867.0 956.6L868.0 958.8L869.0 959.0L870.0 958.2L871.0 958.5L872.0 959.8L873.0 961.0L874.0 961.2L875.0 959.5L876.0 960.6L877.0 958.8L878.0 960.2L879.0 958.7L880.0 960.8L881.0 958.6L882.0 959.0L883.0 960.3L884.0 961.0L885.0 958.8L886.0 960.0L887.0 960.9L888.0 961.1L889.0 960.0L890.0 961.2L891.0 960.9L892.0 963.1L893.0 962.2L894.0 960.1L895.0 959.2L896.0 962.1L897.0 963.5L898.0 962.5L899.0 963.5L900.0 962.0L901.0 961.1L902.0 963.8L903.0 963.2L904.0 964.0L905.0 961.8L906.0 963.8L907.0 963.0L908.0 964.9L909.0 963.4L910.0 963.6L911.0 963.8L912.0 966.1L913.0 964.9L914.0 964.2L915.0 964.0L916.0 964.2L917.0 967.3L918.0 963.7L919.0 965.0L920.0 967.0L921.0 967.8L922.0 966.5L923.0 967.7L924.0 967.9L925.0 968.4L926.0 967.5L927.0 969.6L928.0 968.1L929.0 969.9L930.0 967.1L931.0 969.6L932.0 967.3L933.0 967.3L934.0 969.8L935.0 968.5L936.0 970.2L937.0 968.7L938.0 971.9L939.0 970.3L940.0 969.3L941.0 971.0L942.0 972.0L943.0 970.4L944.0 972.1L945.0 974.0L946.0 972.9L947.0 972.2L948.0 971.8L949.0 973.3L950.0 971.2L951.0 969.7L952.0 972.6L953.0 972.4L954.0 975.8L955.0 974.2L956.0 973.2L957.0 973.2L958.0 975.3L959.0 974.1L960.0 974.6L961.0 975.3L962.0 975.8L963.0 976.0L964.0 976.3L965.0 977.8L966.0 978.5L967.0 975.0L968.0 979.9L969.0 977.5L970.0 978.9L971.0 977.0L972.0 978.4L973.0 978.5L974.0 978.6L975.0 979.7L976.0 979.6L977.0 978.1L978.0 979.3L979.0 980.4L980.0 980.6L981.0 979.7L982.0 980.0L983.0 980.4L984.0 979.6L985.0 979.6L986.0 982.9L987.0 981.0L988.0 981.8L989.0 981.1L990.0 983.5L991.0 984.2L992.0 982.3L993.0 983.3L994.0 982.1L995.0 985.1L996.0 984.4L997.0 982.7L998.0 985.1L999.0 984.4L1000.0 984.6L1001.0 984.8L1002.0 983.9L1003.0 984.2L1004.0 985.7L1005.0 985.2L1006.0 984.4L1007.0 987.8L1008.0 985.6L1009.0 985.4L1010.0 985.4L1011.0 987.1L1012.0 987.6L1013.0 987.0L1014.0 987.9L1015.0 985.6L1016.0 986.9L1017.0 987.0L1018.0 987.7L1019.0 988.4L1020.0 985.9L1021.0 991.5L1022.0 987.5L1023.0 989.0L1024.0 989.7L1025.0 989.9L1026.0 989.4L1027.0 986.3L1028.0 988.4L1029.0 990.5L1030.0 988.9L1031.0 988.9L1032.0 987.7L1033.0 991.6L1034.0 991.1L1035.0 989.8L1036.0 990.7L1037.0 990.9L1038.0 990.0L1039.0 991.1L1040.0 991.8L1041.0 992.3L1042.0 993.2L1043.0 992.0L1044.0 991.7L1045.0 992.8L1046.0 991.8L1047.0 991.4L1048.0 994.0L1049.0 992.6L1050.0 993.3L1051.0 993.9L1052.0 992.3L1053.0 994.2L1054.0 994.2L1055.0 993.8L1056.0 994.5L1057.0 993.4L1058.0 992.1L1059.0 994.2L1060.0 993.7L1061.0 995.7L1062.0 995.2L1063.0 994.6L1064.0 995.3L1065.0 996.8L1066.0 996.7L1067.0 996.1L1068.0 996.3L1069.0 995.7L1070.0 996.0L1071.0 996.8L1072.0 996.3L1073.0 996.8L1074.0 995.5L1075.0 995.1L1076.0 995.2L1077.0 996.6L1078.0 998.6L1079.0 998.6L1080.0 996.5L1081.0 996.1L1082.0 998.6L1083.0 998.4L1084.0 996.7L1085.0 999.2L1086.0 998.5L1087.0 999.8L1088.0 998.9L1089.0 999.6L1090.0 999.1L1091.0 998.0L1092.0 998.9L1093.0 998.5L1094.0 1000.2L1095.0 998.5L1096.0 998.1L1097.0 1000.4L1098.0 1001.0L1099.0 1001.4L1100.0 1001.2L1101.0 998.7L1102.0 999.7L1103.0 999.9L1104.0 1000.6L1105.0 998.6L1106.0 1000.8L1107.0 1001.2L1108.0 1000.1L1109.0 1001.3L1110.0 1002.5L1111.0 1001.5L1112.0 1002.6L1113.0 1002.7L1114.0 1002.2L1115.0 1002.3L1116.0 1001.7L1117.0 1003.4L1118.0 1001.8L1119.0 1001.7L1120.0 1003.2L1121.0 1001.9L1122.0 1003.1L1123.0 1003.9L1124.0 1003.0L1125.0 1003.2L1126.0 1004.1L1127.0 1004.0L1128.0 1001.9L1129.0 1002.2L1130.0 1004.9L1131.0 1004.1L1132.0 1001.8L1133.0 1002.7L1134.0 1004.1L1135.0 1003.2L1136.0 1004.8L1137.0 1004.5L1138.0 1005.0L1139.0 1003.5L1140.0 1005.3L1141.0 1006.7L1142.0 1004.2L1143.0 1006.3L1144.0 1006.1L1145.0 1005.9L1146.0 1005.3L1147.0 1004.4L1148.0 1004.7L1149.0 1006.4L1150.0 1006.7L1151.0 1007.1L1152.0 1006.9L1153.0 1007.0L1154.0 1005.8L1155.0 1005.2L1156.0 1006.6L1157.0 1007.0L1158.0 1006.7L1159.0 1005.3L1160.0 1006.3L1161.0 1005.5L1162.0 1007.2L1163.0 1006.1L1164.0 1007.1L1165.0 1007.6L1166.0 1007.6L1167.0 1008.8L1168.0 1006.6L1169.0 1005.6L1170.0 1008.7L1171.0 1009.3L1172.0 1009.4L1173.0 1008.4L1174.0 1008.7L1175.0 1008.4L1176.0 1007.2L1177.0 1008.0L1178.0 1009.1L1179.0 1008.2L1180.0 1010.6L1181.0 1007.4L1182.0 1008.6L1183.0 1010.1L1184.0 1008.6L1185.0 1008.2L1186.0 1008.1L1187.0 1008.8L1188.0 1011.0L1189.0 1010.0L1190.0 1010.2L1191.0 1009.4L1192.0 1010.7L1193.0 1010.1L1194.0 1009.3L1195.0 1009.8L1196.0 1010.5L1197.0 1011.5L1198.0 1010.5L1199.0 1011.1L1200.0 1012.6L1201.0 1010.0L1202.0 1009.7L1203.0 1011.9L1204.0 1011.5L1205.0 1011.1L1206.0 1011.5L1207.0 1011.0L1208.0 1011.9L1209.0 1011.2L1210.0 1012.4L1211.0 1010.6L1212.0 1011.0L1213.0 1012.0L1214.0 1011.5L1215.0 1012.7L1216.0 1012.1L1217.0 1011.7L1218.0 1012.5L1219.0 1011.9L1220.0 1011.1L1221.0 1011.6L1222.0 1012.0L1223.0 1012.4L1224.0 1013.0L1225.0 1013.8L1226.0 1013.6L1227.0 1014.8L1228.0 1014.4L1229.0 1013.2L1230.0 1015.0L1231.0 1014.6L1232.0 1013.2L1233.0 1014.0L1234.0 1014.8L1235.0 1014.1L1236.0 1014.9L1237.0 1014.4L1238.0 1014.8L1239.0 1014.0L1240.0 1014.7L1241.0 1014.1L1242.0 1015.1L1243.0 1013.1L1244.0 1015.0L1245.0 1015.9L1246.0 1015.4L1247.0 1014.9L1248.0 1015.6L1249.0 1014.4L1250.0 1014.5L1251.0 1015.0L1252.0 1015.3L1253.0 1016.4L1254.0 1014.8L1255.0 1016.6L1256.0 1014.3L1257.0 1015.2L1258.0 1015.9L1259.0 1017.1L1260.0 1015.6L1261.0 1014.3L1262.0 1016.7L1263.0 1016.4L1264.0 1015.5L1265.0 1015.6L1266.0 1016.1L1267.0 1016.9L1268.0 1017.5L1269.0 1015.6L1270.0 1019.1L1271.0 1017.1L1272.0 1016.9L1273.0 1017.9L1274.0 1017.5L1275.0 1019.6L1276.0 1018.6L1277.0 1017.4L1278.0 1017.4L1279.0 1017.4L1280.0 1017.7L1281.0 1018.7L1282.0 1017.6L1283.0 1019.7L1284.0 1018.3L1285.0 1018.3L1286.0 1019.4L1287.0 1016.9L1288.0 1017.9L1289.0 1019.4L1290.0 1018.9L1291.0 1019.0L1292.0 1019.5L1293.0 1018.7L1294.0 1019.1L1295.0 1018.2L1296.0 1017.8L1297.0 1020.7L1298.0 1018.8L1299.0 1019.1L1300.0 1021.1L1301.0 1020.9L1302.0 1019.6L1303.0 1019.7L1304.0 1020.2L1305.0 1019.5L1306.0 1020.9L1307.0 1020.7L1308.0 1020.8L1309.0 1021.4L1310.0 1021.5L1311.0 1022.6L1312.0 1022.4L1313.0 1019.6L1314.0 1022.0L1315.0 1020.4L1316.0 1020.2L1317.0 1022.2L1318.0 1021.0L1319.0 1021.5L1320.0 1022.8L1321.0 1021.4L1322.0 1021.3L1323.0 1022.5L1324.0 1023.3L1325.0 1022.8L1326.0 1021.1L1327.0 1022.0L1328.0 1022.5L1329.0 1024.5L1330.0 1023.7L1331.0 1023.7L1332.0 1024.2L1333.0 1022.9L1334.0 1023.7L1335.0 1023.9L1336.0 1022.7L1337.0 1023.6L1338.0 1024.2L1339.0 1022.9L1340.0 1024.7L1341.0 1024.7L1342.0 1025.1L1343.0 1023.6L1344.0 1024.5L1345.0 1025.8L1346.0 1025.3L1347.0 1024.0L1348.0 1025.0L1349.0 1026.2L1350.0 1025.0L1351.0 1025.5L1352.0 1027.5L1353.0 1025.4L1354.0 1025.4L1355.0 1024.8L1356.0 1025.2L1357.0 1027.1L1358.0 1025.8L1359.0 1025.1L1360.0 1025.4L1361.0 1026.3L1362.0 1027.1L1363.0 1025.9L1364.0 1027.3L1365.0 1026.4L1366.0 1027.2L1367.0 1027.5L1368.0 1027.6L1369.0 1026.9L1370.0 1027.2L1371.0 1027.9L1372.0 1026.5L1373.0 1027.9L1374.0 1028.3L1375.0 1028.8L1376.0 1028.0L1377.0 1028.0L1378.0 1028.4L1379.0 1027.8L1380.0 1028.4L1381.0 1029.0L1382.0 1029.0L1383.0 1028.0L1384.0 1028.7L1385.0 1027.4L1386.0 1029.9L1387.0 1028.9L1388.0 1029.7L1389.0 1028.7L1390.0 1029.7L1391.0 1030.3L1392.0 1030.8L1393.0 1029.0L1394.0 1031.0L1395.0 1030.2L1396.0 1029.8L1397.0 1031.0L1398.0 1030.5L1399.0 1030.6L1400.0 1030.4L1401.0 1031.3L1402.0 1031.3L1403.0 1031.2L1404.0 1030.7L1405.0 1031.2L1406.0 1032.1L1407.0 1032.9L1408.0 1032.0L1409.0 1033.3L1410.0 1032.2L1411.0 1031.5L1412.0 1033.0L1413.0 1031.8L1414.0 1033.1L1415.0 1033.8L1416.0 1032.7L1417.0 1033.1L1418.0 1035.3L1419.0 1033.6L1420.0 1033.7L1421.0 1034.3L1422.0 1033.7L1423.0 1033.8L1424.0 1034.3L1425.0 1032.2L1426.0 1035.4L1427.0 1033.5L1428.0 1033.7L1429.0 1035.1L1430.0 1034.8L1431.0 1033.9L1432.0 1035.2L1433.0 1034.2L1434.0 1034.7L1435.0 1034.2L1436.0 1034.9L1437.0 1036.0L1438.0 1035.9L1439.0 1036.2L1440.0 1036.8L1441.0 1036.2L1442.0 1035.8L1443.0 1036.2L1444.0 1037.9L1445.0 1036.8L1446.0 1037.1L1447.0 1036.9L1448.0 1037.3L1449.0 1037.6L1450.0 1037.4L1451.0 1037.4L1452.0 1037.0L1453.0 1037.1L1454.0 1038.2L1455.0 1038.6L1456.0 1038.9L1457.0 1038.3L1458.0 1037.7L1459.0 1039.0L1460.0 1039.1L1461.0 1037.6L1462.0 1039.6L1463.0 1039.5L1464.0 1040.5L1465.0 1038.4L1466.0 1038.4L1467.0 1040.2L1468.0 1038.3L1469.0 1039.2L1470.0 1039.1L1471.0 1039.3L1472.0 1038.7L1473.0 1040.1L1474.0 1041.2L1475.0 1040.9L1476.0 1041.1L1477.0 1040.5L1478.0 1042.1L1479.0 1041.5L1480.0 1042.0L1481.0 1040.1L1482.0 1041.7L1483.0 1040.7L1484.0 1042.0L1485.0 1042.0L1486.0 1041.1L1487.0 1042.2L1488.0 1043.1L1489.0 1042.7L1490.0 1042.9L1491.0 1041.9L1492.0 1042.2L1493.0 1042.0L1494.0 1043.1L1495.0 1044.0L1496.0 1043.6L1497.0 1043.3L1498.0 1042.6L1499.0 1043.9L1500.0 1043.5L1501.0 1042.4L1502.0 1042.6L1503.0 1043.8L1504.0 1043.5L1505.0 1045.6L1506.0 1044.5L1507.0 1043.8L1508.0 1044.3L1509.0 1046.0L1510.0 1044.2L1511.0 1045.7L1512.0 1045.5L1513.0 1046.4L1514.0 1045.8L1515.0 1045.2L1516.0 1046.1L1517.0 1045.8L1518.0 1046.6L1519.0 1046.0L1520.0 1047.6L1521.0 1046.2L1522.0 1046.7L1523.0 1046.0L1524.0 1046.7L1525.0 1046.8L1526.0 1047.0L1527.0 1047.6L1528.0 1046.7L1529.0 1046.6L1530.0 1048.2L1531.0 1047.2L1532.0 1047.0L1533.0 1048.5L1534.0 1048.4L1535.0 1045.9L1536.0 1047.7L1537.0 1048.7L1538.0 1048.9L1539.0 1048.0L1540.0 1049.6L1541.0 1048.0L1542.0 1048.5L1543.0 1048.9L1544.0 1048.9L1545.0 1049.6L1546.0 1049.9L1547.0 1049.2L1548.0 1050.4L1549.0 1048.9L1550.0 1049.4L1551.0 1051.0L1552.0 1049.9L1553.0 1050.7L1554.0 1049.7L1555.0 1049.9L1556.0 1050.1L1557.0 1050.4L1558.0 1050.2L1559.0 1050.5L1560.0 1051.1L1561.0 1051.6L1562.0 1050.9L1563.0 1051.4L1564.0 1051.7L1565.0 1050.4L1566.0 1050.1L1567.0 1052.5L1568.0 1052.4L1569.0 1051.6L1570.0 1051.9L1571.0 1051.1L1572.0 1050.8L1573.0 1052.2L1574.0 1051.0L1575.0 1052.8L1576.0 1051.7L1577.0 1052.6L1578.0 1053.8L1579.0 1053.9L1580.0 1052.4L1581.0 1053.5L1582.0 1052.1L1583.0 1052.5L1584.0 1053.3L1585.0 1054.1L1586.0 1052.8L1587.0 1053.7L1588.0 1053.4L1589.0 1052.5L1590.0 1053.5L1591.0 1054.7L1592.0 1053.7L1593.0 1054.2L1594.0 1054.5L1595.0 1053.5L1596.0 1055.0L1597.0 1055.2L1598.0 1055.4L1599.0 1055.3L1600.0 1054.1L1601.0 1054.1L1602.0 1054.0L1603.0 1054.0L1604.0 1054.2L1605.0 1055.5L1606.0 1056.0L1607.0 1054.5L1608.0 1055.7L1609.0 1054.2L1610.0 1055.0L1611.0 1054.6L1612.0 1054.2L1613.0 1055.5L1614.0 1055.6L1615.0 1055.3L1616.0 1055.3L1617.0 1055.0L1618.0 1055.7L1619.0 1055.5L1620.0 1056.1L1621.0 1055.2L1622.0 1056.3L1623.0 1056.5L1624.0 1057.1L1625.0 1057.1L1626.0 1056.5L1627.0 1056.0L1628.0 1055.2L1629.0 1056.6L1630.0 1057.7L1631.0 1057.9L1632.0 1055.0L1633.0 1056.3L1634.0 1056.7L1635.0 1056.2L1636.0 1057.2L1637.0 1057.1L1638.0 1056.8L1639.0 1057.2L1640.0 1056.1L1641.0 1056.6L1642.0 1056.8L1643.0 1058.1L1644.0 1056.3L1645.0 1057.4L1646.0 1058.2L1647.0 1057.6L1648.0 1058.3L1649.0 1057.3L1650.0 1058.1L1651.0 1058.5L1652.0 1059.5L1653.0 1058.5L1654.0 1059.0L1655.0 1058.1L1656.0 1058.2L1657.0 1059.3L1658.0 1058.6L1659.0 1059.2L1660.0 1058.8L1661.0 1059.8L1662.0 1060.1L1663.0 1057.8L1664.0 1059.8L1665.0 1058.8L1666.0 1058.9L1667.0 1058.5L1668.0 1059.1L1669.0 1057.9L1670.0 1058.2L1671.0 1058.2L1672.0 1059.0L1673.0 1059.4L1674.0 1059.3L1675.0 1059.1L1676.0 1058.5L1677.0 1057.7L1678.0 1059.2L1679.0 1059.1L1680.0 1059.2L1681.0 1060.0L1682.0 1058.9L1683.0 1058.9L1684.0 1057.5L1685.0 1059.5L1686.0 1059.1L1687.0 1058.6L1688.0 1059.5L1689.0 1058.5L1690.0 1058.8L1691.0 1060.6L1692.0 1059.8L1693.0 1059.9L1694.0 1059.8L1695.0 1059.7L1696.0 1059.4L1697.0 1060.9L1698.0 1059.3L1699.0 1059.9L1700.0 1059.2L1701.0 1059.1L1702.0 1057.7L1703.0 1058.0L1704.0 1060.5L1705.0 1060.4L1706.0 1059.1L1707.0 1059.4L1708.0 1059.8L1709.0 1058.7L1710.0 1060.6L1711.0 1058.6L1712.0 1058.9L1713.0 1057.4L1714.0 1060.4L1715.0 1059.4L1716.0 1060.5L1717.0 1058.6L1718.0 1059.6L1719.0 1059.4L1720.0 1059.4L1721.0 1060.7L1722.0 1060.9L1723.0 1060.2L1724.0 1059.0L1725.0 1059.9L1726.0 1060.2L1727.0 1059.6L1728.0 1059.6L1729.0 1059.5L1730.0 1058.5L1731.0 1059.3L1732.0 1060.2L1733.0 1058.4L1734.0 1059.1" stroke="#0000ff"/>
<path d="M28.0 1198.8L29.0 1198.7L30.0 1199.6L31.0 1198.6L32.0 1196.7L33.0 1197.4L34.0 1196.7L35.0 1196.8L36.0 1195.3L37.0 1196.2L38.0 1195.9L39.0 1196.4L40.0 1195.3L41.0 1195.1L42.0 1193.4L43.0 1195.6L44.0 1192.5L45.0 1194.2L46.0 1192.9L47.0 1192.2L48.0 1192.1L49.0 1191.8L50.0 1192.2L51.0 1191.6L52.0 1192.3L53.0 1189.8L54.0 1190.7L55.0 1189.8L56.0 1190.7L57.0 1188.4L58.0 1189.3L59.0 1189.4L60.0 1188.0L61.0 1189.4L62.0 1188.6L63.0 1188.9L64.0 1188.5L65.0 1186.9L66.0 1186.7L67.0 1186.9L68.0 1187.3L69.0 1187.0L70.0 1185.6L71.0 1185.4L72.0 1185.0L73.0 1184.9L74.0 1184.8L75.0 1184.6L76.0 1185.9L77.0 1183.8L78.0 1183.6L79.0 1183.9L80.0 1182.5L81.0 1182.7L82.0 1182.6L83.0 1182.9L84.0 1181.1L85.0 1182.7L86.0 1181.1L87.0 1181.2L88.0 1181.4L89.0 1180.9L90.0 1180.9L91.0 1179.9L92.0 1179.5L93.0 1179.4L94.0 1178.1L95.0 1179.4L96.0 1177.5L97.0 1176.8L98.0 1179.0L99.0 1177.0L100.0 1175.8L101.0 1177.8L102.0 1175.7L103.0 1176.4L104.0 1174.6L105.0 1174.6L106.0 1173.2L107.0 1172.6L108.0 1172.9L109.0 1173.2L110.0 1173.5L111.0 1174.3L112.0 1171.2L113.0 1172.4L114.0 1170.7L115.0 1170.6L116.0 1169.1L117.0 1168.6L118.0 1168.7L119.0 1167.9L120.0 1168.4L121.0 1167.4L122.0 1168.4L123.0 1167.1L124.0 1166.6L125.0 1166.8L126.0 1165.8L127.0 1164.9L128.0 1164.3L129.0 1163.7L130.0 1164.1L131.0 1163.3L132.0 1162.4L133.0 1162.2L134.0 1160.5L135.0 1160.8L136.0 1158.6L137.0 1160.3L138.0 1158.6L139.0 1158.1L140.0 1157.8L141.0 1156.6L142.0 1155.8L143.0 1156.3L144.0 1154.7L145.0 1153.2L146.0 1153.6L147.0 1151.1L148.0 1153.3L149.0 1150.9L150.0 1150.4L151.0 1151.6L152.0 1150.8L153.0 1148.2L154.0 1147.8L155.0 1147.5L156.0 1147.2L157.0 1144.7L158.0 1144.2L159.0 1144.3L160.0 1142.6L161.0 1142.2L162.0 1141.2L163.0 1138.7L164.0 1138.0L165.0 1135.5L166.0 1136.8L167.0 1137.4L168.0 1134.1L169.0 1135.4L170.0 1134.3L171.0 1132.3L172.0 1131.4L173.0 1130.5L174.0 1128.5L175.0 1128.1L176.0 1127.3L177.0 1127.0L178.0 1126.1L179.0 1123.6L180.0 1124.1L181.0 1121.4L182.0 1121.0L183.0 1120.5L184.0 1119.0L185.0 1117.8L186.0 1117.1L187.0 1115.2L188.0 1114.0L189.0 1113.3L190.0 1113.4L191.0 1111.2L192.0 1112.2L193.0 1109.2L194.0 1104.6L195.0 1106.2L196.0 1107.3L197.0 1104.3L198.0 1102.7L199.0 1101.0L200.0 1102.3L201.0 1100.7L202.0 1099.1L203.0 1097.6L204.0 1097.6L205.0 1095.7L206.0 1092.1L207.0 1093.1L208.0 1091.2L209.0 1089.6L210.0 1089.4L211.0 1087.2L212.0 1082.4L213.0 1086.4L214.0 1084.5L215.0 1081.7L216.0 1080.0L217.0 1079.4L218.0 1076.1L219.0 1076.6L220.0 1074.5L221.0 1072.9L222.0 1070.6L223.0 1069.4L224.0 1070.1L225.0 1068.8L226.0 1066.1L227.0 1063.7L228.0 1061.0L229.0 1061.4L230.0 1060.8L231.0 1054.8L232.0 1056.8L233.0 1050.5L234.0 1051.2L235.0 1050.4L236.0 1046.2L237.0 1044.2L238.0 1044.8L239.0 1043.9L240.0 1040.3L241.0 1041.1L242.0 1036.3L243.0 1038.1L244.0 1034.0L245.0 1032.4L246.0 1031.2L247.0 1029.0L248.0 1029.5L249.0 1028.3L250.0 1024.0L251.0 1021.2L252.0 1017.9L253.0 1016.8L254.0 1016.2L255.0 1014.3L256.0 1012.6L257.0 1010.9L258.0 1009.9L259.0 1005.3L260.0 1004.1L261.0 1005.7L262.0 1003.6L263.0 999.6L264.0 1000.8L265.0 995.9L266.0 994.9L267.0 990.6L268.0 993.2L269.0 990.1L270.0 990.2L271.0 987.9L272.0 985.2L273.0 983.6L274.0 983.6L275.0 979.6L276.0 978.0L277.0 976.7L278.0 976.2L279.0 974.8L280.0 974.8L281.0 969.7L282.0 970.4L283.0 965.3L284.0 965.9L285.0 963.4L286.0 964.6L287.0 961.0L288.0 957.4L289.0 957.6L290.0 955.6L291.0 952.7L292.0 951.2L293.0 948.3L294.0 953.6L295.0 947.1L296.0 947.0L297.0 941.4L298.0 939.9L299.0 940.1L300.0 938.5L301.0 938.7L302.0 933.7L303.0 935.1L304.0 935.4L305.0 929.1L306.0 931.1L307.0 925.9L308.0 926.9L309.0 925.4L310.0 926.6L311.0 920.2L312.0 920.4L313.0 920.7L314.0 914.7L315.0 915.5L316.0 912.3L317.0 911.2L318.0 912.5L319.0 911.1L320.0 913.5L321.0 909.6L322.0 907.9L323.0 903.5L324.0 901.8L325.0 901.3L326.0 894.9L327.0 901.7L328.0 895.4L329.0 893.2L330.0 893.1L331.0 894.6L332.0 894.1L333.0 889.3L334.0 889.7L335.0 887.3L336.0 884.0L337.0 885.2L338.0 883.7L339.0 879.0L340.0 883.5L341.0 876.4L342.0 879.2L343.0 875.1L344.0 874.5L345.0 873.5L346.0 875.5L347.0 870.0L348.0 871.2L349.0 874.0L350.0 867.9L351.0 868.3L352.0 868.7L353.0 864.9L354.0 866.2L355.0 862.6L356.0 864.7L357.0 862.3L358.0 859.0L359.0 863.4L360.0 859.0L361.0 857.7L362.0 855.3L363.0 855.4L364.0 855.4L365.0 855.2L366.0 856.5L367.0 850.1L368.0 851.5L369.0 854.3L370.0 851.2L371.0 851.0L372.0 853.0L373.0 849.4L374.0 849.0L375.0 847.1L376.0 850.7L377.0 848.4L378.0 843.6L379.0 846.0L380.0 841.4L381.0 846.1L382.0 844.6L383.0 842.1L384.0 841.0L385.0 837.2L386.0 842.8L387.0 840.3L388.0 839.4L389.0 841.4L390.0 837.7L391.0 837.5L392.0 836.9L393.0 835.0L394.0 843.6L395.0 837.1L396.0 836.4L397.0 839.1L398.0 829.2L399.0 836.4L400.0 836.3L401.0 833.7L402.0 837.0L403.0 830.8L404.0 835.5L405.0 837.5L406.0 829.9L407.0 831.6L408.0 834.6L409.0 834.9L410.0 833.3L411.0 835.6L412.0 835.3L413.0 831.5L414.0 834.5L415.0 831.7L416.0 829.8L417.0 829.1L418.0 837.4L419.0 834.7L420.0 839.8L421.0 831.8L422.0 834.6L423.0 836.4L424.0 835.4L425.0 837.2L426.0 836.5L427.0 835.0L428.0 831.1L429.0 834.7L430.0 841.3L431.0 839.3L432.0 841.0L433.0 836.7L434.0 837.9L435.0 836.6L436.0 840.0L437.0 839.5L438.0 840.8L439.0 844.2L440.0 838.4L441.0 842.5L442.0 837.8L443.0 844.1L444.0 840.8L445.0 842.1L446.0 843.0L447.0 846.9L448.0 843.4L449.0 842.6L450.0 841.4L451.0 845.3L452.0 843.0L453.0 844.2L454.0 845.8L455.0 847.8L456.0 845.0L457.0 848.6L458.0 851.6L459.0 844.4L460.0 851.4L461.0 853.7L462.0 847.7L463.0 850.9L464.0 846.7L465.0 851.1L466.0 849.9L467.0 851.8L468.0 849.4L469.0 850.0L470.0 851.3L471.0 851.0L472.0 851.7L473.0 853.0L474.0 851.4L475.0 854.0L476.0 855.9L477.0 849.8L478.0 856.0L479.0 854.3L480.0 853.9L481.0 853.8L482.0 855.3L483.0 856.0L484.0 859.0L485.0 855.7L486.0 861.4L487.0 857.7L488.0 861.6L489.0 862.9L490.0 858.2L491.0 863.9L492.0 866.9L493.0 861.5L494.0 864.3L495.0 863.2L496.0 864.2L497.0 864.2L498.0 864.0L499.0 867.3L500.0 868.2L501.0 866.8L502.0 870.8L503.0 870.4L504.0 870.1L505.0 867.5L506.0 873.9L507.0 873.2L508.0 866.1L509.0 869.0L510.0 871.1L511.0 874.8L512.0 876.2L513.0 873.4L514.0 875.2L515.0 876.9L516.0 873.2L517.0 878.0L518.0 876.8L519.0 878.5L520.0 878.8L521.0 877.0L522.0 878.2L523.0 881.2L524.0 882.1L525.0 882.0L526.0 885.7L527.0 883.4L528.0 882.4L529.0 885.1L530.0 886.3L531.0 887.2L532.0 890.9L533.0 890.3L534.0 892.4L535.0 892.3L536.0 891.6L537.0 895.1L538.0 893.2L539.0 895.3L540.0 893.6L541.0 896.9L542.0 897.0L543.0 899.4L544.0 903.5L545.0 905.6L546.0 903.8L547.0 902.7L548.0 905.5L549.0 905.3L550.0 904.7L551.0 906.9L552.0 907.6L553.0 907.9L554.0 913.1L555.0 910.3L556.0 911.5L557.0 915.1L558.0 913.4L559.0 913.6L560.0 915.3L561.0 919.2L562.0 920.1L563.0 921.1L564.0 920.8L565.0 921.1L566.0 925.8L567.0 922.4L568.0 926.0L569.0 925.0L570.0 928.0L571.0 929.7L572.0 933.6L573.0 926.9L574.0 936.3L575.0 933.2L576.0 936.7L577.0 938.9L578.0 937.2L579.0 939.8L580.0 942.2L581.0 942.3L582.0 942.5L583.0 945.6L584.0 946.8L585.0 945.2L586.0 951.9L587.0 951.2L588.0 947.8L589.0 952.2L590.0 958.3L591.0 959.6L592.0 958.7L593.0 956.8L594.0 960.9L595.0 964.8L596.0 965.2L597.0 965.5L598.0 966.4L599.0 970.8L600.0 970.6L601.0 973.1L602.0 975.0L603.0 978.6L604.0 977.7L605.0 979.4L606.0 977.5L607.0 984.0L608.0 985.2L609.0 985.2L610.0 982.9L611.0 987.2L612.0 989.7L613.0 994.5L614.0 993.4L615.0 995.1L616.0 996.4L617.0 998.6L618.0 995.8L619.0 997.5L620.0 998.2L621.0 1000.8L622.0 1001.9L623.0 1003.8L624.0 1003.1L625.0 1006.0L626.0 1005.6L627.0 1011.3L628.0 1008.2L629.0 1014.1L630.0 1013.7L631.0 1010.4L632.0 1014.7L633.0 1015.2L634.0 1013.0L635.0 1017.3L636.0 1017.3L637.0 1019.0L638.0 1018.2L639.0 1020.5L640.0 1022.2L641.0 1022.4L642.0 1022.8L643.0 1024.5L644.0 1024.3L645.0 1027.3L646.0 1024.1L647.0 1031.1L648.0 1030.0L649.0 1031.6L650.0 1033.2L651.0 1031.1L652.0 1037.2L653.0 1033.3L654.0 1036.6L655.0 1037.4L656.0 1039.8L657.0 1038.9L658.0 1037.9L659.0 1041.3L660.0 1038.3L661.0 1042.5L662.0 1043.0L663.0 1046.8L664.0 1045.1L665.0 1045.8L666.0 1046.3L667.0 1047.1L668.0 1048.4L669.0 1050.8L670.0 1049.1L671.0 1051.4L672.0 1050.6L673.0 1053.1L674.0 1054.4L675.0 1053.3L676.0 1055.0L677.0 1056.7L678.0 1058.3L679.0 1059.3L680.0 1058.6L681.0 1058.2L682.0 1058.1L683.0 1061.9L684.0 1063.4L685.0 1062.7L686.0 1065.0L687.0 1063.0L688.0 1063.7L689.0 1066.9L690.0 1064.1L691.0 1066.8L692.0 1067.1L693.0 1067.4L694.0 1069.9L695.0 1067.1L696.0 1068.2L697.0 1066.6L698.0 1068.5L699.0 1069.7L700.0 1070.3L701.0 1071.0L702.0 1072.1L703.0 1071.4L704.0 1070.2L705.0 1073.3L706.0 1074.0L707.0 1072.5L708.0 1073.3L709.0 1076.9L710.0 1076.4L711.0 1076.8L712.0 1076.7L713.0 1076.4L714.0 1075.9L715.0 1077.6L716.0 1077.0L717.0 1077.0L718.0 1077.8L719.0 1078.0L720.0 1079.5L721.0 1077.5L722.0 1082.1L723.0 1078.0L724.0 1079.0L725.0 1080.9L726.0 1079.0L727.0 1079.7L728.0 1080.5L729.0 1077.1L730.0 1080.3L731.0 1079.9L732.0 1081.0L733.0 1082.1L734.0 1082.5L735.0 1083.7L736.0 1083.8L737.0 1083.5L738.0 1082.3L739.0 1083.8L740.0 1081.4L741.0 1082.7L742.0 1084.7L743.0 1084.0L744.0 1081.5L745.0 1082.6L746.0 1084.5L747.0 1084.3L748.0 1084.9L749.0 1081.6L750.0 1082.3L751.0 1083.6L752.0 1082.8L753.0 1084.0L754.0 1084.2L755.0 1084.6L756.0 1084.1L757.0 1085.0L758.0 1085.4L759.0 1084.7L760.0 1083.0L761.0 1086.1L762.0 1084.9L763.0 1085.2L764.0 1084.9L765.0 1082.8L766.0 1085.5L767.0 1084.0L768.0 1083.4L769.0 1086.4L770.0 1084.5L771.0 1085.3L772.0 1086.0L773.0 1086.9L774.0 1082.8L775.0 1084.1L776.0 1085.8L777.0 1084.2L778.0 1081.1L779.0 1085.2L780.0 1085.3L781.0 1086.0L782.0 1085.3L783.0 1084.5L784.0 1085.3L785.0 1085.0L786.0 1084.4L787.0 1085.4L788.0 1085.5L789.0 1083.8L790.0 1086.3L791.0 1086.1L792.0 1086.0L793.0 1081.8L794.0 1085.2L795.0 1085.0L796.0 1083.9L797.0 1085.8L798.0 1083.3L799.0 1086.6L800.0 1085.6L801.0 1084.6L802.0 1086.9L803.0 1085.8L804.0 1085.6L805.0 1083.7L806.0 1085.9L807.0 1087.0L808.0 1086.6L809.0 1083.7L810.0 1087.0L811.0 1087.3L812.0 1086.4L813.0 1084.9L814.0 1083.6L815.0 1084.3L816.0 1084.7L817.0 1085.7L818.0 1086.1L819.0 1084.5L820.0 1083.4L821.0 1084.9L822.0 1083.8L823.0 1087.0L824.0 1083.9L825.0 1086.0L826.0 1086.4L827.0 1084.2L828.0 1086.6L829.0 1085.2L830.0 1084.4L831.0 1084.2L832.0 1085.5L833.0 1086.7L834.0 1083.1L835.0 1086.1L836.0 1085.1L837.0 1084.4L838.0 1085.1L839.0 1085.2L840.0 1085.1L841.0 1086.2L842.0 1084.1L843.0 1087.5L844.0 1086.2L845.0 1084.3L846.0 1082.7L847.0 1084.9L848.0 1084.4L849.0 1085.7L850.0 1085.7L851.0 1087.1L852.0 1084.5L853.0 1085.6L854.0 1084.1L855.0 1084.1L856.0 1086.3L857.0 1084.2L858.0 1084.2L859.0 1083.8L860.0 1084.6L861.0 1084.9L862.0 1084.0L863.0 1082.7L864.0 1084.4L865.0 1082.9L866.0 1083.5L867.0 1084.1L868.0 1084.1L869.0 1081.0L870.0 1085.8L871.0 1084.7L872.0 1086.1L873.0 1086.7L874.0 1082.5L875.0 1083.0L876.0 1083.9L877.0 1084.8L878.0 1083.0L879.0 1083.3L880.0 1085.0L881.0 1082.7L882.0 1084.1L883.0 1085.2L884.0 1083.5L885.0 1084.7L886.0 1083.5L887.0 1081.7L888.0 1082.9L889.0 1083.3L890.0 1083.1L891.0 1083.6L892.0 1084.0L893.0 1084.0L894.0 1084.2L895.0 1084.0L896.0 1084.9L897.0 1085.5L898.0 1086.1L899.0 1089.3L900.0 1086.1L901.0 1089.3L902.0 1087.7L903.0 1089.2L904.0 1091.1L905.0 1090.1L906.0 1092.3L907.0 1089.8L908.0 1090.7L909.0 1090.6L910.0 1091.5L911.0 1091.3L912.0 1091.4L913.0 1092.1L914.0 1093.5L915.0 1092.5L916.0 1092.5L917.0 1092.2L918.0 1091.8L919.0 1091.1L920.0 1091.6L921.0 1092.9L922.0 1090.7L923.0 1093.7L924.0 1092.4L925.0 1091.8L926.0 1092.3L927.0 1093.6L928.0 1093.2L929.0 1093.1L930.0 1094.8L931.0 1095.4L932.0 1091.1L933.0 1093.6L934.0 1091.6L935.0 1090.8L936.0 1091.8L937.0 1093.5L938.0 1091.9L939.0 1091.6L940.0 1093.8L941.0 1092.7L942.0 1092.0L943.0 1094.2L944.0 1092.6L945.0 1091.2L946.0 1090.9L947.0 1092.3L948.0 1093.9L949.0 1095.9L950.0 1097.0L951.0 1097.1L952.0 1096.7L953.0 1100.2L954.0 1100.3L955.0 1099.9L956.0 1100.3L957.0 1102.3L958.0 1102.7L959.0 1103.6L960.0 1101.6L961.0 1105.3L962.0 1101.4L963.0 1103.6L964.0 1105.4L965.0 1105.2L966.0 1103.2L967.0 1105.1L968.0 1105.9L969.0 1105.5L970.0 1103.8L971.0 1106.9L972.0 1103.3L973.0 1105.3L974.0 1104.2L975.0 1105.1L976.0 1105.3L977.0 1106.4L978.0 1104.6L979.0 1106.3L980.0 1107.7L981.0 1106.4L982.0 1107.1L983.0 1107.1L984.0 1105.9L985.0 1106.4L986.0 1107.0L987.0 1107.5L988.0 1109.3L989.0 1109.0L990.0 1106.8L991.0 1107.0L992.0 1106.4L993.0 1105.1L994.0 1109.2L995.0 1108.5L996.0 1105.9L997.0 1108.2L998.0 1111.0L999.0 1109.1L1000.0 1109.3L1001.0 1109.2L1002.0 1108.3L1003.0 1108.1L1004.0 1108.7L1005.0 1110.1L1006.0 1109.9L1007.0 1111.2L1008.0 1112.6L1009.0 1111.7L1010.0 1112.6L1011.0 1112.0L1012.0 1111.6L1013.0 1115.9L1014.0 1114.8L1015.0 1115.8L1016.0 1114.3L1017.0 1113.1L1018.0 1116.5L1019.0 1113.0L1020.0 1115.3L1021.0 1115.1L1022.0 1116.0L1023.0 1116.8L1024.0 1117.0L1025.0 1114.1L1026.0 1117.6L1027.0 1114.7L1028.0 1117.6L1029.0 1116.5L1030.0 1116.0L1031.0 1116.8L1032.0 1116.1L1033.0 1117.7L1034.0 1118.8L1035.0 1118.8L1036.0 1118.2L1037.0 1119.5L1038.0 1119.0L1039.0 1120.9L1040.0 1119.3L1041.0 1118.3L1042.0 1118.8L1043.0 1118.4L1044.0 1119.1L1045.0 1119.4L1046.0 1120.4L1047.0 1120.6L1048.0 1120.0L1049.0 1120.6L1050.0 1119.5L1051.0 1119.8L1052.0 1118.0L1053.0 1119.9L1054.0 1120.3L1055.0 1123.6L1056.0 1119.7L1057.0 1121.3L1058.0 1121.0L1059.0 1119.9L1060.0 1121.9L1061.0 1121.8L1062.0 1120.4L1063.0 1119.6L1064.0 1122.1L1065.0 1120.8L1066.0 1123.1L1067.0 1122.3L1068.0 1123.2L1069.0 1122.5L1070.0 1124.5L1071.0 1123.8L1072.0 1124.8L1073.0 1123.4L1074.0 1122.4L1075.0 1122.1L1076.0 1123.2L1077.0 1124.1L1078.0 1123.3L1079.0 1126.6L1080.0 1124.1L1081.0 1124.8L1082.0 1124.5L1083.0 1123.3L1084.0 1125.8L1085.0 1125.4L1086.0 1125.8L1087.0 1124.1L1088.0 1125.2L1089.0 1125.2L1090.0 1126.6L1091.0 1124.1L1092.0 1126.3L1093.0 1127.0L1094.0 1125.4L1095.0 1125.1L1096.0 1127.4L1097.0 1126.4L1098.0 1127.5L1099.0 1127.2L1100.0 1127.6L1101.0 1126.5L1102.0 1124.6L1103.0 1127.5L1104.0 1126.3L1105.0 1127.7L1106.0 1126.7L1107.0 1129.0L1108.0 1127.2L1109.0 1128.4L1110.0 1128.8L1111.0 1127.7L1112.0 1128.2L1113.0 1128.0L1114.0 1127.1L1115.0 1129.7L1116.0 1127.4L1117.0 1126.8L1118.0 1128.0L1119.0 1128.7L1120.0 1128.8L1121.0 1128.5L1122.0 1128.5L1123.0 1126.9L1124.0 1129.8L1125.0 1131.0L1126.0 1128.6L1127.0 1127.6L1128.0 1130.3L1129.0 1129.5L1130.0 1125.7L1131.0 1129.1L1132.0 1128.5L1133.0 1128.9L1134.0 1132.2L1135.0 1131.3L1136.0 1130.2L1137.0 1130.5L1138.0 1132.2L1139.0 1129.6L1140.0 1131.5L1141.0 1130.3L1142.0 1131.8L1143.0 1131.3L1144.0 1130.5L1145.0 1132.4L1146.0 1132.0L1147.0 1133.4L1148.0 1131.2L1149.0 1131.8L1150.0 1131.1L1151.0 1133.1L1152.0 1131.2L1153.0 1132.1L1154.0 1133.5L1155.0 1132.8L1156.0 1132.7L1157.0 1132.8L1158.0 1132.9L1159.0 1133.3L1160.0 1132.5L1161.0 1130.9L1162.0 1134.3L1163.0 1132.0L1164.0 1135.0L1165.0 1133.6L1166.0 1136.6L1167.0 1134.7L1168.0 1134.0L1169.0 1134.6L1170.0 1132.4L1171.0 1134.0L1172.0 1133.6L1173.0 1134.1L1174.0 1132.1L1175.0 1132.0L1176.0 1135.0L1177.0 1134.5L1178.0 1134.1L1179.0 1134.5L1180.0 1134.0L1181.0 1134.3L1182.0 1135.6L1183.0 1134.7L1184.0 1135.8L1185.0 1134.5L1186.0 1133.5L1187.0 1134.7L1188.0 1135.3L1189.0 1134.4L1190.0 1135.2L1191.0 1135.2L1192.0 1136.7L1193.0 1136.7L1194.0 1137.1L1195.0 1135.3L1196.0 1136.5L1197.0 1137.6L1198.0 1136.6L1199.0 1136.4L1200.0 1135.8L1201.0 1137.5L1202.0 1136.9L1203.0 1137.8L1204.0 1136.8L1205.0 1139.1L1206.0 1137.1L1207.0 1136.0L1208.0 1137.5L1209.0 1137.9L1210.0 1138.8L1211.0 1137.1L1212.0 1137.2L1213.0 1137.5L1214.0 1137.5L1215.0 1135.9L1216.0 1138.8L1217.0 1139.4L1218.0 1137.5L1219.0 1137.4L1220.0 1138.3L1221.0 1137.8L1222.0 1139.4L1223.0 1138.1L1224.0 1139.4L1225.0 1137.7L1226.0 1137.6L1227.0 1137.6L1228.0 1137.8L1229.0 1139.7L1230.0 1140.2L1231.0 1139.6L1232.0 1139.8L1233.0 1137.5L1234.0 1140.9L1235.0 1138.7L1236.0 1141.2L1237.0 1142.4L1238.0 1140.2L1239.0 1140.9L1240.0 1140.9L1241.0 1139.2L1242.0 1139.4L1243.0 1140.0L1244.0 1140.9L1245.0 1141.6L1246.0 1141.0L1247.0 1142.1L1248.0 1140.6L1249.0 1139.8L1250.0 1141.3L1251.0 1141.3L1252.0 1140.1L1253.0 1142.6L1254.0 1140.8L1255.0 1141.1L1256.0 1142.1L1257.0 1140.9L1258.0 1142.7L1259.0 1142.5L1260.0 1142.7L1261.0 1142.4L1262.0 1142.0L1263.0 1141.8L1264.0 1142.9L1265.0 1144.0L1266.0 1143.6L1267.0 1143.3L1268.0 1144.0L1269.0 1144.4L1270.0 1142.1L1271.0 1143.3L1272.0 1144.6L1273.0 1142.9L1274.0 1143.2L1275.0 1144.3L1276.0 1143.6L1277.0 1145.1L1278.0 1143.7L1279.0 1144.7L1280.0 1146.6L1281.0 1145.4L1282.0 1143.2L1283.0 1143.6L1284.0 1143.7L1285.0 1144.7L1286.0 1143.5L1287.0 1145.5L1288.0 1146.6L1289.0 1146.6L1290.0 1144.5L1291.0 1145.1L1292.0 1145.2L1293.0 1144.8L1294.0 1147.2L1295.0 1145.1L1296.0 1144.8L1297.0 1146.3L1298.0 1146.3L1299.0 1147.6L1300.0 1147.7L1301.0 1146.2L1302.0 1144.5L1303.0 1147.2L1304.0 1147.4L1305.0 1148.4L1306.0 1145.4L1307.0 1145.9L1308.0 1148.5L1309.0 1148.7L1310.0 1148.5L1311.0 1147.3L1312.0 1148.7L1313.0 1147.1L1314.0 1146.5L1315.0 1147.7L1316.0 1148.0L1317.0 1148.7L1318.0 1149.1L1319.0 1146.6L1320.0 1148.6L1321.0 1148.8L1322.0 1147.3L1323.0 1148.4L1324.0 1148.8L1325.0 1149.2L1326.0 1148.1L1327.0 1148.5L1328.0 1148.1L1329.0 1149.6L1330.0 1149.1L1331.0 1148.9L1332.0 1150.2L1333.0 1149.5L1334.0 1148.7L1335.0 1150.9L1336.0 1150.9L1337.0 1150.6L1338.0 1149.3L1339.0 1151.4L1340.0 1149.9L1341.0 1148.9L1342.0 1150.6L1343.0 1152.4L1344.0 1150.5L1345.0 1151.6L1346.0 1152.4L1347.0 1151.4L1348.0 1151.1L1349.0 1151.5L1350.0 1152.1L1351.0 1151.3L1352.0 1152.2L1353.0 1152.5L1354.0 1151.7L1355.0 1152.8L1356.0 1152.8L1357.0 1152.1L1358.0 1152.4L1359.0 1152.8L1360.0 1152.7L1361.0 1152.7L1362.0 1152.1L1363.0 1153.2L1364.0 1153.9L1365.0 1154.0L1366.0 1152.8L1367.0 1154.1L1368.0 1154.3L1369.0 1153.1L1370.0 1154.5L1371.0 1154.0L1372.0 1153.9L1373.0 1154.6L1374.0 1154.3L1375.0 1152.7L1376.0 1154.9L1377.0 1153.9L1378.0 1154.9L1379.0 1155.7L1380.0 1155.0L1381.0 1155.0L1382.0 1155.6L1383.0 1156.0L1384.0 1155.0L1385.0 1155.3L1386.0 1156.4L1387.0 1157.5L1388.0 1156.2L1389.0 1157.1L1390.0 1155.8L1391.0 1156.6L1392.0 1156.8L1393.0 1155.7L1394.0 1156.9L1395.0 1156.9L1396.0 1155.0L1397.0 1157.3L1398.0 1157.7L1399.0 1157.8L1400.0 1158.0L1401.0 1156.9L1402.0 1157.3L1403.0 1157.9L1404.0 1157.5L1405.0 1157.9L1406.0 1159.5L1407.0 1157.8L1408.0 1158.4L1409.0 1160.4L1410.0 1158.8L1411.0 1158.3L1412.0 1159.4L1413.0 1159.5L1414.0 1159.6L1415.0 1158.2L1416.0 1160.0L1417.0 1160.2L1418.0 1161.7L1419.0 1160.7L1420.0 1159.9L1421.0 1160.7L1422.0 1161.1L1423.0 1160.6L1424.0 1160.8L1425.0 1162.1L1426.0 1161.5L1427.0 1161.6L1428.0 1160.6L1429.0 1161.8L1430.0 1160.1L1431.0 1162.8L1432.0 1161.5L1433.0 1162.5L1434.0 1163.3L1435.0 1161.4L1436.0 1163.4L1437.0 1162.7L1438.0 1163.6L1439.0 1162.5L1440.0 1162.4L1441.0 1164.1L1442.0 1163.5L1443.0 1163.4L1444.0 1162.5L1445.0 1164.7L1446.0 1163.5L1447.0 1163.7L1448.0 1163.4L1449.0 1164.1L1450.0 1164.7L1451.0 1164.3L1452.0 1164.4L1453.0 1164.2L1454.0 1166.0L1455.0 1166.2L1456.0 1164.8L1457.0 1164.4L1458.0 1165.5L1459.0 1164.1L1460.0 1165.7L1461.0 1165.9L1462.0 1165.9L1463.0 1167.2L1464.0 1167.5L1465.0 1166.5L1466.0 1166.0L1467.0 1167.2L1468.0 1167.4L1469.0 1165.7L1470.0 1166.2L1471.0 1166.7L1472.0 1165.7L1473.0 1166.3L1474.0 1168.6L1475.0 1166.4L1476.0 1168.2L1477.0 1167.1L1478.0 1168.6L1479.0 1168.2L1480.0 1168.8L1481.0 1167.1L1482.0 1168.6L1483.0 1168.0L1484.0 1169.2L1485.0 1169.3L1486.0 1169.0L1487.0 1168.9L1488.0 1169.1L1489.0 1169.4L1490.0 1168.9L1491.0 1169.1L1492.0 1169.1L1493.0 1168.9L1494.0 1170.6L1495.0 1168.9L1496.0 1171.1L1497.0 1170.8L1498.0 1169.0L1499.0 1169.0L1500.0 1170.6L1501.0 1169.9L1502.0 1170.9L1503.0 1171.7L1504.0 1171.3L1505.0 1171.0L1506.0 1171.2L1507.0 1172.6L1508.0 1171.3L1509.0 1173.0L1510.0 1173.4L1511.0 1171.6L1512.0 1172.3L1513.0 1173.5L1514.0 1171.8L1515.0 1172.7L1516.0 1173.3L1517.0 1171.9L1518.0 1173.1L1519.0 1173.0L1520.0 1172.6L1521.0 1174.3L1522.0 1173.2L1523.0 1175.1L1524.0 1174.1L1525.0 1173.1L1526.0 1173.9L1527.0 1173.3L1528.0 1174.6L1529.0 1174.6L1530.0 1173.3L1531.0 1174.0L1532.0 1174.8L1533.0 1174.6L1534.0 1173.9L1535.0 1175.6L1536.0 1175.9L1537.0 1173.9L1538.0 1176.2L1539.0 1173.7L1540.0 1175.2L1541.0 1175.0L1542.0 1175.2L1543.0 1175.8L1544.0 1174.9L1545.0 1175.8L1546.0 1177.3L1547.0 1176.5L1548.0 1177.3L1549.0 1177.0L1550.0 1175.2L1551.0 1177.9L1552.0 1177.3L1553.0 1177.3L1554.0 1176.6L1555.0 1176.6L1556.0 1176.3L1557.0 1177.1L1558.0 1177.4L1559.0 1177.3L1560.0 1177.4L1561.0 1176.2L1562.0 1177.2L1563.0 1177.3L1564.0 1178.2L1565.0 1177.7L1566.0 1177.8L1567.0 1178.3L1568.0 1178.0L1569.0 1178.3L1570.0 1179.4L1571.0 1178.5L1572.0 1178.1L1573.0 1179.3L1574.0 1179.6L1575.0 1179.5L1576.0 1178.2L1577.0 1180.0L1578.0 1179.4L1579.0 1179.6L1580.0 1179.6L1581.0 1180.0L1582.0 1180.1L1583.0 1180.9L1584.0 1180.1L1585.0 1180.0L1586.0 1180.6L1587.0 1180.2L1588.0 1181.1L1589.0 1180.5L1590.0 1181.1L1591.0 1180.2L1592.0 1181.4L1593.0 1181.3L1594.0 1180.3L1595.0 1180.7L1596.0 1181.1L1597.0 1180.2L1598.0 1180.5L1599.0 1181.7L1600.0 1181.8L1601.0 1182.5L1602.0 1180.7L1603.0 1181.4L1604.0 1180.3L1605.0 1183.1L1606.0 1181.0L1607.0 1181.9L1608.0 1183.5L1609.0 1183.2L1610.0 1181.7L1611.0 1184.0L1612.0 1182.8L1613.0 1181.8L1614.0 1182.8L1615.0 1183.1L1616.0 1183.2L1617.0 1181.3L1618.0 1184.2L1619.0 1181.9L1620.0 1182.9L1621.0 1184.1L1622.0 1183.5L1623.0 1183.3L1624.0 1182.9L1625.0 1183.8L1626.0 1184.5L1627.0 1183.2L1628.0 1184.0L1629.0 1183.5L1630.0 1183.5L1631.0 1182.4L1632.0 1184.1L1633.0 1184.7L1634.0 1184.0L1635.0 1184.9L1636.0 1184.3L1637.0 1185.1L1638.0 1184.5L1639.0 1184.2L1640.0 1184.1L1641.0 1184.6L1642.0 1184.8L1643.0 1184.1L1644.0 1184.6L1645.0 1183.9L1646.0 1183.9L1647.0 1185.4L1648.0 1185.2L1649.0 1185.7L1650.0 1185.2L1651.0 1185.3L1652.0 1186.5L1653.0 1184.7L1654.0 1185.5L1655.0 1186.5L1656.0 1186.9L1657.0 1185.9L1658.0 1185.5L1659.0 1184.9L1660.0 1185.5L1661.0 1185.8L1662.0 1185.8L1663.0 1186.2L1664.0 1186.2L1665.0 1185.6L1666.0 1185.3L1667.0 1185.8L1668.0 1186.3L1669.0 1187.2L1670.0 1185.0L1671.0 1186.9L1672.0 1186.0L1673.0 1187.0L1674.0 1187.6L1675.0 1186.7L1676.0 1185.6L1677.0 1186.1L1678.0 1186.7L1679.0 1186.2L1680.0 1186.5L1681.0 1186.0L1682.0 1186.4L1683.0 1186.2L1684.0 1187.2L1685.0 1186.9L1686.0 1187.2L1687.0 1185.6L1688.0 1186.5L1689.0 1186.3L1690.0 1186.5L1691.0 1186.3L1692.0 1186.4L1693.0 1188.0L1694.0 1186.7L1695.0 1186.1L1696.0 1186.8L1697.0 1188.5L1698.0 1187.5L1699.0 1186.4L1700.0 1186.9L1701.0 1187.0L1702.0 1187.1L1703.0 1185.9L1704.0 1186.5L1705.0 1187.0L1706.0 1186.0L1707.0 1187.1L1708.0 1187.2L1709.0 1187.7L1710.0 1187.9L1711.0 1187.1L1712.0 1187.4L1713.0 1187.7L1714.0 1187.9L1715.0 1187.3L1716.0 1186.8L1717.0 1187.7L1718.0 1187.8L1719.0 1187.4L1720.0 1187.7L1721.0 1188.4L1722.0 1186.9L1723.0 1186.8L1724.0 1186.5L1725.0 1187.5L1726.0 1187.9L1727.0 1186.9L1728.0 1188.5L1729.0 1186.9L1730.0 1187.4L1731.0 1187.2L1732.0 1188.2L1733.0 1186.8L1734.0 1188.3" stroke="#ff00ff"/>
<path d="M28.0 1318.5L29.0 1317.9L30.0 1318.4L31.0 1318.6L32.0 1318.9L33.0 1318.0L34.0 1317.3L35.0 1317.0L36.0 1317.8L37.0 1318.1L38.0 1317.0L39.0 1315.8L40.0 1315.8L41.0 1317.3L42.0 1316.1L43.0 1314.6L44.0 1315.5L45.0 1314.5L46.0 1314.7L47.0 1314.6L48.0 1314.2L49.0 1314.8L50.0 1314.2L51.0 1313.6L52.0 1314.1L53.0 1314.1L54.0 1312.2L55.0 1312.9L56.0 1312.2L57.0 1312.5L58.0 1311.5L59.0 1312.2L60.0 1311.9L61.0 1311.5L62.0 1310.8L63.0 1311.0L64.0 1310.2L65.0 1309.8L66.0 1310.7L67.0 1309.5L68.0 1310.8L69.0 1310.3L70.0 1308.1L71.0 1309.5L72.0 1308.2L73.0 1308.8L74.0 1308.5L75.0 1306.8L76.0 1307.8L77.0 1307.5L78.0 1308.1L79.0 1306.3L80.0 1307.4L81.0 1305.8L82.0 1306.1L83.0 1305.4L84.0 1306.8L85.0 1305.9L86.0 1306.9L87.0 1305.3L88.0 1305.2L89.0 1304.9L90.0 1303.5L91.0 1303.6L92.0 1304.3L93.0 1302.7L94.0 1302.8L95.0 1302.3L96.0 1302.5L97.0 1301.4L98.0 1301.2L99.0 1301.2L100.0 1300.7L101.0 1299.6L102.0 1300.6L103.0 1298.6L104.0 1298.3L105.0 1297.9L106.0 1299.2L107.0 1297.8L108.0 1296.9L109.0 1296.4L110.0 1297.2L111.0 1295.7L112.0 1295.1L113.0 1296.2L114.0 1294.3L115.0 1294.6L116.0 1294.4L117.0 1293.6L118.0 1293.5L119.0 1294.2L120.0 1292.2L121.0 1291.2L122.0 1290.3L123.0 1291.1L124.0 1290.5L125.0 1290.5L126.0 1289.5L127.0 1289.0L128.0 1288.3L129.0 1287.9L130.0 1288.0L131.0 1287.0L132.0 1286.9L133.0 1287.8L134.0 1286.1L135.0 1283.9L136.0 1286.1L137.0 1284.4L138.0 1282.7L139.0 1283.7L140.0 1282.4L141.0 1281.3L142.0 1280.7L143.0 1279.8L144.0 1280.0L145.0 1280.3L146.0 1278.5L147.0 1278.5L148.0 1279.1L149.0 1275.8L150.0 1276.4L151.0 1275.3L152.0 1273.9L153.0 1273.3L154.0 1273.5L155.0 1273.2L156.0 1271.6L157.0 1271.4L158.0 1271.3L159.0 1270.2L160.0 1270.0L161.0 1268.9L162.0 1268.2L163.0 1268.6L164.0 1266.8L165.0 1265.5L166.0 1265.3L167.0 1263.0L168.0 1262.7L169.0 1263.0L170.0 1262.0L171.0 1262.0L172.0 1259.7L173.0 1257.5L174.0 1259.9L175.0 1258.2L176.0 1255.2L177.0 1256.7L178.0 1254.5L179.0 1251.8L180.0 1252.2L181.0 1251.2L182.0 1252.4L183.0 1249.0L184.0 1248.6L185.0 1247.6L186.0 1246.5L187.0 1245.0L188.0 1245.1L189.0 1245.0L190.0 1243.5L191.0 1240.9L192.0 1239.6L193.0 1239.9L194.0 1237.9L195.0 1236.9L196.0 1234.7L197.0 1237.5L198.0 1235.3L199.0 1232.1L200.0 1233.0L201.0 1232.4L202.0 1227.1L203.0 1228.0L204.0 1227.0L205.0 1226.9L206.0 1224.9L207.0 1223.5L208.0 1222.5L209.0 1223.5L210.0 1222.6L211.0 1218.2L212.0 1216.5L213.0 1219.4L214.0 1213.8L215.0 1213.0L216.0 1212.4L217.0 1211.6L218.0 1210.9L219.0 1208.8L220.0 1205.9L221.0 1206.2L222.0 1204.4L223.0 1205.1L224.0 1201.3L225.0 1198.2L226.0 1197.1L227.0 1198.8L228.0 1194.8L229.0 1191.3L230.0 1191.7L231.0 1191.0L232.0 1191.0L233.0 1186.6L234.0 1187.3L235.0 1185.9L236.0 1182.4L237.0 1181.5L238.0 1182.6L239.0 1181.0L240.0 1178.2L241.0 1175.9L242.0 1175.5L243.0 1172.1L244.0 1170.5L245.0 1167.8L246.0 1167.5L247.0 1165.7L248.0 1168.2L249.0 1162.3L250.0 1162.8L251.0 1161.3L252.0 1157.4L253.0 1157.8L254.0 1151.2L255.0 1152.9L256.0 1152.4L257.0 1145.9L258.0 1146.1L259.0 1147.9L260.0 1144.2L261.0 1141.3L262.0 1140.7L263.0 1138.8L264.0 1139.2L265.0 1137.1L266.0 1134.4L267.0 1132.1L268.0 1131.5L269.0 1132.1L270.0 1128.9L271.0 1127.7L272.0 1124.8L273.0 1121.3L274.0 1120.7L275.0 1121.3L276.0 1118.8L277.0 1115.5L278.0 1112.7L279.0 1114.0L280.0 1111.6L281.0 1110.0L282.0 1108.5L283.0 1107.9L284.0 1106.4L285.0 1105.9L286.0 1104.3L287.0 1103.5L288.0 1101.0L289.0 1097.4L290.0 1096.3L291.0 1095.7L292.0 1092.7L293.0 1092.7L294.0 1092.2L295.0 1087.1L296.0 1083.8L297.0 1087.7L298.0 1084.0L299.0 1083.7L300.0 1078.4L301.0 1082.6L302.0 1079.3L303.0 1076.1L304.0 1074.2L305.0 1073.6L306.0 1071.5L307.0 1069.8L308.0 1066.7L309.0 1069.8L310.0 1065.8L311.0 1064.6L312.0 1063.2L313.0 1056.9L314.0 1061.1L315.0 1058.0L316.0 1056.6L317.0 1055.9L318.0 1052.4L319.0 1054.7L320.0 1050.2L321.0 1048.4L322.0 1047.0L323.0 1047.7L324.0 1047.6L325.0 1043.5L326.0 1040.2L327.0 1044.2L328.0 1038.5L329.0 1041.8L330.0 1037.9L331.0 1035.3L332.0 1034.1L333.0 1035.1L334.0 1034.8L335.0 1031.2L336.0 1032.4L337.0 1033.6L338.0 1027.5L339.0 1024.2L340.0 1023.2L341.0 1021.3L342.0 1021.7L343.0 1020.4L344.0 1017.9L345.0 1020.8L346.0 1012.8L347.0 1014.5L348.0 1020.6L349.0 1017.4L350.0 1015.2L351.0 1014.0L352.0 1015.8L353.0 1012.0L354.0 1010.0L355.0 1006.0L356.0 1007.6L357.0 1005.1L358.0 1004.2L359.0 1003.2L360.0 1003.8L361.0 1002.2L362.0 1004.0L363.0 998.1L364.0 999.8L365.0 1003.5L366.0 998.5L367.0 1000.3L368.0 999.3L369.0 998.9L370.0 996.8L371.0 991.1L372.0 992.9L373.0 991.9L374.0 988.4L375.0 990.2L376.0 987.7L377.0 986.0L378.0 989.7L379.0 988.4L380.0 986.3L381.0 985.0L382.0 985.3L383.0 985.1L384.0 984.5L385.0 984.7L386.0 983.3L387.0 984.7L388.0 984.5L389.0 983.6L390.0 980.7L391.0 980.4L392.0 982.4L393.0 980.5L394.0 980.5L395.0 974.3L396.0 973.4L397.0 980.3L398.0 980.0L399.0 982.2L400.0 980.3L401.0 978.8L402.0 978.1L403.0 974.4L404.0 979.7L405.0 975.9L406.0 978.4L407.0 977.5L408.0 977.5L409.0 978.8L410.0 975.4L411.0 975.5L412.0 974.3L413.0 975.3L414.0 980.2L415.0 975.2L416.0 978.9L417.0 978.0L418.0 977.7L419.0 977.9L420.0 973.5L421.0 976.8L422.0 979.7L423.0 974.3L424.0 975.9L425.0 974.3L426.0 976.8L427.0 973.5L428.0 980.0L429.0 975.3L430.0 972.5L431.0 980.6L432.0 978.7L433.0 977.7L434.0 977.8L435.0 975.8L436.0 976.2L437.0 978.6L438.0 979.1L439.0 979.2L440.0 977.6L441.0 976.1L442.0 976.9L443.0 980.1L444.0 981.0L445.0 976.8L446.0 976.6L447.0 980.9L448.0 979.7L449.0 979.8L450.0 975.1L451.0 977.5L452.0 977.3L453.0 979.1L454.0 974.7L455.0 981.9L456.0 979.8L457.0 980.2L458.0 976.5L459.0 979.4L460.0 982.9L461.0 976.1L462.0 980.7L463.0 981.8L464.0 978.7L465.0 982.5L466.0 980.0L467.0 983.9L468.0 982.4L469.0 981.9L470.0 986.3L471.0 983.7L472.0 985.1L473.0 979.4L474.0 980.9L475.0 984.7L476.0 985.1L477.0 983.1L478.0 985.3L479.0 981.2L480.0 984.5L481.0 981.6L482.0 985.4L483.0 983.7L484.0 983.7L485.0 985.6L486.0 990.1L487.0 983.8L488.0 985.1L489.0 989.3L490.0 986.2L491.0 991.7L492.0 988.4L493.0 988.5L494.0 989.5L495.0 993.1L496.0 991.0L497.0 991.1L498.0 990.9L499.0 987.1L500.0 989.1L501.0 995.1L502.0 994.0L503.0 993.7L504.0 994.5L505.0 992.3L506.0 994.8L507.0 992.5L508.0 996.0L509.0 993.9L510.0 995.6L511.0 997.7L512.0 996.5L513.0 999.3L514.0 999.4L515.0 999.8L516.0 1002.6L517.0 996.9L518.0 997.2L519.0 1002.9L520.0 1004.3L521.0 1007.4L522.0 1005.2L523.0 1006.1L524.0 1002.9L525.0 1007.3L526.0 1007.9L527.0 1004.7L528.0 1005.8L529.0 1008.3L530.0 1010.0L531.0 1003.6L532.0 1011.1L533.0 1012.2L534.0 1012.1L535.0 1013.9L536.0 1015.2L537.0 1012.8L538.0 1016.8L539.0 1016.2L540.0 1015.5L541.0 1019.0L542.0 1022.6L543.0 1017.1L544.0 1017.6L545.0 1018.6L546.0 1027.3L547.0 1023.5L548.0 1024.8L549.0 1024.2L550.0 1024.9L551.0 1023.6L552.0 1029.2L553.0 1030.4L554.0 1026.7L555.0 1029.7L556.0 1031.4L557.0 1033.9L558.0 1035.5L559.0 1038.4L560.0 1040.0L561.0 1040.4L562.0 1042.1L563.0 1037.9L564.0 1040.3L565.0 1044.9L566.0 1044.3L567.0 1044.8L568.0 1041.9L569.0 1043.3L570.0 1049.7L571.0 1050.1L572.0 1049.9L573.0 1050.9L574.0 1049.4L575.0 1054.8L576.0 1057.3L577.0 1059.7L578.0 1057.7L579.0 1058.5L580.0 1057.9L581.0 1063.7L582.0 1065.9L583.0 1062.6L584.0 1065.6L585.0 1066.5L586.0 1066.5L587.0 1064.0L588.0 1069.4L589.0 1072.6L590.0 1069.9L591.0 1072.4L592.0 1069.1L593.0 1079.0L594.0 1078.8L595.0 1079.3L596.0 1080.0L597.0 1080.7L598.0 1083.0L599.0 1083.9L600.0 1085.4L601.0 1087.1L602.0 1088.7L603.0 1092.6L604.0 1088.5L605.0 1093.0L606.0 1092.7L607.0 1093.1L608.0 1092.3L609.0 1098.9L610.0 1097.4L611.0 1099.2L612.0 1102.7L613.0 1101.3L614.0 1104.6L615.0 1105.7L616.0 1108.6L617.0 1110.3L618.0 1108.4L619.0 1112.8L620.0 1112.3L621.0 1114.0L622.0 1114.8L623.0 1117.8L624.0 1115.7L625.0 1119.5L626.0 1122.3L627.0 1121.2L628.0 1126.3L629.0 1123.0L630.0 1125.8L631.0 1125.9L632.0 1127.0L633.0 1127.4L634.0 1129.6L635.0 1131.6L636.0 1131.6L637.0 1135.5L638.0 1137.7L639.0 1134.1L640.0 1139.0L641.0 1139.2L642.0 1140.4L643.0 1145.1L644.0 1144.2L645.0 1144.0L646.0 1144.9L647.0 1142.4L648.0 1148.0L649.0 1146.8L650.0 1149.3L651.0 1150.2L652.0 1152.6L653.0 1155.2L654.0 1154.6L655.0 1156.1L656.0 1154.8L657.0 1156.8L658.0 1158.3L659.0 1156.0L660.0 1162.0L661.0 1158.9L662.0 1159.0L663.0 1164.1L664.0 1165.7L665.0 1162.5L666.0 1163.5L667.0 1169.7L668.0 1166.2L669.0 1164.1L670.0 1166.9L671.0 1171.4L672.0 1170.3L673.0 1171.2L674.0 1172.6L675.0 1172.6L676.0 1171.9L677.0 1170.9L678.0 1174.5L679.0 1173.0L680.0 1175.2L681.0 1178.4L682.0 1177.4L683.0 1177.4L684.0 1178.0L685.0 1179.6L686.0 1180.5L687.0 1178.1L688.0 1180.7L689.0 1183.4L690.0 1182.7L691.0 1181.2L692.0 1181.9L693.0 1180.6L694.0 1182.9L695.0 1186.6L696.0 1184.9L697.0 1184.4L698.0 1185.3L699.0 1186.4L700.0 1186.9L701.0 1187.1L702.0 1187.0L703.0 1189.3L704.0 1191.0L705.0 1188.7L706.0 1189.1L707.0 1191.8L708.0 1188.8L709.0 1190.3L710.0 1191.0L711.0 1192.1L712.0 1191.9L713.0 1191.5L714.0 1193.5L715.0 1191.9L716.0 1191.5L717.0 1191.5L718.0 1195.4L719.0 1192.6L720.0 1195.7L721.0 1196.3L722.0 1196.8L723.0 1195.8L724.0 1195.7L725.0 1196.8L726.0 1196.2L727.0 1195.6L728.0 1199.1L729.0 1196.6L730.0 1200.3L731.0 1198.9L732.0 1197.9L733.0 1199.3L734.0 1200.5L735.0 1197.4L736.0 1198.2L737.0 1198.3L738.0 1200.0L739.0 1200.5L740.0 1200.2L741.0 1199.5L742.0 1199.9L743.0 1202.2L744.0 1202.3L745.0 1201.2L746.0 1199.6L747.0 1202.2L748.0 1201.9L749.0 1202.0L750.0 1204.0L751.0 1203.0L752.0 1200.9L753.0 1201.0L754.0 1204.0L755.0 1202.7L756.0 1203.7L757.0 1202.5L758.0 1201.6L759.0 1203.3L760.0 1205.0L761.0 1203.5L762.0 1201.8L763.0 1202.9L764.0 1202.8L765.0 1203.7L766.0 1204.8L767.0 1206.1L768.0 1204.0L769.0 1203.2L770.0 1203.9L771.0 1203.9L772.0 1203.4L773.0 1204.0L774.0 1204.0L775.0 1202.6L776.0 1204.8L777.0 1203.7L778.0 1203.0L779.0 1204.8L780.0 1203.6L781.0 1206.4L782.0 1204.9L783.0 1204.4L784.0 1203.4L785.0 1203.8L786.0 1205.4L787.0 1203.5L788.0 1205.3L789.0 1201.8L790.0 1204.7L791.0 1205.4L792.0 1204.8L793.0 1204.4L794.0 1205.7L795.0 1203.4L796.0 1203.2L797.0 1204.6L798.0 1205.9L799.0 1204.9L800.0 1204.2L801.0 1204.8L802.0 1204.9L803.0 1202.8L804.0 1200.9L805.0 1203.1L806.0 1202.5L807.0 1203.6L808.0 1202.8L809.0 1203.2L810.0 1204.8L811.0 1204.4L812.0 1204.2L813.0 1206.3L814.0 1203.7L815.0 1203.8L816.0 1205.8L817.0 1202.8L818.0 1202.2L819.0 1205.8L820.0 1204.6L821.0 1204.9L822.0 1204.9L823.0 1205.3L824.0 1203.5L825.0 1204.0L826.0 1202.7L827.0 1204.3L828.0 1204.4L829.0 1203.5L830.0 1204.9L831.0 1207.7L832.0 1202.6L833.0 1205.1L834.0 1205.2L835.0 1205.4L836.0 1203.0L837.0 1205.5L838.0 1204.9L839.0 1203.9L840.0 1203.6L841.0 1204.4L842.0 1205.2L843.0 1205.2L844.0 1206.9L845.0 1203.7L846.0 1204.9L847.0 1203.6L848.0 1205.1L849.0 1204.3L850.0 1203.4L851.0 1202.6L852.0 1203.3L853.0 1204.6L854.0 1206.1L855.0 1205.3L856.0 1202.9L857.0 1203.8L858.0 1204.5L859.0 1204.3L860.0 1204.5L861.0 1205.5L862.0 1204.8L863.0 1203.7L864.0 1202.2L865.0 1204.2L866.0 1202.6L867.0 1204.6L868.0 1205.2L869.0 1203.2L870.0 1204.8L871.0 1204.6L872.0 1207.4L873.0 1205.7L874.0 1202.9L875.0 1205.9L876.0 1205.9L877.0 1205.2L878.0 1205.1L879.0 1206.4L880.0 1206.6L881.0 1206.4L882.0 1204.8L883.0 1205.8L884.0 1204.3L885.0 1204.5L886.0 1205.8L887.0 1205.3L888.0 1206.2L889.0 1209.9L890.0 1207.6L891.0 1206.0L892.0 1204.6L893.0 1206.3L894.0 1205.7L895.0 1205.0L896.0 1208.7L897.0 1207.3L898.0 1208.6L899.0 1212.0L900.0 1208.7L901.0 1208.7L902.0 1209.1L903.0 1208.6L904.0 1208.0L905.0 1209.0L906.0 1210.8L907.0 1209.2L908.0 1208.1L909.0 1208.4L910.0 1208.9L911.0 1210.3L912.0 1211.0L913.0 1211.2L914.0 1212.3L915.0 1210.8L916.0 1212.2L917.0 1211.8L918.0 1212.5L919.0 1209.6L920.0 1213.5L921.0 1210.4L922.0 1211.1L923.0 1213.6L924.0 1212.4L925.0 1215.2L926.0 1213.5L927.0 1212.3L928.0 1213.9L929.0 1213.4L930.0 1216.0L931.0 1216.3L932.0 1215.4L933.0 1214.3L934.0 1215.1L935.0 1216.4L936.0 1214.5L937.0 1214.7L938.0 1216.8L939.0 1216.9L940.0 1216.0L941.0 1216.2L942.0 1214.4L943.0 1218.3L944.0 1217.0L945.0 1215.7L946.0 1216.3L947.0 1216.8L948.0 1220.0L949.0 1219.1L950.0 1216.9L951.0 1220.9L952.0 1220.5L953.0 1217.9L954.0 1216.3L955.0 1220.7L956.0 1219.1L957.0 1219.9L958.0 1219.7L959.0 1221.9L960.0 1222.4L961.0 1221.9L962.0 1221.0L963.0 1221.7L964.0 1222.3L965.0 1220.0L966.0 1223.5L967.0 1221.9L968.0 1222.8L969.0 1222.9L970.0 1224.0L971.0 1224.4L972.0 1225.9L973.0 1223.2L974.0 1222.8L975.0 1224.2L976.0 1223.6L977.0 1225.5L978.0 1223.8L979.0 1225.1L980.0 1226.2L981.0 1226.5L982.0 1225.8L983.0 1227.4L984.0 1227.5L985.0 1224.4L986.0 1226.9L987.0 1226.9L988.0 1226.6L989.0 1226.4L990.0 1227.4L991.0 1228.0L992.0 1228.0L993.0 1229.5L994.0 1229.3L995.0 1227.7L996.0 1227.7L997.0 1229.7L998.0 1228.2L999.0 1229.3L1000.0 1229.9L1001.0 1230.7L1002.0 1230.3L1003.0 1231.5L1004.0 1229.6L1005.0 1231.1L1006.0 1229.8L1007.0 1230.9L1008.0 1231.0L1009.0 1230.1L1010.0 1228.4L1011.0 1232.5L1012.0 1232.0L1013.0 1232.0L1014.0 1231.2L1015.0 1231.8L1016.0 1232.9L1017.0 1232.6L1018.0 1234.0L1019.0 1233.0L1020.0 1232.2L1021.0 1233.9L1022.0 1232.8L1023.0 1233.8L1024.0 1231.8L1025.0 1233.6L1026.0 1234.7L1027.0 1233.6L1028.0 1234.4L1029.0 1235.3L1030.0 1234.9L1031.0 1236.9L1032.0 1234.9L1033.0 1235.1L1034.0 1235.3L1035.0 1233.5L1036.0 1234.1L1037.0 1236.5L1038.0 1235.8L1039.0 1237.8L1040.0 1236.4L1041.0 1236.4L1042.0 1237.9L1043.0 1237.2L1044.0 1238.8L1045.0 1236.1L1046.0 1237.9L1047.0 1238.3L1048.0 1238.3L1049.0 1239.1L1050.0 1239.1L1051.0 1238.2L1052.0 1237.7L1053.0 1239.5L1054.0 1238.7L1055.0 1239.8L1056.0 1240.4L1057.0 1239.3L1058.0 1238.3L1059.0 1239.1L1060.0 1240.4L1061.0 1239.4L1062.0 1241.1L1063.0 1240.0L1064.0 1240.3L1065.0 1239.6L1066.0 1240.3L1067.0 1241.7L1068.0 1240.3L1069.0 1240.5L1070.0 1240.1L1071.0 1241.9L1072.0 1239.6L1073.0 1240.7L1074.0 1242.4L1075.0 1243.1L1076.0 1241.5L1077.0 1242.9L1078.0 1239.9L1079.0 1242.9L1080.0 1242.6L1081.0 1241.1L1082.0 1240.7L1083.0 1242.1L1084.0 1243.1L1085.0 1243.3L1086.0 1243.2L1087.0 1244.0L1088.0 1244.0L1089.0 1242.0L1090.0 1243.2L1091.0 1243.2L1092.0 1244.9L1093.0 1243.4L1094.0 1245.1L1095.0 1244.3L1096.0 1246.7L1097.0 1244.4L1098.0 1244.6L1099.0 1244.6L1100.0 1244.9L1101.0 1247.4L1102.0 1244.5L1103.0 1244.3L1104.0 1245.1L1105.0 1246.1L1106.0 1244.5L1107.0 1246.4L1108.0 1246.5L1109.0 1245.7L1110.0 1245.7L1111.0 1245.3L1112.0 1245.9L1113.0 1245.5L1114.0 1247.7L1115.0 1248.2L1116.0 1246.4L1117.0 1246.7L1118.0 1245.0L1119.0 1246.5L1120.0 1247.5L1121.0 1247.5L1122.0 1247.5L1123.0 1248.3L1124.0 1247.7L1125.0 1247.3L1126.0 1249.4L1127.0 1245.9L1128.0 1246.8L1129.0 1247.4L1130.0 1247.5L1131.0 1247.5L1132.0 1248.2L1133.0 1247.8L1134.0 1248.6L1135.0 1249.3L1136.0 1248.9L1137.0 1249.1L1138.0 1248.1L1139.0 1248.0L1140.0 1249.0L1141.0 1250.3L1142.0 1249.8L1143.0 1250.7L1144.0 1250.7L1145.0 1250.9L1146.0 1249.1L1147.0 1251.2L1148.0 1250.8L1149.0 1252.3L1150.0 1250.9L1151.0 1250.7L1152.0 1250.4L1153.0 1250.8L1154.0 1249.1L1155.0 1250.6L1156.0 1250.9L1157.0 1252.0L1158.0 1250.4L1159.0 1251.3L1160.0 1253.1L1161.0 1250.9L1162.0 1252.3L1163.0 1251.1L1164.0 1251.6L1165.0 1252.2L1166.0 1252.8L1167.0 1251.5L1168.0 1251.1L1169.0 1253.7L1170.0 1252.5L1171.0 1253.1L1172.0 1253.4L1173.0 1253.3L1174.0 1252.4L1175.0 1252.6L1176.0 1251.3L1177.0 1253.1L1178.0 1252.6L1179.0 1253.1L1180.0 1255.0L1181.0 1254.0L1182.0 1253.5L1183.0 1252.2L1184.0 1254.3L1185.0 1255.2L1186.0 1253.0L1187.0 1254.3L1188.0 1253.5L1189.0 1253.9L1190.0 1253.8L1191.0 1252.7L1192.0 1253.8L1193.0 1252.9L1194.0 1255.9L1195.0 1255.6L1196.0 1254.7L1197.0 1255.1L1198.0 1254.9L1199.0 1255.2L1200.0 1255.3L1201.0 1254.9L1202.0 1255.1L1203.0 1254.0L1204.0 1254.5L1205.0 1254.9L1206.0 1255.8L1207.0 1255.3L1208.0 1257.6L1209.0 1255.7L1210.0 1255.6L1211.0 1256.5L1212.0 1257.1L1213.0 1258.0L1214.0 1257.2L1215.0 1255.8L1216.0 1256.3L1217.0 1257.6L1218.0 1256.9L1219.0 1257.5L1220.0 1256.8L1221.0 1258.5L1222.0 1258.4L1223.0 1258.2L1224.0 1257.4L1225.0 1255.8L1226.0 1256.1L1227.0 1257.8L1228.0 1258.2L1229.0 1254.9L1230.0 1257.3L1231.0 1258.9L1232.0 1258.8L1233.0 1257.5L1234.0 1258.7L1235.0 1258.2L1236.0 1258.1L1237.0 1259.4L1238.0 1259.5L1239.0 1258.0L1240.0 1257.7L1241.0 1257.5L1242.0 1257.5L1243.0 1260.1L1244.0 1260.7L1245.0 1259.3L1246.0 1260.1L1247.0 1258.6L1248.0 1259.3L1249.0 1260.3L1250.0 1259.8L1251.0 1259.6L1252.0 1258.1L1253.0 1258.4L1254.0 1259.5L1255.0 1259.4L1256.0 1260.0L1257.0 1259.5L1258.0 1260.0L1259.0 1260.4L1260.0 1260.9L1261.0 1260.5L1262.0 1260.1L1263.0 1260.4L1264.0 1261.6L1265.0 1260.6L1266.0 1260.0L1267.0 1260.1L1268.0 1261.3L1269.0 1261.7L1270.0 1262.4L1271.0 1261.1L1272.0 1262.7L1273.0 1261.2L1274.0 1261.4L1275.0 1261.2L1276.0 1262.3L1277.0 1262.8L1278.0 1262.0L1279.0 1261.6L1280.0 1260.7L1281.0 1262.4L1282.0 1262.0L1283.0 1262.2L1284.0 1261.9L1285.0 1261.8L1286.0 1262.3L1287.0 1263.2L1288.0 1263.7L1289.0 1263.0L1290.0 1263.3L1291.0 1263.0L1292.0 1263.1L1293.0 1262.1L1294.0 1264.2L1295.0 1264.0L1296.0 1264.9L1297.0 1263.1L1298.0 1263.9L1299.0 1263.0L1300.0 1264.2L1301.0 1264.0L1302.0 1264.8L1303.0 1264.1L1304.0 1264.9L1305.0 1264.0L1306.0 1265.1L1307.0 1264.4L1308.0 1264.3L1309.0 1264.9L1310.0 1265.2L1311.0 1263.7L1312.0 1263.7L1313.0 1265.4L1314.0 1265.2L1315.0 1263.6L1316.0 1264.0L1317.0 1264.9L1318.0 1266.0L1319.0 1266.0L1320.0 1266.8L1321.0 1267.0L1322.0 1268.2L1323.0 1264.9L1324.0 1266.2L1325.0 1267.3L1326.0 1265.4L1327.0 1265.3L1328.0 1266.8L1329.0 1267.7L1330.0 1268.0L1331.0 1265.4L1332.0 1266.0L1333.0 1267.1L1334.0 1266.8L1335.0 1267.7L1336.0 1267.6L1337.0 1269.1L1338.0 1267.6L1339.0 1268.0L1340.0 1268.0L1341.0 1269.0L1342.0 1267.1L1343.0 1268.6L1344.0 1267.6L1345.0 1267.2L1346.0 1269.6L1347.0 1269.1L1348.0 1270.0L1349.0 1269.1L1350.0 1269.5L1351.0 1269.2L1352.0 1269.7L1353.0 1268.9L1354.0 1270.9L1355.0 1268.7L1356.0 1271.1L1357.0 1269.5L1358.0 1270.6L1359.0 1270.1L1360.0 1270.4L1361.0 1271.5L1362.0 1270.4L1363.0 1269.6L1364.0 1270.7L1365.0 1271.2L1366.0 1268.6L1367.0 1271.7L1368.0 1271.9L1369.0 1269.5L1370.0 1271.0L1371.0 1272.0L1372.0 1270.4L1373.0 1271.1L1374.0 1271.3L1375.0 1272.2L1376.0 1272.8L1377.0 1271.9L1378.0 1272.1L1379.0 1273.0L1380.0 1272.8L1381.0 1272.3L1382.0 1273.7L1383.0 1271.4L1384.0 1272.9L1385.0 1272.5L1386.0 1272.6L1387.0 1273.3L1388.0 1273.3L1389.0 1275.5L1390.0 1274.0L1391.0 1273.9L1392.0 1275.1L1393.0 1274.7L1394.0 1272.3L1395.0 1274.2L1396.0 1274.8L1397.0 1273.8L1398.0 1274.7L1399.0 1274.1L1400.0 1275.0L1401.0 1273.4L1402.0 1273.2L1403.0 1274.5L1404.0 1275.3L1405.0 1276.4L1406.0 1275.1L1407.0 1274.8L1408.0 1276.4L1409.0 1275.7L1410.0 1277.4L1411.0 1275.9L1412.0 1274.4L1413.0 1275.5L1414.0 1275.5L1415.0 1275.2L1416.0 1275.9L1417.0 1276.1L1418.0 1276.5L1419.0 1276.4L1420.0 1277.4L1421.0 1277.5L1422.0 1277.4L1423.0 1277.6L1424.0 1275.9L1425.0 1276.2L1426.0 1277.0L1427.0 1278.1L1428.0 1276.7L1429.0 1277.8L1430.0 1278.4L1431.0 1280.0L1432.0 1278.7L1433.0 1278.1L1434.0 1279.6L1435.0 1279.0L1436.0 1278.7L1437.0 1280.0L1438.0 1278.4L1439.0 1279.5L1440.0 1279.5L1441.0 1280.3L1442.0 1278.7L1443.0 1278.7L1444.0 1279.6L1445.0 1279.8L1446.0 1280.2L1447.0 1280.0L1448.0 1280.8L1449.0 1281.1L1450.0 1280.8L1451.0 1279.9L1452.0 1281.9L1453.0 1279.7L1454.0 1281.0L1455.0 1282.0L1456.0 1280.9L1457.0 1282.6L1458.0 1283.2L1459.0 1283.1L1460.0 1282.2L1461.0 1282.8L1462.0 1281.7L1463.0 1282.6L1464.0 1282.7L1465.0 1282.6L1466.0 1282.7L1467.0 1282.6L1468.0 1281.2L1469.0 1283.3L1470.0 1283.3L1471.0 1284.9L1472.0 1283.9L1473.0 1283.5L1474.0 1284.3L1475.0 1284.2L1476.0 1283.8L1477.0 1283.6L1478.0 1282.8L1479.0 1284.3L1480.0 1285.6L1481.0 1282.9L1482.0 1283.8L1483.0 1285.3L1484.0 1284.9L1485.0 1285.2L1486.0 1283.5L1487.0 1284.7L1488.0 1285.7L1489.0 1285.9L1490.0 1285.7L1491.0 1284.9L1492.0 1286.2L1493.0 1284.9L1494.0 1285.2L1495.0 1285.1L1496.0 1287.4L1497.0 1286.0L1498.0 1286.5L1499.0 1284.8L1500.0 1287.6L1501.0 1287.2L1502.0 1285.6L1503.0 1285.7L1504.0 1288.5L1505.0 1286.5L1506.0 1288.9L1507.0 1287.1L1508.0 1285.6L1509.0 1288.6L1510.0 1288.3L1511.0 1288.5L1512.0 1287.7L1513.0 1288.0L1514.0 1289.1L1515.0 1287.8L1516.0 1287.0L1517.0 1289.4L1518.0 1288.3L1519.0 1289.9L1520.0 1288.6L1521.0 1288.8L1522.0 1289.0L1523.0 1287.4L1524.0 1290.4L1525.0 1289.1L1526.0 1289.5L1527.0 1291.0L1528.0 1290.0L1529.0 1290.7L1530.0 1290.4L1531.0 1290.8L1532.0 1290.6L1533.0 1291.4L1534.0 1290.4L1535.0 1291.0L1536.0 1290.2L1537.0 1291.8L1538.0 1289.3L1539.0 1291.3L1540.0 1291.5L1541.0 1291.6L1542.0 1291.4L1543.0 1292.6L1544.0 1293.3L1545.0 1291.3L1546.0 1290.4L1547.0 1291.1L1548.0 1291.4L1549.0 1292.1L1550.0 1292.2L1551.0 1293.2L1552.0 1292.2L1553.0 1292.6L1554.0 1292.8L1555.0 1292.1L1556.0 1292.7L1557.0 1295.2L1558.0 1293.0L1559.0 1292.5L1560.0 1291.6L1561.0 1294.2L1562.0 1293.3L1563.0 1293.1L1564.0 1295.6L1565.0 1294.9L1566.0 1292.6L1567.0 1293.7L1568.0 1294.9L1569.0 1294.9L1570.0 1293.4L1571.0 1295.8L1572.0 1295.9L1573.0 1293.7L1574.0 1293.3L1575.0 1293.7L1576.0 1295.4L1577.0 1295.8L1578.0 1295.2L1579.0 1294.7L1580.0 1295.2L1581.0 1295.8L1582.0 1294.5L1583.0 1294.2L1584.0 1295.6L1585.0 1296.7L1586.0 1296.0L1587.0 1296.1L1588.0 1295.5L1589.0 1296.8L1590.0 1294.9L1591.0 1296.2L1592.0 1295.9L1593.0 1296.3L1594.0 1295.8L1595.0 1297.2L1596.0 1296.6L1597.0 1296.3L1598.0 1297.3L1599.0 1296.9L1600.0 1296.6L1601.0 1296.7L1602.0 1297.8L1603.0 1296.6L1604.0 1297.2L1605.0 1297.2L1606.0 1297.8L1607.0 1297.5L1608.0 1299.3L1609.0 1296.4L1610.0 1298.3L1611.0 1297.9L1612.0 1298.8L1613.0 1296.9L1614.0 1299.1L1615.0 1297.2L1616.0 1298.8L1617.0 1298.8L1618.0 1298.5L1619.0 1298.0L1620.0 1298.0L1621.0 1298.8L1622.0 1298.2L1623.0 1297.4L1624.0 1297.5L1625.0 1299.6L1626.0 1299.7L1627.0 1299.5L1628.0 1299.2L1629.0 1299.5L1630.0 1299.7L1631.0 1299.6L1632.0 1298.9L1633.0 1299.0L1634.0 1298.7L1635.0 1299.8L1636.0 1299.0L1637.0 1299.7L1638.0 1300.8L1639.0 1299.6L1640.0 1300.7L1641.0 1301.2L1642.0 1298.7L1643.0 1299.1L1644.0 1300.6L1645.0 1299.8L1646.0 1300.7L1647.0 1300.9L1648.0 1300.1L1649.0 1301.1L1650.0 1301.9L1651.0 1301.3L1652.0 1300.0L1653.0 1300.6L1654.0 1300.4L1655.0 1302.0L1656.0 1300.8L1657.0 1300.4L1658.0 1301.0L1659.0 1301.4L1660.0 1300.8L1661.0 1301.2L1662.0 1301.2L1663.0 1301.8L1664.0 1302.0L1665.0 1301.5L1666.0 1301.0L1667.0 1301.7L1668.0 1300.8L1669.0 1302.3L1670.0 1301.8L1671.0 1301.8L1672.0 1299.8L1673.0 1303.4L1674.0 1302.8L1675.0 1302.7L1676.0 1301.9L1677.0 1302.3L1678.0 1304.0L1679.0 1301.4L1680.0 1302.5L1681.0 1302.4L1682.0 1302.1L1683.0 1302.3L1684.0 1301.4L1685.0 1302.6L1686.0 1301.2L1687.0 1303.5L1688.0 1302.8L1689.0 1301.6L1690.0 1300.7L1691.0 1302.4L1692.0 1302.7L1693.0 1301.6L1694.0 1303.6L1695.0 1302.6L1696.0 1302.1L1697.0 1301.4L1698.0 1302.4L1699.0 1302.3L1700.0 1303.0L1701.0 1303.3L1702.0 1302.6L1703.0 1302.9L1704.0 1303.6L1705.0 1303.0L1706.0 1302.4L1707.0 1303.1L1708.0 1302.2L1709.0 1303.0L1710.0 1302.7L1711.0 1301.8L1712.0 1303.1L1713.0 1302.7L1714.0 1303.2L1715.0 1301.7L1716.0 1303.5L1717.0 1303.5L1718.0 1302.4L1719.0 1302.6L1720.0 1302.7L1721.0 1302.7L1722.0 1303.3L1723.0 1302.2L1724.0 1301.8L1725.0 1302.5L1726.0 1304.1L1727.0 1302.4L1728.0 1301.9L1729.0 1302.0L1730.0 1302.8L1731.0 1303.5L1732.0 1302.1L1733.0 1302.7L1734.0 1302.8" stroke="#008000"/>
<path d="M28.0 1414.6L29.0 1415.0L30.0 1412.0L31.0 1413.5L32.0 1414.1L33.0 1414.2L34.0 1413.6L35.0 1414.0L36.0 1413.1L37.0 1413.1L38.0 1412.7L39.0 1411.7L40.0 1411.7L41.0 1412.3L42.0 1411.5L43.0 1412.5L44.0 1412.3L45.0 1412.5L46.0 1411.1L47.0 1411.8L48.0 1410.1L49.0 1409.9L50.0 1410.3L51.0 1410.2L52.0 1408.8L53.0 1408.4L54.0 1409.6L55.0 1408.6L56.0 1409.7L57.0 1408.9L58.0 1408.6L59.0 1408.3L60.0 1408.5L61.0 1407.5L62.0 1408.1L63.0 1406.7L64.0 1406.7L65.0 1406.1L66.0 1406.7L67.0 1406.0L68.0 1405.1L69.0 1406.8L70.0 1404.9L71.0 1404.7L72.0 1404.8L73.0 1405.4L74.0 1403.8L75.0 1404.1L76.0 1403.3L77.0 1401.9L78.0 1403.2L79.0 1403.0L80.0 1401.8L81.0 1401.6L82.0 1400.2L83.0 1399.8L84.0 1400.3L85.0 1400.7L86.0 1399.5L87.0 1399.7L88.0 1399.8L89.0 1398.8L90.0 1398.8L91.0 1399.1L92.0 1396.7L93.0 1397.8L94.0 1395.5L95.0 1396.8L96.0 1396.2L97.0 1395.3L98.0 1394.5L99.0 1394.8L100.0 1394.2L101.0 1394.1L102.0 1393.0L103.0 1393.7L104.0 1392.0L105.0 1392.2L106.0 1391.7L107.0 1392.5L108.0 1389.9L109.0 1390.3L110.0 1391.2L111.0 1389.3L112.0 1388.4L113.0 1389.1L114.0 1388.2L115.0 1388.7L116.0 1386.8L117.0 1387.2L118.0 1387.1L119.0 1387.0L120.0 1384.8L121.0 1386.3L122.0 1384.0L123.0 1383.0L124.0 1383.0L125.0 1383.4L126.0 1382.5L127.0 1382.6L128.0 1382.1L129.0 1381.5L130.0 1380.5L131.0 1381.7L132.0 1377.8L133.0 1377.6L134.0 1378.1L135.0 1376.9L136.0 1375.3L137.0 1376.2L138.0 1375.7L139.0 1373.6L140.0 1375.9L141.0 1375.7L142.0 1375.1L143.0 1372.9L144.0 1372.9L145.0 1371.2L146.0 1371.7L147.0 1370.3L148.0 1370.7L149.0 1369.3L150.0 1369.9L151.0 1369.1L152.0 1368.8L153.0 1365.5L154.0 1364.7L155.0 1366.0L156.0 1364.4L157.0 1364.6L158.0 1363.8L159.0 1362.9L160.0 1362.9L161.0 1361.8L162.0 1361.0L163.0 1358.9L164.0 1360.6L165.0 1358.3L166.0 1358.5L167.0 1356.9L168.0 1357.0L169.0 1355.1L170.0 1354.4L171.0 1353.4L172.0 1351.8L173.0 1351.0L174.0 1350.6L175.0 1349.7L176.0 1348.0L177.0 1350.4L178.0 1346.1L179.0 1345.9L180.0 1347.8L181.0 1343.6L182.0 1344.1L183.0 1343.0L184.0 1341.1L185.0 1338.9L186.0 1337.7L187.0 1338.3L188.0 1337.7L189.0 1333.9L190.0 1335.3L191.0 1333.4L192.0 1334.0L193.0 1332.1L194.0 1329.9L195.0 1329.2L196.0 1328.6L197.0 1328.9L198.0 1329.6L199.0 1325.4L200.0 1324.0L201.0 1323.4L202.0 1321.4L203.0 1321.0L204.0 1319.4L205.0 1317.7L206.0 1315.5L207.0 1315.4L208.0 1315.0L209.0 1312.7L210.0 1313.1L211.0 1311.1L212.0 1308.4L213.0 1309.4L214.0 1304.5L215.0 1306.0L216.0 1305.5L217.0 1301.5L218.0 1300.3L219.0 1300.2L220.0 1299.5L221.0 1296.8L222.0 1295.1L223.0 1294.6L224.0 1292.3L225.0 1289.0L226.0 1288.9L227.0 1287.7L228.0 1284.3L229.0 1285.4L230.0 1282.5L231.0 1283.1L232.0 1278.6L233.0 1277.9L234.0 1275.7L235.0 1278.2L236.0 1276.7L237.0 1275.6L238.0 1274.2L239.0 1272.0L240.0 1270.5L241.0 1265.4L242.0 1266.9L243.0 1264.3L244.0 1263.1L245.0 1260.3L246.0 1262.7L247.0 1259.6L248.0 1255.7L249.0 1257.2L250.0 1254.9L251.0 1252.0L252.0 1251.7L253.0 1249.5L254.0 1245.7L255.0 1245.5L256.0 1247.2L257.0 1245.5L258.0 1243.9L259.0 1240.2L260.0 1239.7L261.0 1239.3L262.0 1238.8L263.0 1234.9L264.0 1233.1L265.0 1235.3L266.0 1232.1L267.0 1229.9L268.0 1227.9L269.0 1226.6L270.0 1228.9L271.0 1226.4L272.0 1222.6L273.0 1219.7L274.0 1223.3L275.0 1221.7L276.0 1219.6L277.0 1217.5L278.0 1211.3L279.0 1210.9L280.0 1212.7L281.0 1209.8L282.0 1209.3L283.0 1206.5L284.0 1204.8L285.0 1205.5L286.0 1202.4L287.0 1201.6L288.0 1200.7L289.0 1199.2L290.0 1199.5L291.0 1198.4L292.0 1192.0L293.0 1192.6L294.0 1190.4L295.0 1191.7L296.0 1186.8L297.0 1188.9L298.0 1187.3L299.0 1185.7L300.0 1181.3L301.0 1181.4L302.0 1178.3L303.0 1179.8L304.0 1179.5L305.0 1173.3L306.0 1173.3L307.0 1173.2L308.0 1171.1L309.0 1173.8L310.0 1169.2L311.0 1168.6L312.0 1164.5L313.0 1168.5L314.0 1164.4L315.0 1164.4L316.0 1161.7L317.0 1155.8L318.0 1155.6L319.0 1154.9L320.0 1157.2L321.0 1153.9L322.0 1154.6L323.0 1153.1L324.0 1151.7L325.0 1151.9L326.0 1149.1L327.0 1144.0L328.0 1144.8L329.0 1148.5L330.0 1141.5L331.0 1145.5L332.0 1145.0L333.0 1139.0L334.0 1139.8L335.0 1134.9L336.0 1138.4L337.0 1133.9L338.0 1131.6L339.0 1132.5L340.0 1131.3L341.0 1129.9L342.0 1130.5L343.0 1128.7L344.0 1126.5L345.0 1129.0L346.0 1131.3L347.0 1125.0L348.0 1122.3L349.0 1120.7L350.0 1123.3L351.0 1120.4L352.0 1120.1L353.0 1114.6L354.0 1115.7L355.0 1114.7L356.0 1118.6L357.0 1115.0L358.0 1109.1L359.0 1115.1L360.0 1115.8L361.0 1115.4L362.0 1105.2L363.0 1111.2L364.0 1112.0L365.0 1110.8L366.0 1108.2L367.0 1103.9L368.0 1106.4L369.0 1106.1L370.0 1107.6L371.0 1107.1L372.0 1104.5L373.0 1106.5L374.0 1101.5L375.0 1101.9L376.0 1102.9L377.0 1103.9L378.0 1101.3L379.0 1104.5L380.0 1102.2L381.0 1098.5L382.0 1100.6L383.0 1097.9L384.0 1097.4L385.0 1095.9L386.0 1102.3L387.0 1100.8L388.0 1094.5L389.0 1100.7L390.0 1100.1L391.0 1096.6L392.0 1098.5L393.0 1102.3L394.0 1097.4L395.0 1097.6L396.0 1099.0L397.0 1093.7L398.0 1092.9L399.0 1092.4L400.0 1095.4L401.0 1097.5L402.0 1093.2L403.0 1091.9L404.0 1095.5L405.0 1094.0L406.0 1096.3L407.0 1094.4L408.0 1094.2L409.0 1094.3L410.0 1094.5L411.0 1092.1L412.0 1091.6L413.0 1098.1L414.0 1101.6L415.0 1096.8L416.0 1090.2L417.0 1094.1L418.0 1096.9L419.0 1090.1L420.0 1092.9L421.0 1093.0L422.0 1091.8L423.0 1092.0L424.0 1096.5L425.0 1093.0L426.0 1093.6L427.0 1098.3L428.0 1092.2L429.0 1089.7L430.0 1095.9L431.0 1099.2L432.0 1095.0L433.0 1095.3L434.0 1091.5L435.0 1092.5L436.0 1098.3L437.0 1097.9L438.0 1096.4L439.0 1093.6L440.0 1092.4L441.0 1092.9L442.0 1092.7L443.0 1097.1L444.0 1093.9L445.0 1094.8L446.0 1097.8L447.0 1097.9L448.0 1096.5L449.0 1097.7L450.0 1096.8L451.0 1092.3L452.0 1097.0L453.0 1096.3L454.0 1096.7L455.0 1098.4L456.0 1096.7L457.0 1101.1L458.0 1098.1L459.0 1099.1L460.0 1099.7L461.0 1098.8L462.0 1101.0L463.0 1101.5L464.0 1101.5L465.0 1098.6L466.0 1098.4L467.0 1099.4L468.0 1101.1L469.0 1097.0L470.0 1099.7L471.0 1099.3L472.0 1100.7L473.0 1100.4L474.0 1104.8L475.0 1104.3L476.0 1105.8L477.0 1101.6L478.0 1102.4L479.0 1103.9L480.0 1108.8L481.0 1109.2L482.0 1104.2L483.0 1107.5L484.0 1111.4L485.0 1104.4L486.0 1106.7L487.0 1110.6L488.0 1109.6L489.0 1106.0L490.0 1112.3L491.0 1111.4L492.0 1111.2L493.0 1107.1L494.0 1110.0L495.0 1113.8L496.0 1112.3L497.0 1113.5L498.0 1111.5L499.0 1116.0L500.0 1112.4L501.0 1115.5L502.0 1114.6L503.0 1112.1L504.0 1118.2L505.0 1112.4L506.0 1114.1L507.0 1116.6L508.0 1113.6L509.0 1113.2L510.0 1117.5L511.0 1117.3L512.0 1118.2L513.0 1120.5L514.0 1125.0L515.0 1119.6L516.0 1126.6L517.0 1122.2L518.0 1122.0L519.0 1116.7L520.0 1120.0L521.0 1124.6L522.0 1125.9L523.0 1123.4L524.0 1126.6L525.0 1128.6L526.0 1126.0L527.0 1124.3L528.0 1126.4L529.0 1128.7L530.0 1130.7L531.0 1132.5L532.0 1129.5L533.0 1132.3L534.0 1132.5L535.0 1133.9L536.0 1137.0L537.0 1138.2L538.0 1135.2L539.0 1135.8L540.0 1136.4L541.0 1137.6L542.0 1138.8L543.0 1140.2L544.0 1140.4L545.0 1140.1L546.0 1140.8L547.0 1144.4L548.0 1150.4L549.0 1147.4L550.0 1148.6L551.0 1148.9L552.0 1148.9L553.0 1154.4L554.0 1150.6L555.0 1150.3L556.0 1150.8L557.0 1154.9L558.0 1153.5L559.0 1154.9L560.0 1156.0L561.0 1156.2L562.0 1160.3L563.0 1157.7L564.0 1166.9L565.0 1157.9L566.0 1161.8L567.0 1165.9L568.0 1167.8L569.0 1167.4L570.0 1169.9L571.0 1170.9L572.0 1172.0L573.0 1174.1L574.0 1174.6L575.0 1175.2L576.0 1176.4L577.0 1179.6L578.0 1178.7L579.0 1181.4L580.0 1184.6L581.0 1183.6L582.0 1186.4L583.0 1184.5L584.0 1187.1L585.0 1188.8L586.0 1189.6L587.0 1191.3L588.0 1194.3L589.0 1192.3L590.0 1192.9L591.0 1196.1L592.0 1194.0L593.0 1198.0L594.0 1201.4L595.0 1200.5L596.0 1202.8L597.0 1203.8L598.0 1206.5L599.0 1206.5L600.0 1207.2L601.0 1202.2L602.0 1208.5L603.0 1211.9L604.0 1211.7L605.0 1211.9L606.0 1216.0L607.0 1214.1L608.0 1216.3L609.0 1219.3L610.0 1218.5L611.0 1220.9L612.0 1221.8L613.0 1221.1L614.0 1223.4L615.0 1224.9L616.0 1225.7L617.0 1229.8L618.0 1229.1L619.0 1229.3L620.0 1229.3L621.0 1232.2L622.0 1236.1L623.0 1234.6L624.0 1237.5L625.0 1238.2L626.0 1237.8L627.0 1238.3L628.0 1241.8L629.0 1239.4L630.0 1244.1L631.0 1242.5L632.0 1246.8L633.0 1245.9L634.0 1247.5L635.0 1250.4L636.0 1248.3L637.0 1251.0L638.0 1251.5L639.0 1253.8L640.0 1255.2L641.0 1255.5L642.0 1256.4L643.0 1256.5L644.0 1259.0L645.0 1258.7L646.0 1260.3L647.0 1261.3L648.0 1260.0L649.0 1261.3L650.0 1264.2L651.0 1264.8L652.0 1267.5L653.0 1263.1L654.0 1267.8L655.0 1269.9L656.0 1269.4L657.0 1271.2L658.0 1271.0L659.0 1271.7L660.0 1273.9L661.0 1271.6L662.0 1271.1L663.0 1275.7L664.0 1276.0L665.0 1276.8L666.0 1277.8L667.0 1279.0L668.0 1278.3L669.0 1280.3L670.0 1280.8L671.0 1279.5L672.0 1281.6L673.0 1282.9L674.0 1282.1L675.0 1285.3L676.0 1284.1L677.0 1286.3L678.0 1287.8L679.0 1284.5L680.0 1285.4L681.0 1288.6L682.0 1288.2L683.0 1289.7L684.0 1291.9L685.0 1289.6L686.0 1292.0L687.0 1291.1L688.0 1291.1L689.0 1293.1L690.0 1293.4L691.0 1295.0L692.0 1294.6L693.0 1295.8L694.0 1295.9L695.0 1293.5L696.0 1295.8L697.0 1296.3L698.0 1298.4L699.0 1296.4L700.0 1298.4L701.0 1298.1L702.0 1296.8L703.0 1299.4L704.0 1300.8L705.0 1300.0L706.0 1302.0L707.0 1301.8L708.0 1302.1L709.0 1301.4L710.0 1302.3L711.0 1303.5L712.0 1303.3L713.0 1302.1L714.0 1303.8L715.0 1304.9L716.0 1306.1L717.0 1306.1L718.0 1304.2L719.0 1306.6L720.0 1304.1L721.0 1305.6L722.0 1305.7L723.0 1308.9L724.0 1308.2L725.0 1308.0L726.0 1307.2L727.0 1309.8L728.0 1308.2L729.0 1309.4L730.0 1310.4L731.0 1309.0L732.0 1310.2L733.0 1307.4L734.0 1310.8L735.0 1308.3L736.0 1311.1L737.0 1311.1L738.0 1311.6L739.0 1314.0L740.0 1308.4L741.0 1312.2L742.0 1311.4L743.0 1313.0L744.0 1312.6L745.0 1312.6L746.0 1312.0L747.0 1312.0L748.0 1313.4L749.0 1311.3L750.0 1314.6L751.0 1312.8L752.0 1314.2L753.0 1312.4L754.0 1314.5L755.0 1313.8L756.0 1315.1L757.0 1315.8L758.0 1313.8L759.0 1314.7L760.0 1315.0L761.0 1316.6L762.0 1313.4L763.0 1315.8L764.0 1315.1L765.0 1313.8L766.0 1315.0L767.0 1314.6L768.0 1316.8L769.0 1314.5L770.0 1316.9L771.0 1315.2L772.0 1316.7L773.0 1313.9L774.0 1315.1L775.0 1316.3L776.0 1315.0L777.0 1314.4L778.0 1316.3L779.0 1317.2L780.0 1316.4L781.0 1316.2L782.0 1316.9L783.0 1316.0L784.0 1317.6L785.0 1317.9L786.0 1315.1L787.0 1317.9L788.0 1317.5L789.0 1317.0L790.0 1317.5L791.0 1318.4L792.0 1319.1L793.0 1318.7L794.0 1316.5L795.0 1318.4L796.0 1314.9L797.0 1317.9L798.0 1317.7L799.0 1318.1L800.0 1315.9L801.0 1318.6L802.0 1318.4L803.0 1317.2L804.0 1315.3L805.0 1317.3L806.0 1315.9L807.0 1315.1L808.0 1316.1L809.0 1319.7L810.0 1315.2L811.0 1316.5L812.0 1317.1L813.0 1318.0L814.0 1315.7L815.0 1315.7L816.0 1317.9L817.0 1317.1L818.0 1318.3L819.0 1315.4L820.0 1316.6L821.0 1317.9L822.0 1316.9L823.0 1315.4L824.0 1316.9L825.0 1314.5L826.0 1315.8L827.0 1317.6L828.0 1317.7L829.0 1317.1L830.0 1317.5L831.0 1314.9L832.0 1315.9L833.0 1317.8L834.0 1319.3L835.0 1317.1L836.0 1315.5L837.0 1315.5L838.0 1318.0L839.0 1317.9L840.0 1315.1L841.0 1316.7L842.0 1318.2L843.0 1318.2L844.0 1316.0L845.0 1316.4L846.0 1317.1L847.0 1315.3L848.0 1314.7L849.0 1315.8L850.0 1318.0L851.0 1317.9L852.0 1317.2L853.0 1315.3L854.0 1314.3L855.0 1315.4L856.0 1316.7L857.0 1317.9L858.0 1315.7L859.0 1316.8L860.0 1314.6L861.0 1314.3L862.0 1316.8L863.0 1315.4L864.0 1315.6L865.0 1314.2L866.0 1317.9L867.0 1314.8L868.0 1317.0L869.0 1315.3L870.0 1316.6L871.0 1318.7L872.0 1317.5L873.0 1317.4L874.0 1318.4L875.0 1318.0L876.0 1319.1L877.0 1315.9L878.0 1319.3L879.0 1317.8L880.0 1316.6L881.0 1318.6L882.0 1318.7L883.0 1318.1L884.0 1319.3L885.0 1316.8L886.0 1316.5L887.0 1317.9L888.0 1320.0L889.0 1319.5L890.0 1319.0L891.0 1318.4L892.0 1319.3L893.0 1320.8L894.0 1318.9L895.0 1319.0L896.0 1320.4L897.0 1320.8L898.0 1320.4L899.0 1322.0L900.0 1320.8L901.0 1319.6L902.0 1318.3L903.0 1322.4L904.0 1321.1L905.0 1321.8L906.0 1322.1L907.0 1323.4L908.0 1323.2L909.0 1323.3L910.0 1322.7L911.0 1322.3L912.0 1323.1L913.0 1322.1L914.0 1323.6L915.0 1324.6L916.0 1324.4L917.0 1324.0L918.0 1323.0L919.0 1323.2L920.0 1323.6L921.0 1324.2L922.0 1325.3L923.0 1325.6L924.0 1325.9L925.0 1326.6L926.0 1324.6L927.0 1325.6L928.0 1326.7L929.0 1327.2L930.0 1325.8L931.0 1325.9L932.0 1328.2L933.0 1327.9L934.0 1327.9L935.0 1327.3L936.0 1326.7L937.0 1328.0L938.0 1328.6L939.0 1329.0L940.0 1329.6L941.0 1329.0L942.0 1330.4L943.0 1328.9L944.0 1329.9L945.0 1329.8L946.0 1327.9L947.0 1328.7L948.0 1329.7L949.0 1330.7L950.0 1331.1L951.0 1332.3L952.0 1331.1L953.0 1331.0L954.0 1331.9L955.0 1330.4L956.0 1331.7L957.0 1331.0L958.0 1332.4L959.0 1331.7L960.0 1332.3L961.0 1335.0L962.0 1334.3L963.0 1336.0L964.0 1333.7L965.0 1333.5L966.0 1333.0L967.0 1334.0L968.0 1332.4L969.0 1334.6L970.0 1334.1L971.0 1333.4L972.0 1333.1L973.0 1334.3L974.0 1335.0L975.0 1335.6L976.0 1334.1L977.0 1335.9L978.0 1336.5L979.0 1338.7L980.0 1336.9L981.0 1337.7L982.0 1336.2L983.0 1337.1L984.0 1336.5L985.0 1336.6L986.0 1338.2L987.0 1337.6L988.0 1339.6L989.0 1338.2L990.0 1338.9L991.0 1337.3L992.0 1337.7L993.0 1339.7L994.0 1338.4L995.0 1340.7L996.0 1338.6L997.0 1338.7L998.0 1341.9L999.0 1338.2L1000.0 1339.7L1001.0 1340.9L1002.0 1341.2L1003.0 1339.5L1004.0 1343.1L1005.0 1340.6L1006.0 1339.2L1007.0 1342.4L1008.0 1341.1L1009.0 1341.8L1010.0 1342.7L1011.0 1341.2L1012.0 1341.5L1013.0 1342.3L1014.0 1343.5L1015.0 1341.4L1016.0 1344.4L1017.0 1343.5L1018.0 1342.1L1019.0 1343.5L1020.0 1344.2L1021.0 1345.0L1022.0 1344.8L1023.0 1345.2L1024.0 1344.1L1025.0 1345.2L1026.0 1341.8L1027.0 1345.8L1028.0 1344.8L1029.0 1346.7L1030.0 1344.6L1031.0 1344.9L1032.0 1345.6L1033.0 1346.5L1034.0 1346.2L1035.0 1347.0L1036.0 1346.2L1037.0 1347.4L1038.0 1349.3L1039.0 1347.9L1040.0 1347.4L1041.0 1345.4L1042.0 1347.7L1043.0 1348.3L1044.0 1347.2L1045.0 1348.6L1046.0 1345.5L1047.0 1347.1L1048.0 1347.0L1049.0 1348.6L1050.0 1347.4L1051.0 1347.4L1052.0 1350.0L1053.0 1347.2L1054.0 1349.3L1055.0 1350.1L1056.0 1348.8L1057.0 1348.4L1058.0 1349.2L1059.0 1349.0L1060.0 1348.9L1061.0 1350.1L1062.0 1349.9L1063.0 1353.2L1064.0 1351.5L1065.0 1350.6L1066.0 1351.1L1067.0 1352.3L1068.0 1352.0L1069.0 1351.0L1070.0 1350.3L1071.0 1353.0L1072.0 1351.3L1073.0 1351.7L1074.0 1353.0L1075.0 1351.9L1076.0 1353.2L1077.0 1351.7L1078.0 1352.3L1079.0 1352.1L1080.0 1354.5L1081.0 1351.1L1082.0 1352.5L1083.0 1351.9L1084.0 1352.2L1085.0 1351.8L1086.0 1352.4L1087.0 1354.5L1088.0 1354.9L1089.0 1352.9L1090.0 1352.5L1091.0 1353.3L1092.0 1355.5L1093.0 1354.0L1094.0 1352.1L1095.0 1355.1L1096.0 1354.3L1097.0 1355.1L1098.0 1355.1L1099.0 1353.5L1100.0 1355.9L1101.0 1355.7L1102.0 1354.5L1103.0 1353.1L1104.0 1354.3L1105.0 1354.4L1106.0 1356.3L1107.0 1355.2L1108.0 1355.4L1109.0 1356.0L1110.0 1355.7L1111.0 1356.6L1112.0 1356.7L1113.0 1357.4L1114.0 1355.4L1115.0 1357.0L1116.0 1356.6L1117.0 1359.0L1118.0 1358.5L1119.0 1356.8L1120.0 1358.2L1121.0 1355.7L1122.0 1356.5L1123.0 1357.4L1124.0 1358.0L1125.0 1356.8L1126.0 1358.0L1127.0 1359.3L1128.0 1356.7L1129.0 1357.0L1130.0 1356.6L1131.0 1359.6L1132.0 1357.6L1133.0 1358.4L1134.0 1358.0L1135.0 1358.9L1136.0 1358.7L1137.0 1359.3L1138.0 1359.4L1139.0 1360.9L1140.0 1358.6L1141.0 1359.8L1142.0 1359.6L1143.0 1358.9L1144.0 1360.7L1145.0 1361.7L1146.0 1359.1L1147.0 1362.5L1148.0 1360.2L1149.0 1360.3L1150.0 1358.1L1151.0 1360.7L1152.0 1360.6L1153.0 1360.6L1154.0 1361.6L1155.0 1360.9L1156.0 1361.5L1157.0 1360.6L1158.0 1360.3L1159.0 1361.6L1160.0 1362.1L1161.0 1362.3L1162.0 1361.9L1163.0 1361.2L1164.0 1362.0L1165.0 1361.8L1166.0 1361.0L1167.0 1362.6L1168.0 1362.2L1169.0 1361.4L1170.0 1362.3L1171.0 1363.2L1172.0 1364.1L1173.0 1361.2L1174.0 1362.6L1175.0 1363.6L1176.0 1364.2L1177.0 1363.6L1178.0 1362.4L1179.0 1363.0L1180.0 1363.5L1181.0 1362.9L1182.0 1362.7L1183.0 1362.6L1184.0 1366.3L1185.0 1364.0L1186.0 1363.9L1187.0 1364.8L1188.0 1364.3L1189.0 1364.3L1190.0 1364.7L1191.0 1363.9L1192.0 1364.3L1193.0 1365.6L1194.0 1365.4L1195.0 1364.0L1196.0 1366.4L1197.0 1364.8L1198.0 1363.8L1199.0 1366.0L1200.0 1366.0L1201.0 1365.8L1202.0 1364.7L1203.0 1366.8L1204.0 1366.3L1205.0 1366.2L1206.0 1366.2L1207.0 1366.4L1208.0 1368.2L1209.0 1365.8L1210.0 1366.6L1211.0 1367.5L1212.0 1367.3L1213.0 1365.9L1214.0 1366.6L1215.0 1366.5L1216.0 1365.6L1217.0 1366.8L1218.0 1368.0L1219.0 1367.4L1220.0 1368.3L1221.0 1367.8L1222.0 1366.8L1223.0 1368.0L1224.0 1366.1L1225.0 1368.8L1226.0 1367.4L1227.0 1369.4L1228.0 1366.7L1229.0 1367.2L1230.0 1367.7L1231.0 1368.0L1232.0 1366.9L1233.0 1367.2L1234.0 1368.9L1235.0 1367.8L1236.0 1369.4L1237.0 1370.2L1238.0 1367.5L1239.0 1368.5L1240.0 1370.5L1241.0 1370.0L1242.0 1367.9L1243.0 1369.6L1244.0 1370.8L1245.0 1367.5L1246.0 1369.8L1247.0 1370.5L1248.0 1369.2L1249.0 1369.2L1250.0 1370.5L1251.0 1368.5L1252.0 1370.5L1253.0 1371.2L1254.0 1370.3L1255.0 1368.9L1256.0 1371.7L1257.0 1370.4L1258.0 1371.0L1259.0 1369.8L1260.0 1370.6L1261.0 1371.7L1262.0 1369.5L1263.0 1369.7L1264.0 1369.1L1265.0 1371.5L1266.0 1371.6L1267.0 1370.5L1268.0 1371.6L1269.0 1371.4L1270.0 1373.2L1271.0 1370.5L1272.0 1371.9L1273.0 1371.3L1274.0 1373.4L1275.0 1372.3L1276.0 1370.9L1277.0 1372.5L1278.0 1372.0L1279.0 1371.4L1280.0 1372.7L1281.0 1372.5L1282.0 1371.4L1283.0 1372.2L1284.0 1373.7L1285.0 1373.6L1286.0 1372.7L1287.0 1372.6L1288.0 1373.2L1289.0 1373.0L1290.0 1372.1L1291.0 1373.8L1292.0 1372.6L1293.0 1374.7L1294.0 1374.0L1295.0 1374.2L1296.0 1373.4L1297.0 1373.9L1298.0 1373.3L1299.0 1373.5L1300.0 1373.1L1301.0 1375.3L1302.0 1373.2L1303.0 1375.7L1304.0 1375.0L1305.0 1373.6L1306.0 1375.6L1307.0 1374.9L1308.0 1374.0L1309.0 1375.0L1310.0 1374.5L1311.0 1374.2L1312.0 1374.9L1313.0 1375.3L1314.0 1374.9L1315.0 1375.2L1316.0 1376.0L1317.0 1375.3L1318.0 1375.2L1319.0 1374.5L1320.0 1375.6L1321.0 1375.3L1322.0 1375.6L1323.0 1376.6L1324.0 1376.7L1325.0 1376.1L1326.0 1375.7L1327.0 1376.4L1328.0 1376.6L1329.0 1376.6L1330.0 1375.3L1331.0 1376.9L1332.0 1375.8L1333.0 1377.0L1334.0 1377.2L1335.0 1377.1L1336.0 1378.0L1337.0 1377.1L1338.0 1377.5L1339.0 1376.5L1340.0 1377.3L1341.0 1377.3L1342.0 1377.6L1343.0 1377.5L1344.0 1375.7L1345.0 1378.5L1346.0 1378.5L1347.0 1376.2L1348.0 1378.3L1349.0 1379.0L1350.0 1378.8L1351.0 1378.9L1352.0 1378.3L1353.0 1378.1L1354.0 1380.2L1355.0 1379.0L1356.0 1380.1L1357.0 1378.8L1358.0 1379.7L1359.0 1379.7L1360.0 1379.8L1361.0 1378.2L1362.0 1381.3L1363.0 1379.7L1364.0 1379.2L1365.0 1379.8L1366.0 1378.2L1367.0 1380.9L1368.0 1379.5L1369.0 1380.2L1370.0 1380.2L1371.0 1378.7L1372.0 1380.0L1373.0 1381.4L1374.0 1379.8L1375.0 1380.7L1376.0 1381.4L1377.0 1382.0L1378.0 1380.1L1379.0 1381.7L1380.0 1381.5L1381.0 1381.5L1382.0 1382.0L1383.0 1381.9L1384.0 1380.5L1385.0 1381.9L1386.0 1381.0L1387.0 1381.9L1388.0 1381.4L1389.0 1383.1L1390.0 1382.7L1391.0 1382.4L1392.0 1381.6L1393.0 1382.6L1394.0 1381.4L1395.0 1381.7L1396.0 1381.1L1397.0 1383.3L1398.0 1382.3L1399.0 1383.5L1400.0 1383.8L1401.0 1383.8L1402.0 1382.8L1403.0 1384.4L1404.0 1384.2L1405.0 1382.4L1406.0 1383.8L1407.0 1382.9L1408.0 1383.6L1409.0 1384.8L1410.0 1384.1L1411.0 1385.3L1412.0 1384.6L1413.0 1384.8L1414.0 1385.6L1415.0 1385.4L1416.0 1385.1L1417.0 1385.7L1418.0 1385.7L1419.0 1383.7L1420.0 1384.1L1421.0 1385.1L1422.0 1386.0L1423.0 1384.6L1424.0 1384.0L1425.0 1385.4L1426.0 1385.0L1427.0 1386.8L1428.0 1383.8L1429.0 1386.4L1430.0 1386.4L1431.0 1383.9L1432.0 1385.3L1433.0 1386.0L1434.0 1386.6L1435.0 1386.4L1436.0 1387.0L1437.0 1386.8L1438.0 1386.1L1439.0 1388.1L1440.0 1387.1L1441.0 1386.3L1442.0 1387.5L1443.0 1387.1L1444.0 1387.0L1445.0 1386.9L1446.0 1386.3L1447.0 1386.9L1448.0 1386.7L1449.0 1386.3L1450.0 1388.3L1451.0 1388.3L1452.0 1388.0L1453.0 1387.4L1454.0 1387.7L1455.0 1389.7L1456.0 1387.9L1457.0 1389.3L1458.0 1389.0L1459.0 1389.3L1460.0 1388.6L1461.0 1388.9L1462.0 1389.1L1463.0 1388.4L1464.0 1390.5L1465.0 1388.9L1466.0 1389.7L1467.0 1391.1L1468.0 1391.0L1469.0 1389.4L1470.0 1390.4L1471.0 1390.9L1472.0 1388.7L1473.0 1391.9L1474.0 1390.8L1475.0 1390.3L1476.0 1390.6L1477.0 1389.0L1478.0 1391.4L1479.0 1392.2L1480.0 1390.9L1481.0 1392.4L1482.0 1391.8L1483.0 1390.3L1484.0 1391.9L1485.0 1390.0L1486.0 1390.2L1487.0 1392.3L1488.0 1392.3L1489.0 1391.9L1490.0 1392.0L1491.0 1391.0L1492.0 1393.1L1493.0 1392.4L1494.0 1392.3L1495.0 1395.4L1496.0 1392.9L1497.0 1392.8L1498.0 1394.4L1499.0 1393.2L1500.0 1392.8L1501.0 1394.4L1502.0 1393.2L1503.0 1392.8L1504.0 1393.3L1505.0 1393.7L1506.0 1394.4L1507.0 1394.8L1508.0 1393.0L1509.0 1395.0L1510.0 1393.7L1511.0 1393.9L1512.0 1392.4L1513.0 1395.7L1514.0 1395.0L1515.0 1394.5L1516.0 1394.6L1517.0 1395.6L1518.0 1395.0L1519.0 1392.8L1520.0 1395.3L1521.0 1395.2L1522.0 1395.4L1523.0 1395.5L1524.0 1396.2L1525.0 1395.1L1526.0 1397.4L1527.0 1395.9L1528.0 1395.3L1529.0 1396.1L1530.0 1394.8L1531.0 1396.1L1532.0 1395.7L1533.0 1395.6L1534.0 1397.1L1535.0 1396.8L1536.0 1395.9L1537.0 1396.3L1538.0 1397.1L1539.0 1398.6L1540.0 1396.9L1541.0 1397.0L1542.0 1397.6L1543.0 1396.3L1544.0 1397.3L1545.0 1398.0L1546.0 1397.9L1547.0 1397.9L1548.0 1396.8L1549.0 1397.9L1550.0 1399.0L1551.0 1400.0L1552.0 1398.8L1553.0 1397.8L1554.0 1397.9L1555.0 1398.2L1556.0 1400.0L1557.0 1397.5L1558.0 1398.5L1559.0 1397.5L1560.0 1398.5L1561.0 1398.7L1562.0 1399.6L1563.0 1399.6L1564.0 1399.3L1565.0 1399.0L1566.0 1399.0L1567.0 1400.6L1568.0 1399.4L1569.0 1398.7L1570.0 1399.1L1571.0 1399.7L1572.0 1399.2L1573.0 1398.7L1574.0 1400.6L1575.0 1399.5L1576.0 1400.0L1577.0 1400.2L1578.0 1400.1L1579.0 1400.2L1580.0 1398.5L1581.0 1400.5L1582.0 1400.4L1583.0 1400.3L1584.0 1400.6L1585.0 1402.4L1586.0 1402.1L1587.0 1401.5L1588.0 1402.1L1589.0 1400.8L1590.0 1401.1L1591.0 1401.6L1592.0 1401.9L1593.0 1402.0L1594.0 1402.8L1595.0 1401.4L1596.0 1402.5L1597.0 1401.2L1598.0 1402.1L1599.0 1401.1L1600.0 1402.7L1601.0 1401.5L1602.0 1402.9L1603.0 1400.7L1604.0 1403.4L1605.0 1402.2L1606.0 1402.6L1607.0 1402.5L1608.0 1401.2L1609.0 1402.0L1610.0 1402.0L1611.0 1402.5L1612.0 1401.5L1613.0 1402.2L1614.0 1402.8L1615.0 1403.6L1616.0 1403.3L1617.0 1402.0L1618.0 1403.6L1619.0 1404.1L1620.0 1403.6L1621.0 1402.9L1622.0 1402.5L1623.0 1402.9L1624.0 1404.4L1625.0 1402.6L1626.0 1401.6L1627.0 1404.1L1628.0 1403.0L1629.0 1403.5L1630.0 1403.3L1631.0 1404.4L1632.0 1403.4L1633.0 1403.2L1634.0 1403.2L1635.0 1405.1L1636.0 1404.9L1637.0 1403.7L1638.0 1403.6L1639.0 1403.9L1640.0 1404.5L1641.0 1403.5L1642.0 1405.2L1643.0 1404.4L1644.0 1402.4L1645.0 1403.5L1646.0 1404.1L1647.0 1406.0L1648.0 1405.5L1649.0 1404.6L1650.0 1403.6L1651.0 1404.4L1652.0 1404.5L1653.0 1404.2L1654.0 1404.7L1655.0 1405.1L1656.0 1404.3L1657.0 1403.8L1658.0 1404.8L1659.0 1403.6L1660.0 1404.4L1661.0 1405.6L1662.0 1404.9L1663.0 1403.9L1664.0 1404.7L1665.0 1404.6L1666.0 1404.9L1667.0 1405.6L1668.0 1404.5L1669.0 1404.0L1670.0 1406.0L1671.0 1404.3L1672.0 1405.4L1673.0 1405.2L1674.0 1404.7L1675.0 1405.4L1676.0 1405.3L1677.0 1405.2L1678.0 1405.6L1679.0 1404.6L1680.0 1405.7L1681.0 1404.5L1682.0 1405.8L1683.0 1406.1L1684.0 1404.6L1685.0 1406.5L1686.0 1404.7L1687.0 1405.1L1688.0 1404.6L1689.0 1405.0L1690.0 1405.2L1691.0 1404.7L1692.0 1405.8L1693.0 1404.6L1694.0 1405.4L1695.0 1404.4L1696.0 1404.5L1697.0 1405.2L1698.0 1405.4L1699.0 1404.9L1700.0 1405.4L1701.0 1405.5L1702.0 1404.7L1703.0 1405.1L1704.0 1404.5L1705.0 1404.2L1706.0 1404.7L1707.0 1404.9L1708.0 1405.9L1709.0 1405.4L1710.0 1405.1L1711.0 1403.5L1712.0 1404.4L1713.0 1405.4L1714.0 1405.4L1715.0 1405.0L1716.0 1404.1L1717.0 1403.6L1718.0 1403.8L1719.0 1405.0L1720.0 1405.2L1721.0 1406.1L1722.0 1404.4L1723.0 1405.0L1724.0 1404.2L1725.0 1404.6L1726.0 1404.8L1727.0 1404.3L1728.0 1405.7L1729.0 1403.9L1730.0 1405.2L1731.0 1404.4L1732.0 1404.2L1733.0 1405.2L1734.0 1404.1" stroke="#000080"/>
</g>
<rect x="1270" y="200" width="454" height="447" fill="#000"/>
<rect x="1252.5" y="182.5" width="452" height="445" fill="#fff" stroke="#000" stroke-width="3"/>
<line x1="1306" y1="226.3" x2="1441" y2="226.3" stroke="#000000" stroke-width="7"/><text x="1454" y="245.9" class="lg">PLA</text><line x1="1306" y1="299.5" x2="1441" y2="299.5" stroke="#ff0000" stroke-width="7"/><text x="1454" y="319.3" class="lg">PLAK-1</text><line x1="1306" y1="372.7" x2="1441" y2="372.7" stroke="#0000ff" stroke-width="7"/><text x="1454" y="392.7" class="lg">PWC-0.5</text><line x1="1306" y1="445.9" x2="1441" y2="445.9" stroke="#ff00ff" stroke-width="7"/><text x="1454" y="466.1" class="lg">PWC-1</text><line x1="1306" y1="519.1" x2="1441" y2="519.1" stroke="#008000" stroke-width="7"/><text x="1454" y="539.5" class="lg">PWC-1.5</text><line x1="1306" y1="592.3" x2="1441" y2="592.3" stroke="#000080" stroke-width="7"/><text x="1454" y="612.9" class="lg">PWC-2</text>
<text x="333.7" y="61" class="bd">16.7</text>
<text x="459" y="59" class="bd">20.7</text>
<text x="334" y="162" class="bd" letter-spacing="0.7">(110)</text>
<text x="460.5" y="161" class="bd">(200)</text>
<text x="847" y="160" class="bd">32.9</text>
<text x="880" y="1662" class="ax" text-anchor="middle">2&#952; (degree; &#176;)</text>
</svg>
</body></html>
